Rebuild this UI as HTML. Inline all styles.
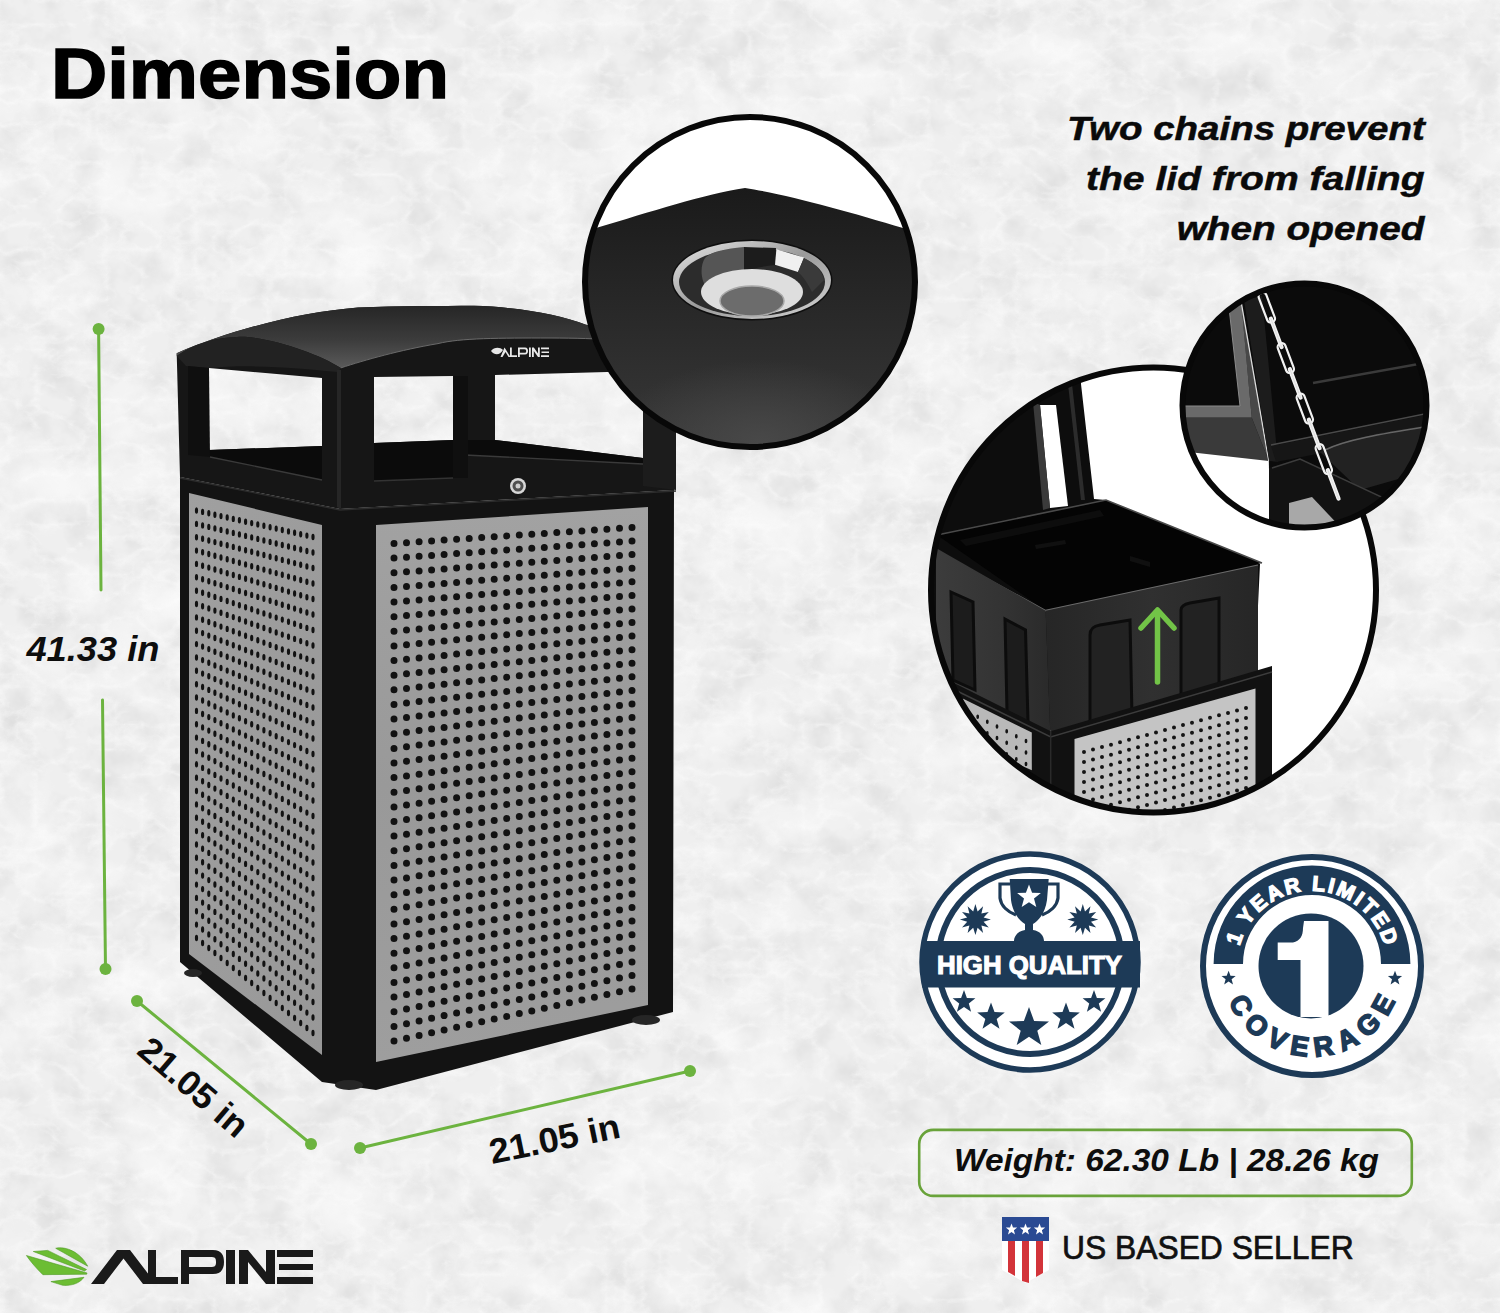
<!DOCTYPE html>
<html><head><meta charset="utf-8">
<style>
html,body{margin:0;padding:0;width:1500px;height:1313px;overflow:hidden;background:#eeeeee;}
svg{display:block;font-family:"Liberation Sans",sans-serif;}
</style></head>
<body>
<svg width="1500" height="1313" viewBox="0 0 1500 1313">
<defs>
  <filter id="tex" x="0" y="0" width="1500" height="1313" filterUnits="userSpaceOnUse" color-interpolation-filters="sRGB">
    <feTurbulence type="turbulence" baseFrequency="0.028 0.04" numOctaves="5" seed="5" result="n"/>
    <feColorMatrix in="n" type="matrix" values="0 0 0 0 1  0 0 0 0 1  0 0 0 0 1  -3 0 0 0 1.0" />
  </filter>
  <filter id="tex2" x="0" y="0" width="1500" height="1313" filterUnits="userSpaceOnUse" color-interpolation-filters="sRGB">
    <feTurbulence type="fractalNoise" baseFrequency="0.01 0.014" numOctaves="4" seed="9" result="n"/>
    <feColorMatrix in="n" type="matrix" values="0 0 0 0 1  0 0 0 0 1  0 0 0 0 1  2.2 0 0 0 -0.95" />
  </filter>
  <filter id="tex3" x="0" y="0" width="1500" height="1313" filterUnits="userSpaceOnUse" color-interpolation-filters="sRGB">
    <feTurbulence type="fractalNoise" baseFrequency="0.03 0.03" numOctaves="4" seed="21" result="n"/>
    <feColorMatrix in="n" type="matrix" values="0 0 0 0 0.7  0 0 0 0 0.7  0 0 0 0 0.7  0.5 0 0 0 -0.2" />
  </filter>
  <linearGradient id="lidTop" x1="0" y1="0" x2="0" y2="1">
    <stop offset="0" stop-color="#262626"/>
    <stop offset="0.55" stop-color="#3c3c3c"/>
    <stop offset="1" stop-color="#5a5a5a"/>
  </linearGradient>
  <linearGradient id="panelF" x1="0" y1="0" x2="0" y2="1">
    <stop offset="0" stop-color="#a2a2a2"/>
    <stop offset="0.5" stop-color="#999999"/>
    <stop offset="1" stop-color="#9e9e9e"/>
  </linearGradient>
  <linearGradient id="panelL" x1="0" y1="0" x2="1" y2="1">
    <stop offset="0" stop-color="#a0a0a0"/>
    <stop offset="1" stop-color="#989898"/>
  </linearGradient>
  <linearGradient id="lidg" x1="0" y1="0" x2="0" y2="1">
    <stop offset="0" stop-color="#1a1a1a"/>
    <stop offset="0.5" stop-color="#2a2a2a"/>
    <stop offset="1" stop-color="#3a3a3a"/>
  </linearGradient>
  <linearGradient id="rimg" x1="0" y1="0" x2="1" y2="1">
    <stop offset="0" stop-color="#e6e6e6"/>
    <stop offset="0.5" stop-color="#9a9a9a"/>
    <stop offset="1" stop-color="#d6d6d6"/>
  </linearGradient>
  <radialGradient id="glow1" cx="0.5" cy="0.5" r="0.5">
    <stop offset="0" stop-color="#4a4a4a" stop-opacity="0.9"/>
    <stop offset="1" stop-color="#4a4a4a" stop-opacity="0"/>
  </radialGradient>
  <radialGradient id="ashg" cx="0.5" cy="0.55" r="0.5">
    <stop offset="0.55" stop-color="#7a7a7a"/>
    <stop offset="0.85" stop-color="#cfcfcf"/>
    <stop offset="1" stop-color="#f2f2f2"/>
  </radialGradient>
  <linearGradient id="bucketL" x1="0" y1="0" x2="1" y2="0">
    <stop offset="0" stop-color="#3c3c3c"/>
    <stop offset="0.6" stop-color="#333333"/>
    <stop offset="1" stop-color="#2a2a2a"/>
  </linearGradient>
  <linearGradient id="bucketF" x1="0" y1="0" x2="1" y2="0">
    <stop offset="0" stop-color="#262626"/>
    <stop offset="0.5" stop-color="#303030"/>
    <stop offset="1" stop-color="#262626"/>
  </linearGradient>
</defs>

<rect x="0" y="0" width="1500" height="1313" fill="#efefef"/>
<rect x="0" y="0" width="1500" height="1313" filter="url(#tex3)"/>
<rect x="0" y="0" width="1500" height="1313" filter="url(#tex2)" opacity="0.6"/>
<rect x="0" y="0" width="1500" height="1313" filter="url(#tex)" opacity="0.45"/>
<g id="can">
<path fill="#161616" fill-rule="evenodd" d="
 M176.7,353.3 C230,330 300,312 358,307.5 C400,306 440,306 474,305.8 C520,307 560,315 586,324.7 C620,331 650,336 676,342 L674,490 L340,509 L180,477 Z
 M209,368 L322,378 L322,446 L209,450 Z
 M374,377 L453,376 L453,440 L374,443 Z
 M495,375 L643,371 L643,458 L495,440 Z"/>
<path fill="url(#lidTop)" d="M176.7,353.3 C230,330 300,312 358,307.5 C400,306 440,306 474,305.8 C520,307 560,315 586,324.7 C620,331 650,336 676,342 L676,346 C640,341 600,338 550,338 C500,338 460,338 438,343.6 C400,350 365,360 340.8,367.9 C320,355 280,340 245,336.7 C215,337 195,343 176.7,356 Z"/>
<path fill="none" stroke="#6a6a6a" stroke-width="1" d="M340.8,367.9 C365,360 400,350 438,343.6 C460,338 500,338 550,338 C600,338 640,341 676,346"/>
<path fill="#222222" d="M176.7,356 C195,343 215,337 245,336.7 C280,340 320,355 340.8,367.9 L338,372 C300,368 250,364 209,368 L186,366 Z"/>
<path fill="#0b0b0b" d="M209,450 L322,446 L322,480 L210,457 Z"/>
<path fill="none" stroke="#3a3a3a" stroke-width="1.3" d="M210,457 L322,480"/>
<path fill="#0b0b0b" d="M374,443 L453,440 L453,478 L374,481 Z"/>
<path fill="none" stroke="#333" stroke-width="1.3" d="M374,481 L453,478"/>
<path fill="#0b0b0b" d="M495,440 L643,458 L643,464 L465,455 L465,440 Z"/>
<path fill="none" stroke="#3a3a3a" stroke-width="1.3" d="M465,455 L643,464"/>
<path fill="#0f0f0f" d="M188,366 L209,368 L210,457 L188,455 Z"/>
<path fill="#0f0f0f" d="M453,376 L468,376 L468,478 L453,478 Z"/>
<path fill="#262626" d="M337,370 L341,370 L341,509 L337,507 Z"/>
<path fill="#131313" d="M180,477 L340,509 L674,490 L673,1012 L376,1090 L322,1082 L180,962 Z"/>
<path fill="none" stroke="#2c2c2c" stroke-width="1.3" d="M180,478 L340,510 L676,491"/>
<path fill="#1c1c1c" d="M643,371 L676,342 L676,490 L643,486 Z"/>
<path fill="url(#panelL)" d="M189,493 L322,525 L322,1055 L189,954 Z"/>
<path fill="url(#panelF)" d="M376,525 L648,507 L648,1005 L376,1062 Z"/>
<path fill="#121212" d="M390.5,543.5a3.5,3.5 0 1 0 7.0,0a3.5,3.5 0 1 0 -7.0,0M403.0,542.7a3.5,3.5 0 1 0 7.0,0a3.5,3.5 0 1 0 -7.0,0M415.6,541.8a3.5,3.5 0 1 0 7.0,0a3.5,3.5 0 1 0 -7.0,0M428.1,541.0a3.5,3.5 0 1 0 7.0,0a3.5,3.5 0 1 0 -7.0,0M440.6,540.1a3.5,3.5 0 1 0 7.0,0a3.5,3.5 0 1 0 -7.0,0M453.1,539.3a3.5,3.5 0 1 0 7.0,0a3.5,3.5 0 1 0 -7.0,0M465.7,538.4a3.5,3.5 0 1 0 7.0,0a3.5,3.5 0 1 0 -7.0,0M478.2,537.6a3.5,3.5 0 1 0 7.0,0a3.5,3.5 0 1 0 -7.0,0M490.7,536.8a3.5,3.5 0 1 0 7.0,0a3.5,3.5 0 1 0 -7.0,0M503.2,535.9a3.5,3.5 0 1 0 7.0,0a3.5,3.5 0 1 0 -7.0,0M515.8,535.1a3.5,3.5 0 1 0 7.0,0a3.5,3.5 0 1 0 -7.0,0M528.3,534.2a3.5,3.5 0 1 0 7.0,0a3.5,3.5 0 1 0 -7.0,0M540.8,533.4a3.5,3.5 0 1 0 7.0,0a3.5,3.5 0 1 0 -7.0,0M553.3,532.6a3.5,3.5 0 1 0 7.0,0a3.5,3.5 0 1 0 -7.0,0M565.9,531.7a3.5,3.5 0 1 0 7.0,0a3.5,3.5 0 1 0 -7.0,0M578.4,530.9a3.5,3.5 0 1 0 7.0,0a3.5,3.5 0 1 0 -7.0,0M590.9,530.0a3.5,3.5 0 1 0 7.0,0a3.5,3.5 0 1 0 -7.0,0M603.4,529.2a3.5,3.5 0 1 0 7.0,0a3.5,3.5 0 1 0 -7.0,0M616.0,528.3a3.5,3.5 0 1 0 7.0,0a3.5,3.5 0 1 0 -7.0,0M628.5,527.5a3.5,3.5 0 1 0 7.0,0a3.5,3.5 0 1 0 -7.0,0M390.5,558.1a3.5,3.5 0 1 0 7.0,0a3.5,3.5 0 1 0 -7.0,0M403.0,557.2a3.5,3.5 0 1 0 7.0,0a3.5,3.5 0 1 0 -7.0,0M415.6,556.3a3.5,3.5 0 1 0 7.0,0a3.5,3.5 0 1 0 -7.0,0M428.1,555.4a3.5,3.5 0 1 0 7.0,0a3.5,3.5 0 1 0 -7.0,0M440.6,554.5a3.5,3.5 0 1 0 7.0,0a3.5,3.5 0 1 0 -7.0,0M453.1,553.6a3.5,3.5 0 1 0 7.0,0a3.5,3.5 0 1 0 -7.0,0M465.7,552.7a3.5,3.5 0 1 0 7.0,0a3.5,3.5 0 1 0 -7.0,0M478.2,551.8a3.5,3.5 0 1 0 7.0,0a3.5,3.5 0 1 0 -7.0,0M490.7,550.9a3.5,3.5 0 1 0 7.0,0a3.5,3.5 0 1 0 -7.0,0M503.2,550.1a3.5,3.5 0 1 0 7.0,0a3.5,3.5 0 1 0 -7.0,0M515.8,549.2a3.5,3.5 0 1 0 7.0,0a3.5,3.5 0 1 0 -7.0,0M528.3,548.3a3.5,3.5 0 1 0 7.0,0a3.5,3.5 0 1 0 -7.0,0M540.8,547.4a3.5,3.5 0 1 0 7.0,0a3.5,3.5 0 1 0 -7.0,0M553.3,546.5a3.5,3.5 0 1 0 7.0,0a3.5,3.5 0 1 0 -7.0,0M565.9,545.6a3.5,3.5 0 1 0 7.0,0a3.5,3.5 0 1 0 -7.0,0M578.4,544.7a3.5,3.5 0 1 0 7.0,0a3.5,3.5 0 1 0 -7.0,0M590.9,543.8a3.5,3.5 0 1 0 7.0,0a3.5,3.5 0 1 0 -7.0,0M603.4,542.9a3.5,3.5 0 1 0 7.0,0a3.5,3.5 0 1 0 -7.0,0M616.0,542.0a3.5,3.5 0 1 0 7.0,0a3.5,3.5 0 1 0 -7.0,0M628.5,541.1a3.5,3.5 0 1 0 7.0,0a3.5,3.5 0 1 0 -7.0,0M390.5,572.8a3.5,3.5 0 1 0 7.0,0a3.5,3.5 0 1 0 -7.0,0M403.0,571.8a3.5,3.5 0 1 0 7.0,0a3.5,3.5 0 1 0 -7.0,0M415.6,570.9a3.5,3.5 0 1 0 7.0,0a3.5,3.5 0 1 0 -7.0,0M428.1,569.9a3.5,3.5 0 1 0 7.0,0a3.5,3.5 0 1 0 -7.0,0M440.6,569.0a3.5,3.5 0 1 0 7.0,0a3.5,3.5 0 1 0 -7.0,0M453.1,568.0a3.5,3.5 0 1 0 7.0,0a3.5,3.5 0 1 0 -7.0,0M465.7,567.0a3.5,3.5 0 1 0 7.0,0a3.5,3.5 0 1 0 -7.0,0M478.2,566.1a3.5,3.5 0 1 0 7.0,0a3.5,3.5 0 1 0 -7.0,0M490.7,565.1a3.5,3.5 0 1 0 7.0,0a3.5,3.5 0 1 0 -7.0,0M503.2,564.2a3.5,3.5 0 1 0 7.0,0a3.5,3.5 0 1 0 -7.0,0M515.8,563.2a3.5,3.5 0 1 0 7.0,0a3.5,3.5 0 1 0 -7.0,0M528.3,562.3a3.5,3.5 0 1 0 7.0,0a3.5,3.5 0 1 0 -7.0,0M540.8,561.3a3.5,3.5 0 1 0 7.0,0a3.5,3.5 0 1 0 -7.0,0M553.3,560.4a3.5,3.5 0 1 0 7.0,0a3.5,3.5 0 1 0 -7.0,0M565.9,559.4a3.5,3.5 0 1 0 7.0,0a3.5,3.5 0 1 0 -7.0,0M578.4,558.5a3.5,3.5 0 1 0 7.0,0a3.5,3.5 0 1 0 -7.0,0M590.9,557.5a3.5,3.5 0 1 0 7.0,0a3.5,3.5 0 1 0 -7.0,0M603.4,556.6a3.5,3.5 0 1 0 7.0,0a3.5,3.5 0 1 0 -7.0,0M616.0,555.6a3.5,3.5 0 1 0 7.0,0a3.5,3.5 0 1 0 -7.0,0M628.5,554.6a3.5,3.5 0 1 0 7.0,0a3.5,3.5 0 1 0 -7.0,0M390.5,587.4a3.5,3.5 0 1 0 7.0,0a3.5,3.5 0 1 0 -7.0,0M403.0,586.4a3.5,3.5 0 1 0 7.0,0a3.5,3.5 0 1 0 -7.0,0M415.6,585.4a3.5,3.5 0 1 0 7.0,0a3.5,3.5 0 1 0 -7.0,0M428.1,584.4a3.5,3.5 0 1 0 7.0,0a3.5,3.5 0 1 0 -7.0,0M440.6,583.4a3.5,3.5 0 1 0 7.0,0a3.5,3.5 0 1 0 -7.0,0M453.1,582.4a3.5,3.5 0 1 0 7.0,0a3.5,3.5 0 1 0 -7.0,0M465.7,581.3a3.5,3.5 0 1 0 7.0,0a3.5,3.5 0 1 0 -7.0,0M478.2,580.3a3.5,3.5 0 1 0 7.0,0a3.5,3.5 0 1 0 -7.0,0M490.7,579.3a3.5,3.5 0 1 0 7.0,0a3.5,3.5 0 1 0 -7.0,0M503.2,578.3a3.5,3.5 0 1 0 7.0,0a3.5,3.5 0 1 0 -7.0,0M515.8,577.3a3.5,3.5 0 1 0 7.0,0a3.5,3.5 0 1 0 -7.0,0M528.3,576.3a3.5,3.5 0 1 0 7.0,0a3.5,3.5 0 1 0 -7.0,0M540.8,575.3a3.5,3.5 0 1 0 7.0,0a3.5,3.5 0 1 0 -7.0,0M553.3,574.3a3.5,3.5 0 1 0 7.0,0a3.5,3.5 0 1 0 -7.0,0M565.9,573.3a3.5,3.5 0 1 0 7.0,0a3.5,3.5 0 1 0 -7.0,0M578.4,572.3a3.5,3.5 0 1 0 7.0,0a3.5,3.5 0 1 0 -7.0,0M590.9,571.2a3.5,3.5 0 1 0 7.0,0a3.5,3.5 0 1 0 -7.0,0M603.4,570.2a3.5,3.5 0 1 0 7.0,0a3.5,3.5 0 1 0 -7.0,0M616.0,569.2a3.5,3.5 0 1 0 7.0,0a3.5,3.5 0 1 0 -7.0,0M628.5,568.2a3.5,3.5 0 1 0 7.0,0a3.5,3.5 0 1 0 -7.0,0M390.5,602.0a3.5,3.5 0 1 0 7.0,0a3.5,3.5 0 1 0 -7.0,0M403.0,601.0a3.5,3.5 0 1 0 7.0,0a3.5,3.5 0 1 0 -7.0,0M415.6,599.9a3.5,3.5 0 1 0 7.0,0a3.5,3.5 0 1 0 -7.0,0M428.1,598.8a3.5,3.5 0 1 0 7.0,0a3.5,3.5 0 1 0 -7.0,0M440.6,597.8a3.5,3.5 0 1 0 7.0,0a3.5,3.5 0 1 0 -7.0,0M453.1,596.7a3.5,3.5 0 1 0 7.0,0a3.5,3.5 0 1 0 -7.0,0M465.7,595.6a3.5,3.5 0 1 0 7.0,0a3.5,3.5 0 1 0 -7.0,0M478.2,594.6a3.5,3.5 0 1 0 7.0,0a3.5,3.5 0 1 0 -7.0,0M490.7,593.5a3.5,3.5 0 1 0 7.0,0a3.5,3.5 0 1 0 -7.0,0M503.2,592.4a3.5,3.5 0 1 0 7.0,0a3.5,3.5 0 1 0 -7.0,0M515.8,591.4a3.5,3.5 0 1 0 7.0,0a3.5,3.5 0 1 0 -7.0,0M528.3,590.3a3.5,3.5 0 1 0 7.0,0a3.5,3.5 0 1 0 -7.0,0M540.8,589.2a3.5,3.5 0 1 0 7.0,0a3.5,3.5 0 1 0 -7.0,0M553.3,588.2a3.5,3.5 0 1 0 7.0,0a3.5,3.5 0 1 0 -7.0,0M565.9,587.1a3.5,3.5 0 1 0 7.0,0a3.5,3.5 0 1 0 -7.0,0M578.4,586.1a3.5,3.5 0 1 0 7.0,0a3.5,3.5 0 1 0 -7.0,0M590.9,585.0a3.5,3.5 0 1 0 7.0,0a3.5,3.5 0 1 0 -7.0,0M603.4,583.9a3.5,3.5 0 1 0 7.0,0a3.5,3.5 0 1 0 -7.0,0M616.0,582.9a3.5,3.5 0 1 0 7.0,0a3.5,3.5 0 1 0 -7.0,0M628.5,581.8a3.5,3.5 0 1 0 7.0,0a3.5,3.5 0 1 0 -7.0,0M390.5,616.7a3.5,3.5 0 1 0 7.0,0a3.5,3.5 0 1 0 -7.0,0M403.0,615.5a3.5,3.5 0 1 0 7.0,0a3.5,3.5 0 1 0 -7.0,0M415.6,614.4a3.5,3.5 0 1 0 7.0,0a3.5,3.5 0 1 0 -7.0,0M428.1,613.3a3.5,3.5 0 1 0 7.0,0a3.5,3.5 0 1 0 -7.0,0M440.6,612.2a3.5,3.5 0 1 0 7.0,0a3.5,3.5 0 1 0 -7.0,0M453.1,611.1a3.5,3.5 0 1 0 7.0,0a3.5,3.5 0 1 0 -7.0,0M465.7,609.9a3.5,3.5 0 1 0 7.0,0a3.5,3.5 0 1 0 -7.0,0M478.2,608.8a3.5,3.5 0 1 0 7.0,0a3.5,3.5 0 1 0 -7.0,0M490.7,607.7a3.5,3.5 0 1 0 7.0,0a3.5,3.5 0 1 0 -7.0,0M503.2,606.6a3.5,3.5 0 1 0 7.0,0a3.5,3.5 0 1 0 -7.0,0M515.8,605.5a3.5,3.5 0 1 0 7.0,0a3.5,3.5 0 1 0 -7.0,0M528.3,604.3a3.5,3.5 0 1 0 7.0,0a3.5,3.5 0 1 0 -7.0,0M540.8,603.2a3.5,3.5 0 1 0 7.0,0a3.5,3.5 0 1 0 -7.0,0M553.3,602.1a3.5,3.5 0 1 0 7.0,0a3.5,3.5 0 1 0 -7.0,0M565.9,601.0a3.5,3.5 0 1 0 7.0,0a3.5,3.5 0 1 0 -7.0,0M578.4,599.9a3.5,3.5 0 1 0 7.0,0a3.5,3.5 0 1 0 -7.0,0M590.9,598.7a3.5,3.5 0 1 0 7.0,0a3.5,3.5 0 1 0 -7.0,0M603.4,597.6a3.5,3.5 0 1 0 7.0,0a3.5,3.5 0 1 0 -7.0,0M616.0,596.5a3.5,3.5 0 1 0 7.0,0a3.5,3.5 0 1 0 -7.0,0M628.5,595.4a3.5,3.5 0 1 0 7.0,0a3.5,3.5 0 1 0 -7.0,0M390.5,631.3a3.5,3.5 0 1 0 7.0,0a3.5,3.5 0 1 0 -7.0,0M403.0,630.1a3.5,3.5 0 1 0 7.0,0a3.5,3.5 0 1 0 -7.0,0M415.6,628.9a3.5,3.5 0 1 0 7.0,0a3.5,3.5 0 1 0 -7.0,0M428.1,627.8a3.5,3.5 0 1 0 7.0,0a3.5,3.5 0 1 0 -7.0,0M440.6,626.6a3.5,3.5 0 1 0 7.0,0a3.5,3.5 0 1 0 -7.0,0M453.1,625.4a3.5,3.5 0 1 0 7.0,0a3.5,3.5 0 1 0 -7.0,0M465.7,624.2a3.5,3.5 0 1 0 7.0,0a3.5,3.5 0 1 0 -7.0,0M478.2,623.1a3.5,3.5 0 1 0 7.0,0a3.5,3.5 0 1 0 -7.0,0M490.7,621.9a3.5,3.5 0 1 0 7.0,0a3.5,3.5 0 1 0 -7.0,0M503.2,620.7a3.5,3.5 0 1 0 7.0,0a3.5,3.5 0 1 0 -7.0,0M515.8,619.5a3.5,3.5 0 1 0 7.0,0a3.5,3.5 0 1 0 -7.0,0M528.3,618.4a3.5,3.5 0 1 0 7.0,0a3.5,3.5 0 1 0 -7.0,0M540.8,617.2a3.5,3.5 0 1 0 7.0,0a3.5,3.5 0 1 0 -7.0,0M553.3,616.0a3.5,3.5 0 1 0 7.0,0a3.5,3.5 0 1 0 -7.0,0M565.9,614.8a3.5,3.5 0 1 0 7.0,0a3.5,3.5 0 1 0 -7.0,0M578.4,613.6a3.5,3.5 0 1 0 7.0,0a3.5,3.5 0 1 0 -7.0,0M590.9,612.5a3.5,3.5 0 1 0 7.0,0a3.5,3.5 0 1 0 -7.0,0M603.4,611.3a3.5,3.5 0 1 0 7.0,0a3.5,3.5 0 1 0 -7.0,0M616.0,610.1a3.5,3.5 0 1 0 7.0,0a3.5,3.5 0 1 0 -7.0,0M628.5,608.9a3.5,3.5 0 1 0 7.0,0a3.5,3.5 0 1 0 -7.0,0M390.5,645.9a3.5,3.5 0 1 0 7.0,0a3.5,3.5 0 1 0 -7.0,0M403.0,644.7a3.5,3.5 0 1 0 7.0,0a3.5,3.5 0 1 0 -7.0,0M415.6,643.5a3.5,3.5 0 1 0 7.0,0a3.5,3.5 0 1 0 -7.0,0M428.1,642.2a3.5,3.5 0 1 0 7.0,0a3.5,3.5 0 1 0 -7.0,0M440.6,641.0a3.5,3.5 0 1 0 7.0,0a3.5,3.5 0 1 0 -7.0,0M453.1,639.8a3.5,3.5 0 1 0 7.0,0a3.5,3.5 0 1 0 -7.0,0M465.7,638.5a3.5,3.5 0 1 0 7.0,0a3.5,3.5 0 1 0 -7.0,0M478.2,637.3a3.5,3.5 0 1 0 7.0,0a3.5,3.5 0 1 0 -7.0,0M490.7,636.1a3.5,3.5 0 1 0 7.0,0a3.5,3.5 0 1 0 -7.0,0M503.2,634.8a3.5,3.5 0 1 0 7.0,0a3.5,3.5 0 1 0 -7.0,0M515.8,633.6a3.5,3.5 0 1 0 7.0,0a3.5,3.5 0 1 0 -7.0,0M528.3,632.4a3.5,3.5 0 1 0 7.0,0a3.5,3.5 0 1 0 -7.0,0M540.8,631.1a3.5,3.5 0 1 0 7.0,0a3.5,3.5 0 1 0 -7.0,0M553.3,629.9a3.5,3.5 0 1 0 7.0,0a3.5,3.5 0 1 0 -7.0,0M565.9,628.7a3.5,3.5 0 1 0 7.0,0a3.5,3.5 0 1 0 -7.0,0M578.4,627.4a3.5,3.5 0 1 0 7.0,0a3.5,3.5 0 1 0 -7.0,0M590.9,626.2a3.5,3.5 0 1 0 7.0,0a3.5,3.5 0 1 0 -7.0,0M603.4,625.0a3.5,3.5 0 1 0 7.0,0a3.5,3.5 0 1 0 -7.0,0M616.0,623.7a3.5,3.5 0 1 0 7.0,0a3.5,3.5 0 1 0 -7.0,0M628.5,622.5a3.5,3.5 0 1 0 7.0,0a3.5,3.5 0 1 0 -7.0,0M390.5,660.6a3.5,3.5 0 1 0 7.0,0a3.5,3.5 0 1 0 -7.0,0M403.0,659.3a3.5,3.5 0 1 0 7.0,0a3.5,3.5 0 1 0 -7.0,0M415.6,658.0a3.5,3.5 0 1 0 7.0,0a3.5,3.5 0 1 0 -7.0,0M428.1,656.7a3.5,3.5 0 1 0 7.0,0a3.5,3.5 0 1 0 -7.0,0M440.6,655.4a3.5,3.5 0 1 0 7.0,0a3.5,3.5 0 1 0 -7.0,0M453.1,654.1a3.5,3.5 0 1 0 7.0,0a3.5,3.5 0 1 0 -7.0,0M465.7,652.8a3.5,3.5 0 1 0 7.0,0a3.5,3.5 0 1 0 -7.0,0M478.2,651.5a3.5,3.5 0 1 0 7.0,0a3.5,3.5 0 1 0 -7.0,0M490.7,650.3a3.5,3.5 0 1 0 7.0,0a3.5,3.5 0 1 0 -7.0,0M503.2,649.0a3.5,3.5 0 1 0 7.0,0a3.5,3.5 0 1 0 -7.0,0M515.8,647.7a3.5,3.5 0 1 0 7.0,0a3.5,3.5 0 1 0 -7.0,0M528.3,646.4a3.5,3.5 0 1 0 7.0,0a3.5,3.5 0 1 0 -7.0,0M540.8,645.1a3.5,3.5 0 1 0 7.0,0a3.5,3.5 0 1 0 -7.0,0M553.3,643.8a3.5,3.5 0 1 0 7.0,0a3.5,3.5 0 1 0 -7.0,0M565.9,642.5a3.5,3.5 0 1 0 7.0,0a3.5,3.5 0 1 0 -7.0,0M578.4,641.2a3.5,3.5 0 1 0 7.0,0a3.5,3.5 0 1 0 -7.0,0M590.9,640.0a3.5,3.5 0 1 0 7.0,0a3.5,3.5 0 1 0 -7.0,0M603.4,638.7a3.5,3.5 0 1 0 7.0,0a3.5,3.5 0 1 0 -7.0,0M616.0,637.4a3.5,3.5 0 1 0 7.0,0a3.5,3.5 0 1 0 -7.0,0M628.5,636.1a3.5,3.5 0 1 0 7.0,0a3.5,3.5 0 1 0 -7.0,0M390.5,675.2a3.5,3.5 0 1 0 7.0,0a3.5,3.5 0 1 0 -7.0,0M403.0,673.8a3.5,3.5 0 1 0 7.0,0a3.5,3.5 0 1 0 -7.0,0M415.6,672.5a3.5,3.5 0 1 0 7.0,0a3.5,3.5 0 1 0 -7.0,0M428.1,671.2a3.5,3.5 0 1 0 7.0,0a3.5,3.5 0 1 0 -7.0,0M440.6,669.8a3.5,3.5 0 1 0 7.0,0a3.5,3.5 0 1 0 -7.0,0M453.1,668.5a3.5,3.5 0 1 0 7.0,0a3.5,3.5 0 1 0 -7.0,0M465.7,667.1a3.5,3.5 0 1 0 7.0,0a3.5,3.5 0 1 0 -7.0,0M478.2,665.8a3.5,3.5 0 1 0 7.0,0a3.5,3.5 0 1 0 -7.0,0M490.7,664.4a3.5,3.5 0 1 0 7.0,0a3.5,3.5 0 1 0 -7.0,0M503.2,663.1a3.5,3.5 0 1 0 7.0,0a3.5,3.5 0 1 0 -7.0,0M515.8,661.8a3.5,3.5 0 1 0 7.0,0a3.5,3.5 0 1 0 -7.0,0M528.3,660.4a3.5,3.5 0 1 0 7.0,0a3.5,3.5 0 1 0 -7.0,0M540.8,659.1a3.5,3.5 0 1 0 7.0,0a3.5,3.5 0 1 0 -7.0,0M553.3,657.7a3.5,3.5 0 1 0 7.0,0a3.5,3.5 0 1 0 -7.0,0M565.9,656.4a3.5,3.5 0 1 0 7.0,0a3.5,3.5 0 1 0 -7.0,0M578.4,655.0a3.5,3.5 0 1 0 7.0,0a3.5,3.5 0 1 0 -7.0,0M590.9,653.7a3.5,3.5 0 1 0 7.0,0a3.5,3.5 0 1 0 -7.0,0M603.4,652.3a3.5,3.5 0 1 0 7.0,0a3.5,3.5 0 1 0 -7.0,0M616.0,651.0a3.5,3.5 0 1 0 7.0,0a3.5,3.5 0 1 0 -7.0,0M628.5,649.7a3.5,3.5 0 1 0 7.0,0a3.5,3.5 0 1 0 -7.0,0M390.5,689.8a3.5,3.5 0 1 0 7.0,0a3.5,3.5 0 1 0 -7.0,0M403.0,688.4a3.5,3.5 0 1 0 7.0,0a3.5,3.5 0 1 0 -7.0,0M415.6,687.0a3.5,3.5 0 1 0 7.0,0a3.5,3.5 0 1 0 -7.0,0M428.1,685.6a3.5,3.5 0 1 0 7.0,0a3.5,3.5 0 1 0 -7.0,0M440.6,684.2a3.5,3.5 0 1 0 7.0,0a3.5,3.5 0 1 0 -7.0,0M453.1,682.8a3.5,3.5 0 1 0 7.0,0a3.5,3.5 0 1 0 -7.0,0M465.7,681.4a3.5,3.5 0 1 0 7.0,0a3.5,3.5 0 1 0 -7.0,0M478.2,680.0a3.5,3.5 0 1 0 7.0,0a3.5,3.5 0 1 0 -7.0,0M490.7,678.6a3.5,3.5 0 1 0 7.0,0a3.5,3.5 0 1 0 -7.0,0M503.2,677.2a3.5,3.5 0 1 0 7.0,0a3.5,3.5 0 1 0 -7.0,0M515.8,675.8a3.5,3.5 0 1 0 7.0,0a3.5,3.5 0 1 0 -7.0,0M528.3,674.4a3.5,3.5 0 1 0 7.0,0a3.5,3.5 0 1 0 -7.0,0M540.8,673.0a3.5,3.5 0 1 0 7.0,0a3.5,3.5 0 1 0 -7.0,0M553.3,671.6a3.5,3.5 0 1 0 7.0,0a3.5,3.5 0 1 0 -7.0,0M565.9,670.2a3.5,3.5 0 1 0 7.0,0a3.5,3.5 0 1 0 -7.0,0M578.4,668.8a3.5,3.5 0 1 0 7.0,0a3.5,3.5 0 1 0 -7.0,0M590.9,667.4a3.5,3.5 0 1 0 7.0,0a3.5,3.5 0 1 0 -7.0,0M603.4,666.0a3.5,3.5 0 1 0 7.0,0a3.5,3.5 0 1 0 -7.0,0M616.0,664.6a3.5,3.5 0 1 0 7.0,0a3.5,3.5 0 1 0 -7.0,0M628.5,663.2a3.5,3.5 0 1 0 7.0,0a3.5,3.5 0 1 0 -7.0,0M390.5,704.5a3.5,3.5 0 1 0 7.0,0a3.5,3.5 0 1 0 -7.0,0M403.0,703.0a3.5,3.5 0 1 0 7.0,0a3.5,3.5 0 1 0 -7.0,0M415.6,701.5a3.5,3.5 0 1 0 7.0,0a3.5,3.5 0 1 0 -7.0,0M428.1,700.1a3.5,3.5 0 1 0 7.0,0a3.5,3.5 0 1 0 -7.0,0M440.6,698.6a3.5,3.5 0 1 0 7.0,0a3.5,3.5 0 1 0 -7.0,0M453.1,697.2a3.5,3.5 0 1 0 7.0,0a3.5,3.5 0 1 0 -7.0,0M465.7,695.7a3.5,3.5 0 1 0 7.0,0a3.5,3.5 0 1 0 -7.0,0M478.2,694.3a3.5,3.5 0 1 0 7.0,0a3.5,3.5 0 1 0 -7.0,0M490.7,692.8a3.5,3.5 0 1 0 7.0,0a3.5,3.5 0 1 0 -7.0,0M503.2,691.4a3.5,3.5 0 1 0 7.0,0a3.5,3.5 0 1 0 -7.0,0M515.8,689.9a3.5,3.5 0 1 0 7.0,0a3.5,3.5 0 1 0 -7.0,0M528.3,688.4a3.5,3.5 0 1 0 7.0,0a3.5,3.5 0 1 0 -7.0,0M540.8,687.0a3.5,3.5 0 1 0 7.0,0a3.5,3.5 0 1 0 -7.0,0M553.3,685.5a3.5,3.5 0 1 0 7.0,0a3.5,3.5 0 1 0 -7.0,0M565.9,684.1a3.5,3.5 0 1 0 7.0,0a3.5,3.5 0 1 0 -7.0,0M578.4,682.6a3.5,3.5 0 1 0 7.0,0a3.5,3.5 0 1 0 -7.0,0M590.9,681.2a3.5,3.5 0 1 0 7.0,0a3.5,3.5 0 1 0 -7.0,0M603.4,679.7a3.5,3.5 0 1 0 7.0,0a3.5,3.5 0 1 0 -7.0,0M616.0,678.3a3.5,3.5 0 1 0 7.0,0a3.5,3.5 0 1 0 -7.0,0M628.5,676.8a3.5,3.5 0 1 0 7.0,0a3.5,3.5 0 1 0 -7.0,0M390.5,719.1a3.5,3.5 0 1 0 7.0,0a3.5,3.5 0 1 0 -7.0,0M403.0,717.6a3.5,3.5 0 1 0 7.0,0a3.5,3.5 0 1 0 -7.0,0M415.6,716.1a3.5,3.5 0 1 0 7.0,0a3.5,3.5 0 1 0 -7.0,0M428.1,714.6a3.5,3.5 0 1 0 7.0,0a3.5,3.5 0 1 0 -7.0,0M440.6,713.0a3.5,3.5 0 1 0 7.0,0a3.5,3.5 0 1 0 -7.0,0M453.1,711.5a3.5,3.5 0 1 0 7.0,0a3.5,3.5 0 1 0 -7.0,0M465.7,710.0a3.5,3.5 0 1 0 7.0,0a3.5,3.5 0 1 0 -7.0,0M478.2,708.5a3.5,3.5 0 1 0 7.0,0a3.5,3.5 0 1 0 -7.0,0M490.7,707.0a3.5,3.5 0 1 0 7.0,0a3.5,3.5 0 1 0 -7.0,0M503.2,705.5a3.5,3.5 0 1 0 7.0,0a3.5,3.5 0 1 0 -7.0,0M515.8,704.0a3.5,3.5 0 1 0 7.0,0a3.5,3.5 0 1 0 -7.0,0M528.3,702.5a3.5,3.5 0 1 0 7.0,0a3.5,3.5 0 1 0 -7.0,0M540.8,701.0a3.5,3.5 0 1 0 7.0,0a3.5,3.5 0 1 0 -7.0,0M553.3,699.4a3.5,3.5 0 1 0 7.0,0a3.5,3.5 0 1 0 -7.0,0M565.9,697.9a3.5,3.5 0 1 0 7.0,0a3.5,3.5 0 1 0 -7.0,0M578.4,696.4a3.5,3.5 0 1 0 7.0,0a3.5,3.5 0 1 0 -7.0,0M590.9,694.9a3.5,3.5 0 1 0 7.0,0a3.5,3.5 0 1 0 -7.0,0M603.4,693.4a3.5,3.5 0 1 0 7.0,0a3.5,3.5 0 1 0 -7.0,0M616.0,691.9a3.5,3.5 0 1 0 7.0,0a3.5,3.5 0 1 0 -7.0,0M628.5,690.4a3.5,3.5 0 1 0 7.0,0a3.5,3.5 0 1 0 -7.0,0M390.5,733.7a3.5,3.5 0 1 0 7.0,0a3.5,3.5 0 1 0 -7.0,0M403.0,732.2a3.5,3.5 0 1 0 7.0,0a3.5,3.5 0 1 0 -7.0,0M415.6,730.6a3.5,3.5 0 1 0 7.0,0a3.5,3.5 0 1 0 -7.0,0M428.1,729.0a3.5,3.5 0 1 0 7.0,0a3.5,3.5 0 1 0 -7.0,0M440.6,727.5a3.5,3.5 0 1 0 7.0,0a3.5,3.5 0 1 0 -7.0,0M453.1,725.9a3.5,3.5 0 1 0 7.0,0a3.5,3.5 0 1 0 -7.0,0M465.7,724.3a3.5,3.5 0 1 0 7.0,0a3.5,3.5 0 1 0 -7.0,0M478.2,722.8a3.5,3.5 0 1 0 7.0,0a3.5,3.5 0 1 0 -7.0,0M490.7,721.2a3.5,3.5 0 1 0 7.0,0a3.5,3.5 0 1 0 -7.0,0M503.2,719.6a3.5,3.5 0 1 0 7.0,0a3.5,3.5 0 1 0 -7.0,0M515.8,718.1a3.5,3.5 0 1 0 7.0,0a3.5,3.5 0 1 0 -7.0,0M528.3,716.5a3.5,3.5 0 1 0 7.0,0a3.5,3.5 0 1 0 -7.0,0M540.8,714.9a3.5,3.5 0 1 0 7.0,0a3.5,3.5 0 1 0 -7.0,0M553.3,713.4a3.5,3.5 0 1 0 7.0,0a3.5,3.5 0 1 0 -7.0,0M565.9,711.8a3.5,3.5 0 1 0 7.0,0a3.5,3.5 0 1 0 -7.0,0M578.4,710.2a3.5,3.5 0 1 0 7.0,0a3.5,3.5 0 1 0 -7.0,0M590.9,708.7a3.5,3.5 0 1 0 7.0,0a3.5,3.5 0 1 0 -7.0,0M603.4,707.1a3.5,3.5 0 1 0 7.0,0a3.5,3.5 0 1 0 -7.0,0M616.0,705.5a3.5,3.5 0 1 0 7.0,0a3.5,3.5 0 1 0 -7.0,0M628.5,704.0a3.5,3.5 0 1 0 7.0,0a3.5,3.5 0 1 0 -7.0,0M390.5,748.4a3.5,3.5 0 1 0 7.0,0a3.5,3.5 0 1 0 -7.0,0M403.0,746.7a3.5,3.5 0 1 0 7.0,0a3.5,3.5 0 1 0 -7.0,0M415.6,745.1a3.5,3.5 0 1 0 7.0,0a3.5,3.5 0 1 0 -7.0,0M428.1,743.5a3.5,3.5 0 1 0 7.0,0a3.5,3.5 0 1 0 -7.0,0M440.6,741.9a3.5,3.5 0 1 0 7.0,0a3.5,3.5 0 1 0 -7.0,0M453.1,740.2a3.5,3.5 0 1 0 7.0,0a3.5,3.5 0 1 0 -7.0,0M465.7,738.6a3.5,3.5 0 1 0 7.0,0a3.5,3.5 0 1 0 -7.0,0M478.2,737.0a3.5,3.5 0 1 0 7.0,0a3.5,3.5 0 1 0 -7.0,0M490.7,735.4a3.5,3.5 0 1 0 7.0,0a3.5,3.5 0 1 0 -7.0,0M503.2,733.8a3.5,3.5 0 1 0 7.0,0a3.5,3.5 0 1 0 -7.0,0M515.8,732.1a3.5,3.5 0 1 0 7.0,0a3.5,3.5 0 1 0 -7.0,0M528.3,730.5a3.5,3.5 0 1 0 7.0,0a3.5,3.5 0 1 0 -7.0,0M540.8,728.9a3.5,3.5 0 1 0 7.0,0a3.5,3.5 0 1 0 -7.0,0M553.3,727.3a3.5,3.5 0 1 0 7.0,0a3.5,3.5 0 1 0 -7.0,0M565.9,725.6a3.5,3.5 0 1 0 7.0,0a3.5,3.5 0 1 0 -7.0,0M578.4,724.0a3.5,3.5 0 1 0 7.0,0a3.5,3.5 0 1 0 -7.0,0M590.9,722.4a3.5,3.5 0 1 0 7.0,0a3.5,3.5 0 1 0 -7.0,0M603.4,720.8a3.5,3.5 0 1 0 7.0,0a3.5,3.5 0 1 0 -7.0,0M616.0,719.2a3.5,3.5 0 1 0 7.0,0a3.5,3.5 0 1 0 -7.0,0M628.5,717.5a3.5,3.5 0 1 0 7.0,0a3.5,3.5 0 1 0 -7.0,0M390.5,763.0a3.5,3.5 0 1 0 7.0,0a3.5,3.5 0 1 0 -7.0,0M403.0,761.3a3.5,3.5 0 1 0 7.0,0a3.5,3.5 0 1 0 -7.0,0M415.6,759.6a3.5,3.5 0 1 0 7.0,0a3.5,3.5 0 1 0 -7.0,0M428.1,758.0a3.5,3.5 0 1 0 7.0,0a3.5,3.5 0 1 0 -7.0,0M440.6,756.3a3.5,3.5 0 1 0 7.0,0a3.5,3.5 0 1 0 -7.0,0M453.1,754.6a3.5,3.5 0 1 0 7.0,0a3.5,3.5 0 1 0 -7.0,0M465.7,752.9a3.5,3.5 0 1 0 7.0,0a3.5,3.5 0 1 0 -7.0,0M478.2,751.2a3.5,3.5 0 1 0 7.0,0a3.5,3.5 0 1 0 -7.0,0M490.7,749.6a3.5,3.5 0 1 0 7.0,0a3.5,3.5 0 1 0 -7.0,0M503.2,747.9a3.5,3.5 0 1 0 7.0,0a3.5,3.5 0 1 0 -7.0,0M515.8,746.2a3.5,3.5 0 1 0 7.0,0a3.5,3.5 0 1 0 -7.0,0M528.3,744.5a3.5,3.5 0 1 0 7.0,0a3.5,3.5 0 1 0 -7.0,0M540.8,742.8a3.5,3.5 0 1 0 7.0,0a3.5,3.5 0 1 0 -7.0,0M553.3,741.2a3.5,3.5 0 1 0 7.0,0a3.5,3.5 0 1 0 -7.0,0M565.9,739.5a3.5,3.5 0 1 0 7.0,0a3.5,3.5 0 1 0 -7.0,0M578.4,737.8a3.5,3.5 0 1 0 7.0,0a3.5,3.5 0 1 0 -7.0,0M590.9,736.1a3.5,3.5 0 1 0 7.0,0a3.5,3.5 0 1 0 -7.0,0M603.4,734.5a3.5,3.5 0 1 0 7.0,0a3.5,3.5 0 1 0 -7.0,0M616.0,732.8a3.5,3.5 0 1 0 7.0,0a3.5,3.5 0 1 0 -7.0,0M628.5,731.1a3.5,3.5 0 1 0 7.0,0a3.5,3.5 0 1 0 -7.0,0M390.5,777.6a3.5,3.5 0 1 0 7.0,0a3.5,3.5 0 1 0 -7.0,0M403.0,775.9a3.5,3.5 0 1 0 7.0,0a3.5,3.5 0 1 0 -7.0,0M415.6,774.2a3.5,3.5 0 1 0 7.0,0a3.5,3.5 0 1 0 -7.0,0M428.1,772.4a3.5,3.5 0 1 0 7.0,0a3.5,3.5 0 1 0 -7.0,0M440.6,770.7a3.5,3.5 0 1 0 7.0,0a3.5,3.5 0 1 0 -7.0,0M453.1,768.9a3.5,3.5 0 1 0 7.0,0a3.5,3.5 0 1 0 -7.0,0M465.7,767.2a3.5,3.5 0 1 0 7.0,0a3.5,3.5 0 1 0 -7.0,0M478.2,765.5a3.5,3.5 0 1 0 7.0,0a3.5,3.5 0 1 0 -7.0,0M490.7,763.7a3.5,3.5 0 1 0 7.0,0a3.5,3.5 0 1 0 -7.0,0M503.2,762.0a3.5,3.5 0 1 0 7.0,0a3.5,3.5 0 1 0 -7.0,0M515.8,760.3a3.5,3.5 0 1 0 7.0,0a3.5,3.5 0 1 0 -7.0,0M528.3,758.5a3.5,3.5 0 1 0 7.0,0a3.5,3.5 0 1 0 -7.0,0M540.8,756.8a3.5,3.5 0 1 0 7.0,0a3.5,3.5 0 1 0 -7.0,0M553.3,755.1a3.5,3.5 0 1 0 7.0,0a3.5,3.5 0 1 0 -7.0,0M565.9,753.3a3.5,3.5 0 1 0 7.0,0a3.5,3.5 0 1 0 -7.0,0M578.4,751.6a3.5,3.5 0 1 0 7.0,0a3.5,3.5 0 1 0 -7.0,0M590.9,749.9a3.5,3.5 0 1 0 7.0,0a3.5,3.5 0 1 0 -7.0,0M603.4,748.1a3.5,3.5 0 1 0 7.0,0a3.5,3.5 0 1 0 -7.0,0M616.0,746.4a3.5,3.5 0 1 0 7.0,0a3.5,3.5 0 1 0 -7.0,0M628.5,744.7a3.5,3.5 0 1 0 7.0,0a3.5,3.5 0 1 0 -7.0,0M390.5,792.2a3.5,3.5 0 1 0 7.0,0a3.5,3.5 0 1 0 -7.0,0M403.0,790.5a3.5,3.5 0 1 0 7.0,0a3.5,3.5 0 1 0 -7.0,0M415.6,788.7a3.5,3.5 0 1 0 7.0,0a3.5,3.5 0 1 0 -7.0,0M428.1,786.9a3.5,3.5 0 1 0 7.0,0a3.5,3.5 0 1 0 -7.0,0M440.6,785.1a3.5,3.5 0 1 0 7.0,0a3.5,3.5 0 1 0 -7.0,0M453.1,783.3a3.5,3.5 0 1 0 7.0,0a3.5,3.5 0 1 0 -7.0,0M465.7,781.5a3.5,3.5 0 1 0 7.0,0a3.5,3.5 0 1 0 -7.0,0M478.2,779.7a3.5,3.5 0 1 0 7.0,0a3.5,3.5 0 1 0 -7.0,0M490.7,777.9a3.5,3.5 0 1 0 7.0,0a3.5,3.5 0 1 0 -7.0,0M503.2,776.1a3.5,3.5 0 1 0 7.0,0a3.5,3.5 0 1 0 -7.0,0M515.8,774.4a3.5,3.5 0 1 0 7.0,0a3.5,3.5 0 1 0 -7.0,0M528.3,772.6a3.5,3.5 0 1 0 7.0,0a3.5,3.5 0 1 0 -7.0,0M540.8,770.8a3.5,3.5 0 1 0 7.0,0a3.5,3.5 0 1 0 -7.0,0M553.3,769.0a3.5,3.5 0 1 0 7.0,0a3.5,3.5 0 1 0 -7.0,0M565.9,767.2a3.5,3.5 0 1 0 7.0,0a3.5,3.5 0 1 0 -7.0,0M578.4,765.4a3.5,3.5 0 1 0 7.0,0a3.5,3.5 0 1 0 -7.0,0M590.9,763.6a3.5,3.5 0 1 0 7.0,0a3.5,3.5 0 1 0 -7.0,0M603.4,761.8a3.5,3.5 0 1 0 7.0,0a3.5,3.5 0 1 0 -7.0,0M616.0,760.0a3.5,3.5 0 1 0 7.0,0a3.5,3.5 0 1 0 -7.0,0M628.5,758.2a3.5,3.5 0 1 0 7.0,0a3.5,3.5 0 1 0 -7.0,0M390.5,806.9a3.5,3.5 0 1 0 7.0,0a3.5,3.5 0 1 0 -7.0,0M403.0,805.0a3.5,3.5 0 1 0 7.0,0a3.5,3.5 0 1 0 -7.0,0M415.6,803.2a3.5,3.5 0 1 0 7.0,0a3.5,3.5 0 1 0 -7.0,0M428.1,801.3a3.5,3.5 0 1 0 7.0,0a3.5,3.5 0 1 0 -7.0,0M440.6,799.5a3.5,3.5 0 1 0 7.0,0a3.5,3.5 0 1 0 -7.0,0M453.1,797.7a3.5,3.5 0 1 0 7.0,0a3.5,3.5 0 1 0 -7.0,0M465.7,795.8a3.5,3.5 0 1 0 7.0,0a3.5,3.5 0 1 0 -7.0,0M478.2,794.0a3.5,3.5 0 1 0 7.0,0a3.5,3.5 0 1 0 -7.0,0M490.7,792.1a3.5,3.5 0 1 0 7.0,0a3.5,3.5 0 1 0 -7.0,0M503.2,790.3a3.5,3.5 0 1 0 7.0,0a3.5,3.5 0 1 0 -7.0,0M515.8,788.4a3.5,3.5 0 1 0 7.0,0a3.5,3.5 0 1 0 -7.0,0M528.3,786.6a3.5,3.5 0 1 0 7.0,0a3.5,3.5 0 1 0 -7.0,0M540.8,784.7a3.5,3.5 0 1 0 7.0,0a3.5,3.5 0 1 0 -7.0,0M553.3,782.9a3.5,3.5 0 1 0 7.0,0a3.5,3.5 0 1 0 -7.0,0M565.9,781.0a3.5,3.5 0 1 0 7.0,0a3.5,3.5 0 1 0 -7.0,0M578.4,779.2a3.5,3.5 0 1 0 7.0,0a3.5,3.5 0 1 0 -7.0,0M590.9,777.4a3.5,3.5 0 1 0 7.0,0a3.5,3.5 0 1 0 -7.0,0M603.4,775.5a3.5,3.5 0 1 0 7.0,0a3.5,3.5 0 1 0 -7.0,0M616.0,773.7a3.5,3.5 0 1 0 7.0,0a3.5,3.5 0 1 0 -7.0,0M628.5,771.8a3.5,3.5 0 1 0 7.0,0a3.5,3.5 0 1 0 -7.0,0M390.5,821.5a3.5,3.5 0 1 0 7.0,0a3.5,3.5 0 1 0 -7.0,0M403.0,819.6a3.5,3.5 0 1 0 7.0,0a3.5,3.5 0 1 0 -7.0,0M415.6,817.7a3.5,3.5 0 1 0 7.0,0a3.5,3.5 0 1 0 -7.0,0M428.1,815.8a3.5,3.5 0 1 0 7.0,0a3.5,3.5 0 1 0 -7.0,0M440.6,813.9a3.5,3.5 0 1 0 7.0,0a3.5,3.5 0 1 0 -7.0,0M453.1,812.0a3.5,3.5 0 1 0 7.0,0a3.5,3.5 0 1 0 -7.0,0M465.7,810.1a3.5,3.5 0 1 0 7.0,0a3.5,3.5 0 1 0 -7.0,0M478.2,808.2a3.5,3.5 0 1 0 7.0,0a3.5,3.5 0 1 0 -7.0,0M490.7,806.3a3.5,3.5 0 1 0 7.0,0a3.5,3.5 0 1 0 -7.0,0M503.2,804.4a3.5,3.5 0 1 0 7.0,0a3.5,3.5 0 1 0 -7.0,0M515.8,802.5a3.5,3.5 0 1 0 7.0,0a3.5,3.5 0 1 0 -7.0,0M528.3,800.6a3.5,3.5 0 1 0 7.0,0a3.5,3.5 0 1 0 -7.0,0M540.8,798.7a3.5,3.5 0 1 0 7.0,0a3.5,3.5 0 1 0 -7.0,0M553.3,796.8a3.5,3.5 0 1 0 7.0,0a3.5,3.5 0 1 0 -7.0,0M565.9,794.9a3.5,3.5 0 1 0 7.0,0a3.5,3.5 0 1 0 -7.0,0M578.4,793.0a3.5,3.5 0 1 0 7.0,0a3.5,3.5 0 1 0 -7.0,0M590.9,791.1a3.5,3.5 0 1 0 7.0,0a3.5,3.5 0 1 0 -7.0,0M603.4,789.2a3.5,3.5 0 1 0 7.0,0a3.5,3.5 0 1 0 -7.0,0M616.0,787.3a3.5,3.5 0 1 0 7.0,0a3.5,3.5 0 1 0 -7.0,0M628.5,785.4a3.5,3.5 0 1 0 7.0,0a3.5,3.5 0 1 0 -7.0,0M390.5,836.1a3.5,3.5 0 1 0 7.0,0a3.5,3.5 0 1 0 -7.0,0M403.0,834.2a3.5,3.5 0 1 0 7.0,0a3.5,3.5 0 1 0 -7.0,0M415.6,832.2a3.5,3.5 0 1 0 7.0,0a3.5,3.5 0 1 0 -7.0,0M428.1,830.3a3.5,3.5 0 1 0 7.0,0a3.5,3.5 0 1 0 -7.0,0M440.6,828.3a3.5,3.5 0 1 0 7.0,0a3.5,3.5 0 1 0 -7.0,0M453.1,826.4a3.5,3.5 0 1 0 7.0,0a3.5,3.5 0 1 0 -7.0,0M465.7,824.4a3.5,3.5 0 1 0 7.0,0a3.5,3.5 0 1 0 -7.0,0M478.2,822.5a3.5,3.5 0 1 0 7.0,0a3.5,3.5 0 1 0 -7.0,0M490.7,820.5a3.5,3.5 0 1 0 7.0,0a3.5,3.5 0 1 0 -7.0,0M503.2,818.5a3.5,3.5 0 1 0 7.0,0a3.5,3.5 0 1 0 -7.0,0M515.8,816.6a3.5,3.5 0 1 0 7.0,0a3.5,3.5 0 1 0 -7.0,0M528.3,814.6a3.5,3.5 0 1 0 7.0,0a3.5,3.5 0 1 0 -7.0,0M540.8,812.7a3.5,3.5 0 1 0 7.0,0a3.5,3.5 0 1 0 -7.0,0M553.3,810.7a3.5,3.5 0 1 0 7.0,0a3.5,3.5 0 1 0 -7.0,0M565.9,808.8a3.5,3.5 0 1 0 7.0,0a3.5,3.5 0 1 0 -7.0,0M578.4,806.8a3.5,3.5 0 1 0 7.0,0a3.5,3.5 0 1 0 -7.0,0M590.9,804.8a3.5,3.5 0 1 0 7.0,0a3.5,3.5 0 1 0 -7.0,0M603.4,802.9a3.5,3.5 0 1 0 7.0,0a3.5,3.5 0 1 0 -7.0,0M616.0,800.9a3.5,3.5 0 1 0 7.0,0a3.5,3.5 0 1 0 -7.0,0M628.5,799.0a3.5,3.5 0 1 0 7.0,0a3.5,3.5 0 1 0 -7.0,0M390.5,850.8a3.5,3.5 0 1 0 7.0,0a3.5,3.5 0 1 0 -7.0,0M403.0,848.8a3.5,3.5 0 1 0 7.0,0a3.5,3.5 0 1 0 -7.0,0M415.6,846.8a3.5,3.5 0 1 0 7.0,0a3.5,3.5 0 1 0 -7.0,0M428.1,844.7a3.5,3.5 0 1 0 7.0,0a3.5,3.5 0 1 0 -7.0,0M440.6,842.7a3.5,3.5 0 1 0 7.0,0a3.5,3.5 0 1 0 -7.0,0M453.1,840.7a3.5,3.5 0 1 0 7.0,0a3.5,3.5 0 1 0 -7.0,0M465.7,838.7a3.5,3.5 0 1 0 7.0,0a3.5,3.5 0 1 0 -7.0,0M478.2,836.7a3.5,3.5 0 1 0 7.0,0a3.5,3.5 0 1 0 -7.0,0M490.7,834.7a3.5,3.5 0 1 0 7.0,0a3.5,3.5 0 1 0 -7.0,0M503.2,832.7a3.5,3.5 0 1 0 7.0,0a3.5,3.5 0 1 0 -7.0,0M515.8,830.7a3.5,3.5 0 1 0 7.0,0a3.5,3.5 0 1 0 -7.0,0M528.3,828.6a3.5,3.5 0 1 0 7.0,0a3.5,3.5 0 1 0 -7.0,0M540.8,826.6a3.5,3.5 0 1 0 7.0,0a3.5,3.5 0 1 0 -7.0,0M553.3,824.6a3.5,3.5 0 1 0 7.0,0a3.5,3.5 0 1 0 -7.0,0M565.9,822.6a3.5,3.5 0 1 0 7.0,0a3.5,3.5 0 1 0 -7.0,0M578.4,820.6a3.5,3.5 0 1 0 7.0,0a3.5,3.5 0 1 0 -7.0,0M590.9,818.6a3.5,3.5 0 1 0 7.0,0a3.5,3.5 0 1 0 -7.0,0M603.4,816.6a3.5,3.5 0 1 0 7.0,0a3.5,3.5 0 1 0 -7.0,0M616.0,814.6a3.5,3.5 0 1 0 7.0,0a3.5,3.5 0 1 0 -7.0,0M628.5,812.5a3.5,3.5 0 1 0 7.0,0a3.5,3.5 0 1 0 -7.0,0M390.5,865.4a3.5,3.5 0 1 0 7.0,0a3.5,3.5 0 1 0 -7.0,0M403.0,863.3a3.5,3.5 0 1 0 7.0,0a3.5,3.5 0 1 0 -7.0,0M415.6,861.3a3.5,3.5 0 1 0 7.0,0a3.5,3.5 0 1 0 -7.0,0M428.1,859.2a3.5,3.5 0 1 0 7.0,0a3.5,3.5 0 1 0 -7.0,0M440.6,857.1a3.5,3.5 0 1 0 7.0,0a3.5,3.5 0 1 0 -7.0,0M453.1,855.1a3.5,3.5 0 1 0 7.0,0a3.5,3.5 0 1 0 -7.0,0M465.7,853.0a3.5,3.5 0 1 0 7.0,0a3.5,3.5 0 1 0 -7.0,0M478.2,850.9a3.5,3.5 0 1 0 7.0,0a3.5,3.5 0 1 0 -7.0,0M490.7,848.9a3.5,3.5 0 1 0 7.0,0a3.5,3.5 0 1 0 -7.0,0M503.2,846.8a3.5,3.5 0 1 0 7.0,0a3.5,3.5 0 1 0 -7.0,0M515.8,844.7a3.5,3.5 0 1 0 7.0,0a3.5,3.5 0 1 0 -7.0,0M528.3,842.7a3.5,3.5 0 1 0 7.0,0a3.5,3.5 0 1 0 -7.0,0M540.8,840.6a3.5,3.5 0 1 0 7.0,0a3.5,3.5 0 1 0 -7.0,0M553.3,838.5a3.5,3.5 0 1 0 7.0,0a3.5,3.5 0 1 0 -7.0,0M565.9,836.5a3.5,3.5 0 1 0 7.0,0a3.5,3.5 0 1 0 -7.0,0M578.4,834.4a3.5,3.5 0 1 0 7.0,0a3.5,3.5 0 1 0 -7.0,0M590.9,832.3a3.5,3.5 0 1 0 7.0,0a3.5,3.5 0 1 0 -7.0,0M603.4,830.3a3.5,3.5 0 1 0 7.0,0a3.5,3.5 0 1 0 -7.0,0M616.0,828.2a3.5,3.5 0 1 0 7.0,0a3.5,3.5 0 1 0 -7.0,0M628.5,826.1a3.5,3.5 0 1 0 7.0,0a3.5,3.5 0 1 0 -7.0,0M390.5,880.0a3.5,3.5 0 1 0 7.0,0a3.5,3.5 0 1 0 -7.0,0M403.0,877.9a3.5,3.5 0 1 0 7.0,0a3.5,3.5 0 1 0 -7.0,0M415.6,875.8a3.5,3.5 0 1 0 7.0,0a3.5,3.5 0 1 0 -7.0,0M428.1,873.7a3.5,3.5 0 1 0 7.0,0a3.5,3.5 0 1 0 -7.0,0M440.6,871.5a3.5,3.5 0 1 0 7.0,0a3.5,3.5 0 1 0 -7.0,0M453.1,869.4a3.5,3.5 0 1 0 7.0,0a3.5,3.5 0 1 0 -7.0,0M465.7,867.3a3.5,3.5 0 1 0 7.0,0a3.5,3.5 0 1 0 -7.0,0M478.2,865.2a3.5,3.5 0 1 0 7.0,0a3.5,3.5 0 1 0 -7.0,0M490.7,863.1a3.5,3.5 0 1 0 7.0,0a3.5,3.5 0 1 0 -7.0,0M503.2,860.9a3.5,3.5 0 1 0 7.0,0a3.5,3.5 0 1 0 -7.0,0M515.8,858.8a3.5,3.5 0 1 0 7.0,0a3.5,3.5 0 1 0 -7.0,0M528.3,856.7a3.5,3.5 0 1 0 7.0,0a3.5,3.5 0 1 0 -7.0,0M540.8,854.6a3.5,3.5 0 1 0 7.0,0a3.5,3.5 0 1 0 -7.0,0M553.3,852.4a3.5,3.5 0 1 0 7.0,0a3.5,3.5 0 1 0 -7.0,0M565.9,850.3a3.5,3.5 0 1 0 7.0,0a3.5,3.5 0 1 0 -7.0,0M578.4,848.2a3.5,3.5 0 1 0 7.0,0a3.5,3.5 0 1 0 -7.0,0M590.9,846.1a3.5,3.5 0 1 0 7.0,0a3.5,3.5 0 1 0 -7.0,0M603.4,843.9a3.5,3.5 0 1 0 7.0,0a3.5,3.5 0 1 0 -7.0,0M616.0,841.8a3.5,3.5 0 1 0 7.0,0a3.5,3.5 0 1 0 -7.0,0M628.5,839.7a3.5,3.5 0 1 0 7.0,0a3.5,3.5 0 1 0 -7.0,0M390.5,894.7a3.5,3.5 0 1 0 7.0,0a3.5,3.5 0 1 0 -7.0,0M403.0,892.5a3.5,3.5 0 1 0 7.0,0a3.5,3.5 0 1 0 -7.0,0M415.6,890.3a3.5,3.5 0 1 0 7.0,0a3.5,3.5 0 1 0 -7.0,0M428.1,888.1a3.5,3.5 0 1 0 7.0,0a3.5,3.5 0 1 0 -7.0,0M440.6,886.0a3.5,3.5 0 1 0 7.0,0a3.5,3.5 0 1 0 -7.0,0M453.1,883.8a3.5,3.5 0 1 0 7.0,0a3.5,3.5 0 1 0 -7.0,0M465.7,881.6a3.5,3.5 0 1 0 7.0,0a3.5,3.5 0 1 0 -7.0,0M478.2,879.4a3.5,3.5 0 1 0 7.0,0a3.5,3.5 0 1 0 -7.0,0M490.7,877.2a3.5,3.5 0 1 0 7.0,0a3.5,3.5 0 1 0 -7.0,0M503.2,875.1a3.5,3.5 0 1 0 7.0,0a3.5,3.5 0 1 0 -7.0,0M515.8,872.9a3.5,3.5 0 1 0 7.0,0a3.5,3.5 0 1 0 -7.0,0M528.3,870.7a3.5,3.5 0 1 0 7.0,0a3.5,3.5 0 1 0 -7.0,0M540.8,868.5a3.5,3.5 0 1 0 7.0,0a3.5,3.5 0 1 0 -7.0,0M553.3,866.3a3.5,3.5 0 1 0 7.0,0a3.5,3.5 0 1 0 -7.0,0M565.9,864.2a3.5,3.5 0 1 0 7.0,0a3.5,3.5 0 1 0 -7.0,0M578.4,862.0a3.5,3.5 0 1 0 7.0,0a3.5,3.5 0 1 0 -7.0,0M590.9,859.8a3.5,3.5 0 1 0 7.0,0a3.5,3.5 0 1 0 -7.0,0M603.4,857.6a3.5,3.5 0 1 0 7.0,0a3.5,3.5 0 1 0 -7.0,0M616.0,855.4a3.5,3.5 0 1 0 7.0,0a3.5,3.5 0 1 0 -7.0,0M628.5,853.3a3.5,3.5 0 1 0 7.0,0a3.5,3.5 0 1 0 -7.0,0M390.5,909.3a3.5,3.5 0 1 0 7.0,0a3.5,3.5 0 1 0 -7.0,0M403.0,907.1a3.5,3.5 0 1 0 7.0,0a3.5,3.5 0 1 0 -7.0,0M415.6,904.8a3.5,3.5 0 1 0 7.0,0a3.5,3.5 0 1 0 -7.0,0M428.1,902.6a3.5,3.5 0 1 0 7.0,0a3.5,3.5 0 1 0 -7.0,0M440.6,900.4a3.5,3.5 0 1 0 7.0,0a3.5,3.5 0 1 0 -7.0,0M453.1,898.1a3.5,3.5 0 1 0 7.0,0a3.5,3.5 0 1 0 -7.0,0M465.7,895.9a3.5,3.5 0 1 0 7.0,0a3.5,3.5 0 1 0 -7.0,0M478.2,893.7a3.5,3.5 0 1 0 7.0,0a3.5,3.5 0 1 0 -7.0,0M490.7,891.4a3.5,3.5 0 1 0 7.0,0a3.5,3.5 0 1 0 -7.0,0M503.2,889.2a3.5,3.5 0 1 0 7.0,0a3.5,3.5 0 1 0 -7.0,0M515.8,887.0a3.5,3.5 0 1 0 7.0,0a3.5,3.5 0 1 0 -7.0,0M528.3,884.7a3.5,3.5 0 1 0 7.0,0a3.5,3.5 0 1 0 -7.0,0M540.8,882.5a3.5,3.5 0 1 0 7.0,0a3.5,3.5 0 1 0 -7.0,0M553.3,880.2a3.5,3.5 0 1 0 7.0,0a3.5,3.5 0 1 0 -7.0,0M565.9,878.0a3.5,3.5 0 1 0 7.0,0a3.5,3.5 0 1 0 -7.0,0M578.4,875.8a3.5,3.5 0 1 0 7.0,0a3.5,3.5 0 1 0 -7.0,0M590.9,873.5a3.5,3.5 0 1 0 7.0,0a3.5,3.5 0 1 0 -7.0,0M603.4,871.3a3.5,3.5 0 1 0 7.0,0a3.5,3.5 0 1 0 -7.0,0M616.0,869.1a3.5,3.5 0 1 0 7.0,0a3.5,3.5 0 1 0 -7.0,0M628.5,866.8a3.5,3.5 0 1 0 7.0,0a3.5,3.5 0 1 0 -7.0,0M390.5,923.9a3.5,3.5 0 1 0 7.0,0a3.5,3.5 0 1 0 -7.0,0M403.0,921.7a3.5,3.5 0 1 0 7.0,0a3.5,3.5 0 1 0 -7.0,0M415.6,919.4a3.5,3.5 0 1 0 7.0,0a3.5,3.5 0 1 0 -7.0,0M428.1,917.1a3.5,3.5 0 1 0 7.0,0a3.5,3.5 0 1 0 -7.0,0M440.6,914.8a3.5,3.5 0 1 0 7.0,0a3.5,3.5 0 1 0 -7.0,0M453.1,912.5a3.5,3.5 0 1 0 7.0,0a3.5,3.5 0 1 0 -7.0,0M465.7,910.2a3.5,3.5 0 1 0 7.0,0a3.5,3.5 0 1 0 -7.0,0M478.2,907.9a3.5,3.5 0 1 0 7.0,0a3.5,3.5 0 1 0 -7.0,0M490.7,905.6a3.5,3.5 0 1 0 7.0,0a3.5,3.5 0 1 0 -7.0,0M503.2,903.3a3.5,3.5 0 1 0 7.0,0a3.5,3.5 0 1 0 -7.0,0M515.8,901.0a3.5,3.5 0 1 0 7.0,0a3.5,3.5 0 1 0 -7.0,0M528.3,898.7a3.5,3.5 0 1 0 7.0,0a3.5,3.5 0 1 0 -7.0,0M540.8,896.4a3.5,3.5 0 1 0 7.0,0a3.5,3.5 0 1 0 -7.0,0M553.3,894.2a3.5,3.5 0 1 0 7.0,0a3.5,3.5 0 1 0 -7.0,0M565.9,891.9a3.5,3.5 0 1 0 7.0,0a3.5,3.5 0 1 0 -7.0,0M578.4,889.6a3.5,3.5 0 1 0 7.0,0a3.5,3.5 0 1 0 -7.0,0M590.9,887.3a3.5,3.5 0 1 0 7.0,0a3.5,3.5 0 1 0 -7.0,0M603.4,885.0a3.5,3.5 0 1 0 7.0,0a3.5,3.5 0 1 0 -7.0,0M616.0,882.7a3.5,3.5 0 1 0 7.0,0a3.5,3.5 0 1 0 -7.0,0M628.5,880.4a3.5,3.5 0 1 0 7.0,0a3.5,3.5 0 1 0 -7.0,0M390.5,938.6a3.5,3.5 0 1 0 7.0,0a3.5,3.5 0 1 0 -7.0,0M403.0,936.2a3.5,3.5 0 1 0 7.0,0a3.5,3.5 0 1 0 -7.0,0M415.6,933.9a3.5,3.5 0 1 0 7.0,0a3.5,3.5 0 1 0 -7.0,0M428.1,931.5a3.5,3.5 0 1 0 7.0,0a3.5,3.5 0 1 0 -7.0,0M440.6,929.2a3.5,3.5 0 1 0 7.0,0a3.5,3.5 0 1 0 -7.0,0M453.1,926.8a3.5,3.5 0 1 0 7.0,0a3.5,3.5 0 1 0 -7.0,0M465.7,924.5a3.5,3.5 0 1 0 7.0,0a3.5,3.5 0 1 0 -7.0,0M478.2,922.1a3.5,3.5 0 1 0 7.0,0a3.5,3.5 0 1 0 -7.0,0M490.7,919.8a3.5,3.5 0 1 0 7.0,0a3.5,3.5 0 1 0 -7.0,0M503.2,917.5a3.5,3.5 0 1 0 7.0,0a3.5,3.5 0 1 0 -7.0,0M515.8,915.1a3.5,3.5 0 1 0 7.0,0a3.5,3.5 0 1 0 -7.0,0M528.3,912.8a3.5,3.5 0 1 0 7.0,0a3.5,3.5 0 1 0 -7.0,0M540.8,910.4a3.5,3.5 0 1 0 7.0,0a3.5,3.5 0 1 0 -7.0,0M553.3,908.1a3.5,3.5 0 1 0 7.0,0a3.5,3.5 0 1 0 -7.0,0M565.9,905.7a3.5,3.5 0 1 0 7.0,0a3.5,3.5 0 1 0 -7.0,0M578.4,903.4a3.5,3.5 0 1 0 7.0,0a3.5,3.5 0 1 0 -7.0,0M590.9,901.0a3.5,3.5 0 1 0 7.0,0a3.5,3.5 0 1 0 -7.0,0M603.4,898.7a3.5,3.5 0 1 0 7.0,0a3.5,3.5 0 1 0 -7.0,0M616.0,896.3a3.5,3.5 0 1 0 7.0,0a3.5,3.5 0 1 0 -7.0,0M628.5,894.0a3.5,3.5 0 1 0 7.0,0a3.5,3.5 0 1 0 -7.0,0M390.5,953.2a3.5,3.5 0 1 0 7.0,0a3.5,3.5 0 1 0 -7.0,0M403.0,950.8a3.5,3.5 0 1 0 7.0,0a3.5,3.5 0 1 0 -7.0,0M415.6,948.4a3.5,3.5 0 1 0 7.0,0a3.5,3.5 0 1 0 -7.0,0M428.1,946.0a3.5,3.5 0 1 0 7.0,0a3.5,3.5 0 1 0 -7.0,0M440.6,943.6a3.5,3.5 0 1 0 7.0,0a3.5,3.5 0 1 0 -7.0,0M453.1,941.2a3.5,3.5 0 1 0 7.0,0a3.5,3.5 0 1 0 -7.0,0M465.7,938.8a3.5,3.5 0 1 0 7.0,0a3.5,3.5 0 1 0 -7.0,0M478.2,936.4a3.5,3.5 0 1 0 7.0,0a3.5,3.5 0 1 0 -7.0,0M490.7,934.0a3.5,3.5 0 1 0 7.0,0a3.5,3.5 0 1 0 -7.0,0M503.2,931.6a3.5,3.5 0 1 0 7.0,0a3.5,3.5 0 1 0 -7.0,0M515.8,929.2a3.5,3.5 0 1 0 7.0,0a3.5,3.5 0 1 0 -7.0,0M528.3,926.8a3.5,3.5 0 1 0 7.0,0a3.5,3.5 0 1 0 -7.0,0M540.8,924.4a3.5,3.5 0 1 0 7.0,0a3.5,3.5 0 1 0 -7.0,0M553.3,922.0a3.5,3.5 0 1 0 7.0,0a3.5,3.5 0 1 0 -7.0,0M565.9,919.6a3.5,3.5 0 1 0 7.0,0a3.5,3.5 0 1 0 -7.0,0M578.4,917.2a3.5,3.5 0 1 0 7.0,0a3.5,3.5 0 1 0 -7.0,0M590.9,914.8a3.5,3.5 0 1 0 7.0,0a3.5,3.5 0 1 0 -7.0,0M603.4,912.4a3.5,3.5 0 1 0 7.0,0a3.5,3.5 0 1 0 -7.0,0M616.0,910.0a3.5,3.5 0 1 0 7.0,0a3.5,3.5 0 1 0 -7.0,0M628.5,907.6a3.5,3.5 0 1 0 7.0,0a3.5,3.5 0 1 0 -7.0,0M390.5,967.8a3.5,3.5 0 1 0 7.0,0a3.5,3.5 0 1 0 -7.0,0M403.0,965.4a3.5,3.5 0 1 0 7.0,0a3.5,3.5 0 1 0 -7.0,0M415.6,962.9a3.5,3.5 0 1 0 7.0,0a3.5,3.5 0 1 0 -7.0,0M428.1,960.5a3.5,3.5 0 1 0 7.0,0a3.5,3.5 0 1 0 -7.0,0M440.6,958.0a3.5,3.5 0 1 0 7.0,0a3.5,3.5 0 1 0 -7.0,0M453.1,955.5a3.5,3.5 0 1 0 7.0,0a3.5,3.5 0 1 0 -7.0,0M465.7,953.1a3.5,3.5 0 1 0 7.0,0a3.5,3.5 0 1 0 -7.0,0M478.2,950.6a3.5,3.5 0 1 0 7.0,0a3.5,3.5 0 1 0 -7.0,0M490.7,948.2a3.5,3.5 0 1 0 7.0,0a3.5,3.5 0 1 0 -7.0,0M503.2,945.7a3.5,3.5 0 1 0 7.0,0a3.5,3.5 0 1 0 -7.0,0M515.8,943.3a3.5,3.5 0 1 0 7.0,0a3.5,3.5 0 1 0 -7.0,0M528.3,940.8a3.5,3.5 0 1 0 7.0,0a3.5,3.5 0 1 0 -7.0,0M540.8,938.3a3.5,3.5 0 1 0 7.0,0a3.5,3.5 0 1 0 -7.0,0M553.3,935.9a3.5,3.5 0 1 0 7.0,0a3.5,3.5 0 1 0 -7.0,0M565.9,933.4a3.5,3.5 0 1 0 7.0,0a3.5,3.5 0 1 0 -7.0,0M578.4,931.0a3.5,3.5 0 1 0 7.0,0a3.5,3.5 0 1 0 -7.0,0M590.9,928.5a3.5,3.5 0 1 0 7.0,0a3.5,3.5 0 1 0 -7.0,0M603.4,926.0a3.5,3.5 0 1 0 7.0,0a3.5,3.5 0 1 0 -7.0,0M616.0,923.6a3.5,3.5 0 1 0 7.0,0a3.5,3.5 0 1 0 -7.0,0M628.5,921.1a3.5,3.5 0 1 0 7.0,0a3.5,3.5 0 1 0 -7.0,0M390.5,982.5a3.5,3.5 0 1 0 7.0,0a3.5,3.5 0 1 0 -7.0,0M403.0,980.0a3.5,3.5 0 1 0 7.0,0a3.5,3.5 0 1 0 -7.0,0M415.6,977.4a3.5,3.5 0 1 0 7.0,0a3.5,3.5 0 1 0 -7.0,0M428.1,974.9a3.5,3.5 0 1 0 7.0,0a3.5,3.5 0 1 0 -7.0,0M440.6,972.4a3.5,3.5 0 1 0 7.0,0a3.5,3.5 0 1 0 -7.0,0M453.1,969.9a3.5,3.5 0 1 0 7.0,0a3.5,3.5 0 1 0 -7.0,0M465.7,967.4a3.5,3.5 0 1 0 7.0,0a3.5,3.5 0 1 0 -7.0,0M478.2,964.9a3.5,3.5 0 1 0 7.0,0a3.5,3.5 0 1 0 -7.0,0M490.7,962.4a3.5,3.5 0 1 0 7.0,0a3.5,3.5 0 1 0 -7.0,0M503.2,959.8a3.5,3.5 0 1 0 7.0,0a3.5,3.5 0 1 0 -7.0,0M515.8,957.3a3.5,3.5 0 1 0 7.0,0a3.5,3.5 0 1 0 -7.0,0M528.3,954.8a3.5,3.5 0 1 0 7.0,0a3.5,3.5 0 1 0 -7.0,0M540.8,952.3a3.5,3.5 0 1 0 7.0,0a3.5,3.5 0 1 0 -7.0,0M553.3,949.8a3.5,3.5 0 1 0 7.0,0a3.5,3.5 0 1 0 -7.0,0M565.9,947.3a3.5,3.5 0 1 0 7.0,0a3.5,3.5 0 1 0 -7.0,0M578.4,944.8a3.5,3.5 0 1 0 7.0,0a3.5,3.5 0 1 0 -7.0,0M590.9,942.2a3.5,3.5 0 1 0 7.0,0a3.5,3.5 0 1 0 -7.0,0M603.4,939.7a3.5,3.5 0 1 0 7.0,0a3.5,3.5 0 1 0 -7.0,0M616.0,937.2a3.5,3.5 0 1 0 7.0,0a3.5,3.5 0 1 0 -7.0,0M628.5,934.7a3.5,3.5 0 1 0 7.0,0a3.5,3.5 0 1 0 -7.0,0M390.5,997.1a3.5,3.5 0 1 0 7.0,0a3.5,3.5 0 1 0 -7.0,0M403.0,994.5a3.5,3.5 0 1 0 7.0,0a3.5,3.5 0 1 0 -7.0,0M415.6,992.0a3.5,3.5 0 1 0 7.0,0a3.5,3.5 0 1 0 -7.0,0M428.1,989.4a3.5,3.5 0 1 0 7.0,0a3.5,3.5 0 1 0 -7.0,0M440.6,986.8a3.5,3.5 0 1 0 7.0,0a3.5,3.5 0 1 0 -7.0,0M453.1,984.3a3.5,3.5 0 1 0 7.0,0a3.5,3.5 0 1 0 -7.0,0M465.7,981.7a3.5,3.5 0 1 0 7.0,0a3.5,3.5 0 1 0 -7.0,0M478.2,979.1a3.5,3.5 0 1 0 7.0,0a3.5,3.5 0 1 0 -7.0,0M490.7,976.5a3.5,3.5 0 1 0 7.0,0a3.5,3.5 0 1 0 -7.0,0M503.2,974.0a3.5,3.5 0 1 0 7.0,0a3.5,3.5 0 1 0 -7.0,0M515.8,971.4a3.5,3.5 0 1 0 7.0,0a3.5,3.5 0 1 0 -7.0,0M528.3,968.8a3.5,3.5 0 1 0 7.0,0a3.5,3.5 0 1 0 -7.0,0M540.8,966.3a3.5,3.5 0 1 0 7.0,0a3.5,3.5 0 1 0 -7.0,0M553.3,963.7a3.5,3.5 0 1 0 7.0,0a3.5,3.5 0 1 0 -7.0,0M565.9,961.1a3.5,3.5 0 1 0 7.0,0a3.5,3.5 0 1 0 -7.0,0M578.4,958.6a3.5,3.5 0 1 0 7.0,0a3.5,3.5 0 1 0 -7.0,0M590.9,956.0a3.5,3.5 0 1 0 7.0,0a3.5,3.5 0 1 0 -7.0,0M603.4,953.4a3.5,3.5 0 1 0 7.0,0a3.5,3.5 0 1 0 -7.0,0M616.0,950.8a3.5,3.5 0 1 0 7.0,0a3.5,3.5 0 1 0 -7.0,0M628.5,948.3a3.5,3.5 0 1 0 7.0,0a3.5,3.5 0 1 0 -7.0,0M390.5,1011.7a3.5,3.5 0 1 0 7.0,0a3.5,3.5 0 1 0 -7.0,0M403.0,1009.1a3.5,3.5 0 1 0 7.0,0a3.5,3.5 0 1 0 -7.0,0M415.6,1006.5a3.5,3.5 0 1 0 7.0,0a3.5,3.5 0 1 0 -7.0,0M428.1,1003.9a3.5,3.5 0 1 0 7.0,0a3.5,3.5 0 1 0 -7.0,0M440.6,1001.2a3.5,3.5 0 1 0 7.0,0a3.5,3.5 0 1 0 -7.0,0M453.1,998.6a3.5,3.5 0 1 0 7.0,0a3.5,3.5 0 1 0 -7.0,0M465.7,996.0a3.5,3.5 0 1 0 7.0,0a3.5,3.5 0 1 0 -7.0,0M478.2,993.4a3.5,3.5 0 1 0 7.0,0a3.5,3.5 0 1 0 -7.0,0M490.7,990.7a3.5,3.5 0 1 0 7.0,0a3.5,3.5 0 1 0 -7.0,0M503.2,988.1a3.5,3.5 0 1 0 7.0,0a3.5,3.5 0 1 0 -7.0,0M515.8,985.5a3.5,3.5 0 1 0 7.0,0a3.5,3.5 0 1 0 -7.0,0M528.3,982.9a3.5,3.5 0 1 0 7.0,0a3.5,3.5 0 1 0 -7.0,0M540.8,980.2a3.5,3.5 0 1 0 7.0,0a3.5,3.5 0 1 0 -7.0,0M553.3,977.6a3.5,3.5 0 1 0 7.0,0a3.5,3.5 0 1 0 -7.0,0M565.9,975.0a3.5,3.5 0 1 0 7.0,0a3.5,3.5 0 1 0 -7.0,0M578.4,972.4a3.5,3.5 0 1 0 7.0,0a3.5,3.5 0 1 0 -7.0,0M590.9,969.7a3.5,3.5 0 1 0 7.0,0a3.5,3.5 0 1 0 -7.0,0M603.4,967.1a3.5,3.5 0 1 0 7.0,0a3.5,3.5 0 1 0 -7.0,0M616.0,964.5a3.5,3.5 0 1 0 7.0,0a3.5,3.5 0 1 0 -7.0,0M628.5,961.9a3.5,3.5 0 1 0 7.0,0a3.5,3.5 0 1 0 -7.0,0M390.5,1026.4a3.5,3.5 0 1 0 7.0,0a3.5,3.5 0 1 0 -7.0,0M403.0,1023.7a3.5,3.5 0 1 0 7.0,0a3.5,3.5 0 1 0 -7.0,0M415.6,1021.0a3.5,3.5 0 1 0 7.0,0a3.5,3.5 0 1 0 -7.0,0M428.1,1018.3a3.5,3.5 0 1 0 7.0,0a3.5,3.5 0 1 0 -7.0,0M440.6,1015.6a3.5,3.5 0 1 0 7.0,0a3.5,3.5 0 1 0 -7.0,0M453.1,1013.0a3.5,3.5 0 1 0 7.0,0a3.5,3.5 0 1 0 -7.0,0M465.7,1010.3a3.5,3.5 0 1 0 7.0,0a3.5,3.5 0 1 0 -7.0,0M478.2,1007.6a3.5,3.5 0 1 0 7.0,0a3.5,3.5 0 1 0 -7.0,0M490.7,1004.9a3.5,3.5 0 1 0 7.0,0a3.5,3.5 0 1 0 -7.0,0M503.2,1002.2a3.5,3.5 0 1 0 7.0,0a3.5,3.5 0 1 0 -7.0,0M515.8,999.6a3.5,3.5 0 1 0 7.0,0a3.5,3.5 0 1 0 -7.0,0M528.3,996.9a3.5,3.5 0 1 0 7.0,0a3.5,3.5 0 1 0 -7.0,0M540.8,994.2a3.5,3.5 0 1 0 7.0,0a3.5,3.5 0 1 0 -7.0,0M553.3,991.5a3.5,3.5 0 1 0 7.0,0a3.5,3.5 0 1 0 -7.0,0M565.9,988.8a3.5,3.5 0 1 0 7.0,0a3.5,3.5 0 1 0 -7.0,0M578.4,986.2a3.5,3.5 0 1 0 7.0,0a3.5,3.5 0 1 0 -7.0,0M590.9,983.5a3.5,3.5 0 1 0 7.0,0a3.5,3.5 0 1 0 -7.0,0M603.4,980.8a3.5,3.5 0 1 0 7.0,0a3.5,3.5 0 1 0 -7.0,0M616.0,978.1a3.5,3.5 0 1 0 7.0,0a3.5,3.5 0 1 0 -7.0,0M628.5,975.4a3.5,3.5 0 1 0 7.0,0a3.5,3.5 0 1 0 -7.0,0M390.5,1041.0a3.5,3.5 0 1 0 7.0,0a3.5,3.5 0 1 0 -7.0,0M403.0,1038.3a3.5,3.5 0 1 0 7.0,0a3.5,3.5 0 1 0 -7.0,0M415.6,1035.5a3.5,3.5 0 1 0 7.0,0a3.5,3.5 0 1 0 -7.0,0M428.1,1032.8a3.5,3.5 0 1 0 7.0,0a3.5,3.5 0 1 0 -7.0,0M440.6,1030.1a3.5,3.5 0 1 0 7.0,0a3.5,3.5 0 1 0 -7.0,0M453.1,1027.3a3.5,3.5 0 1 0 7.0,0a3.5,3.5 0 1 0 -7.0,0M465.7,1024.6a3.5,3.5 0 1 0 7.0,0a3.5,3.5 0 1 0 -7.0,0M478.2,1021.8a3.5,3.5 0 1 0 7.0,0a3.5,3.5 0 1 0 -7.0,0M490.7,1019.1a3.5,3.5 0 1 0 7.0,0a3.5,3.5 0 1 0 -7.0,0M503.2,1016.4a3.5,3.5 0 1 0 7.0,0a3.5,3.5 0 1 0 -7.0,0M515.8,1013.6a3.5,3.5 0 1 0 7.0,0a3.5,3.5 0 1 0 -7.0,0M528.3,1010.9a3.5,3.5 0 1 0 7.0,0a3.5,3.5 0 1 0 -7.0,0M540.8,1008.2a3.5,3.5 0 1 0 7.0,0a3.5,3.5 0 1 0 -7.0,0M553.3,1005.4a3.5,3.5 0 1 0 7.0,0a3.5,3.5 0 1 0 -7.0,0M565.9,1002.7a3.5,3.5 0 1 0 7.0,0a3.5,3.5 0 1 0 -7.0,0M578.4,999.9a3.5,3.5 0 1 0 7.0,0a3.5,3.5 0 1 0 -7.0,0M590.9,997.2a3.5,3.5 0 1 0 7.0,0a3.5,3.5 0 1 0 -7.0,0M603.4,994.5a3.5,3.5 0 1 0 7.0,0a3.5,3.5 0 1 0 -7.0,0M616.0,991.7a3.5,3.5 0 1 0 7.0,0a3.5,3.5 0 1 0 -7.0,0M628.5,989.0a3.5,3.5 0 1 0 7.0,0a3.5,3.5 0 1 0 -7.0,0"/>
<path fill="#121212" d="M194.9,510.5a1.6,3.2 0 1 0 3.2,0a1.6,3.2 0 1 0 -3.2,0M201.0,511.9a1.6,3.2 0 1 0 3.2,0a1.6,3.2 0 1 0 -3.2,0M207.2,513.3a1.6,3.2 0 1 0 3.2,0a1.6,3.2 0 1 0 -3.2,0M213.3,514.7a1.6,3.2 0 1 0 3.2,0a1.6,3.2 0 1 0 -3.2,0M219.4,516.1a1.6,3.2 0 1 0 3.2,0a1.6,3.2 0 1 0 -3.2,0M225.6,517.5a1.6,3.2 0 1 0 3.2,0a1.6,3.2 0 1 0 -3.2,0M231.7,518.9a1.6,3.2 0 1 0 3.2,0a1.6,3.2 0 1 0 -3.2,0M237.8,520.3a1.6,3.2 0 1 0 3.2,0a1.6,3.2 0 1 0 -3.2,0M244.0,521.7a1.6,3.2 0 1 0 3.2,0a1.6,3.2 0 1 0 -3.2,0M250.1,523.1a1.6,3.2 0 1 0 3.2,0a1.6,3.2 0 1 0 -3.2,0M256.2,524.4a1.6,3.2 0 1 0 3.2,0a1.6,3.2 0 1 0 -3.2,0M262.3,525.8a1.6,3.2 0 1 0 3.2,0a1.6,3.2 0 1 0 -3.2,0M268.5,527.2a1.6,3.2 0 1 0 3.2,0a1.6,3.2 0 1 0 -3.2,0M274.6,528.6a1.6,3.2 0 1 0 3.2,0a1.6,3.2 0 1 0 -3.2,0M280.7,530.0a1.6,3.2 0 1 0 3.2,0a1.6,3.2 0 1 0 -3.2,0M286.9,531.4a1.6,3.2 0 1 0 3.2,0a1.6,3.2 0 1 0 -3.2,0M293.0,532.8a1.6,3.2 0 1 0 3.2,0a1.6,3.2 0 1 0 -3.2,0M299.1,534.2a1.6,3.2 0 1 0 3.2,0a1.6,3.2 0 1 0 -3.2,0M305.3,535.6a1.6,3.2 0 1 0 3.2,0a1.6,3.2 0 1 0 -3.2,0M311.4,537.0a1.6,3.2 0 1 0 3.2,0a1.6,3.2 0 1 0 -3.2,0M194.9,523.9a1.6,3.2 0 1 0 3.2,0a1.6,3.2 0 1 0 -3.2,0M201.0,525.4a1.6,3.2 0 1 0 3.2,0a1.6,3.2 0 1 0 -3.2,0M207.2,526.9a1.6,3.2 0 1 0 3.2,0a1.6,3.2 0 1 0 -3.2,0M213.3,528.4a1.6,3.2 0 1 0 3.2,0a1.6,3.2 0 1 0 -3.2,0M219.4,529.9a1.6,3.2 0 1 0 3.2,0a1.6,3.2 0 1 0 -3.2,0M225.6,531.4a1.6,3.2 0 1 0 3.2,0a1.6,3.2 0 1 0 -3.2,0M231.7,532.9a1.6,3.2 0 1 0 3.2,0a1.6,3.2 0 1 0 -3.2,0M237.8,534.4a1.6,3.2 0 1 0 3.2,0a1.6,3.2 0 1 0 -3.2,0M244.0,535.9a1.6,3.2 0 1 0 3.2,0a1.6,3.2 0 1 0 -3.2,0M250.1,537.4a1.6,3.2 0 1 0 3.2,0a1.6,3.2 0 1 0 -3.2,0M256.2,538.9a1.6,3.2 0 1 0 3.2,0a1.6,3.2 0 1 0 -3.2,0M262.3,540.4a1.6,3.2 0 1 0 3.2,0a1.6,3.2 0 1 0 -3.2,0M268.5,541.9a1.6,3.2 0 1 0 3.2,0a1.6,3.2 0 1 0 -3.2,0M274.6,543.5a1.6,3.2 0 1 0 3.2,0a1.6,3.2 0 1 0 -3.2,0M280.7,545.0a1.6,3.2 0 1 0 3.2,0a1.6,3.2 0 1 0 -3.2,0M286.9,546.5a1.6,3.2 0 1 0 3.2,0a1.6,3.2 0 1 0 -3.2,0M293.0,548.0a1.6,3.2 0 1 0 3.2,0a1.6,3.2 0 1 0 -3.2,0M299.1,549.5a1.6,3.2 0 1 0 3.2,0a1.6,3.2 0 1 0 -3.2,0M305.3,551.0a1.6,3.2 0 1 0 3.2,0a1.6,3.2 0 1 0 -3.2,0M311.4,552.5a1.6,3.2 0 1 0 3.2,0a1.6,3.2 0 1 0 -3.2,0M194.9,537.2a1.6,3.2 0 1 0 3.2,0a1.6,3.2 0 1 0 -3.2,0M201.0,538.8a1.6,3.2 0 1 0 3.2,0a1.6,3.2 0 1 0 -3.2,0M207.2,540.5a1.6,3.2 0 1 0 3.2,0a1.6,3.2 0 1 0 -3.2,0M213.3,542.1a1.6,3.2 0 1 0 3.2,0a1.6,3.2 0 1 0 -3.2,0M219.4,543.7a1.6,3.2 0 1 0 3.2,0a1.6,3.2 0 1 0 -3.2,0M225.6,545.3a1.6,3.2 0 1 0 3.2,0a1.6,3.2 0 1 0 -3.2,0M231.7,546.9a1.6,3.2 0 1 0 3.2,0a1.6,3.2 0 1 0 -3.2,0M237.8,548.6a1.6,3.2 0 1 0 3.2,0a1.6,3.2 0 1 0 -3.2,0M244.0,550.2a1.6,3.2 0 1 0 3.2,0a1.6,3.2 0 1 0 -3.2,0M250.1,551.8a1.6,3.2 0 1 0 3.2,0a1.6,3.2 0 1 0 -3.2,0M256.2,553.4a1.6,3.2 0 1 0 3.2,0a1.6,3.2 0 1 0 -3.2,0M262.3,555.0a1.6,3.2 0 1 0 3.2,0a1.6,3.2 0 1 0 -3.2,0M268.5,556.7a1.6,3.2 0 1 0 3.2,0a1.6,3.2 0 1 0 -3.2,0M274.6,558.3a1.6,3.2 0 1 0 3.2,0a1.6,3.2 0 1 0 -3.2,0M280.7,559.9a1.6,3.2 0 1 0 3.2,0a1.6,3.2 0 1 0 -3.2,0M286.9,561.5a1.6,3.2 0 1 0 3.2,0a1.6,3.2 0 1 0 -3.2,0M293.0,563.1a1.6,3.2 0 1 0 3.2,0a1.6,3.2 0 1 0 -3.2,0M299.1,564.8a1.6,3.2 0 1 0 3.2,0a1.6,3.2 0 1 0 -3.2,0M305.3,566.4a1.6,3.2 0 1 0 3.2,0a1.6,3.2 0 1 0 -3.2,0M311.4,568.0a1.6,3.2 0 1 0 3.2,0a1.6,3.2 0 1 0 -3.2,0M194.9,550.6a1.6,3.2 0 1 0 3.2,0a1.6,3.2 0 1 0 -3.2,0M201.0,552.3a1.6,3.2 0 1 0 3.2,0a1.6,3.2 0 1 0 -3.2,0M207.2,554.0a1.6,3.2 0 1 0 3.2,0a1.6,3.2 0 1 0 -3.2,0M213.3,555.8a1.6,3.2 0 1 0 3.2,0a1.6,3.2 0 1 0 -3.2,0M219.4,557.5a1.6,3.2 0 1 0 3.2,0a1.6,3.2 0 1 0 -3.2,0M225.6,559.2a1.6,3.2 0 1 0 3.2,0a1.6,3.2 0 1 0 -3.2,0M231.7,561.0a1.6,3.2 0 1 0 3.2,0a1.6,3.2 0 1 0 -3.2,0M237.8,562.7a1.6,3.2 0 1 0 3.2,0a1.6,3.2 0 1 0 -3.2,0M244.0,564.4a1.6,3.2 0 1 0 3.2,0a1.6,3.2 0 1 0 -3.2,0M250.1,566.2a1.6,3.2 0 1 0 3.2,0a1.6,3.2 0 1 0 -3.2,0M256.2,567.9a1.6,3.2 0 1 0 3.2,0a1.6,3.2 0 1 0 -3.2,0M262.3,569.6a1.6,3.2 0 1 0 3.2,0a1.6,3.2 0 1 0 -3.2,0M268.5,571.4a1.6,3.2 0 1 0 3.2,0a1.6,3.2 0 1 0 -3.2,0M274.6,573.1a1.6,3.2 0 1 0 3.2,0a1.6,3.2 0 1 0 -3.2,0M280.7,574.8a1.6,3.2 0 1 0 3.2,0a1.6,3.2 0 1 0 -3.2,0M286.9,576.6a1.6,3.2 0 1 0 3.2,0a1.6,3.2 0 1 0 -3.2,0M293.0,578.3a1.6,3.2 0 1 0 3.2,0a1.6,3.2 0 1 0 -3.2,0M299.1,580.0a1.6,3.2 0 1 0 3.2,0a1.6,3.2 0 1 0 -3.2,0M305.3,581.8a1.6,3.2 0 1 0 3.2,0a1.6,3.2 0 1 0 -3.2,0M311.4,583.5a1.6,3.2 0 1 0 3.2,0a1.6,3.2 0 1 0 -3.2,0M194.9,563.9a1.6,3.2 0 1 0 3.2,0a1.6,3.2 0 1 0 -3.2,0M201.0,565.8a1.6,3.2 0 1 0 3.2,0a1.6,3.2 0 1 0 -3.2,0M207.2,567.6a1.6,3.2 0 1 0 3.2,0a1.6,3.2 0 1 0 -3.2,0M213.3,569.5a1.6,3.2 0 1 0 3.2,0a1.6,3.2 0 1 0 -3.2,0M219.4,571.3a1.6,3.2 0 1 0 3.2,0a1.6,3.2 0 1 0 -3.2,0M225.6,573.2a1.6,3.2 0 1 0 3.2,0a1.6,3.2 0 1 0 -3.2,0M231.7,575.0a1.6,3.2 0 1 0 3.2,0a1.6,3.2 0 1 0 -3.2,0M237.8,576.9a1.6,3.2 0 1 0 3.2,0a1.6,3.2 0 1 0 -3.2,0M244.0,578.7a1.6,3.2 0 1 0 3.2,0a1.6,3.2 0 1 0 -3.2,0M250.1,580.5a1.6,3.2 0 1 0 3.2,0a1.6,3.2 0 1 0 -3.2,0M256.2,582.4a1.6,3.2 0 1 0 3.2,0a1.6,3.2 0 1 0 -3.2,0M262.3,584.2a1.6,3.2 0 1 0 3.2,0a1.6,3.2 0 1 0 -3.2,0M268.5,586.1a1.6,3.2 0 1 0 3.2,0a1.6,3.2 0 1 0 -3.2,0M274.6,587.9a1.6,3.2 0 1 0 3.2,0a1.6,3.2 0 1 0 -3.2,0M280.7,589.8a1.6,3.2 0 1 0 3.2,0a1.6,3.2 0 1 0 -3.2,0M286.9,591.6a1.6,3.2 0 1 0 3.2,0a1.6,3.2 0 1 0 -3.2,0M293.0,593.5a1.6,3.2 0 1 0 3.2,0a1.6,3.2 0 1 0 -3.2,0M299.1,595.3a1.6,3.2 0 1 0 3.2,0a1.6,3.2 0 1 0 -3.2,0M305.3,597.2a1.6,3.2 0 1 0 3.2,0a1.6,3.2 0 1 0 -3.2,0M311.4,599.0a1.6,3.2 0 1 0 3.2,0a1.6,3.2 0 1 0 -3.2,0M194.9,577.3a1.6,3.2 0 1 0 3.2,0a1.6,3.2 0 1 0 -3.2,0M201.0,579.3a1.6,3.2 0 1 0 3.2,0a1.6,3.2 0 1 0 -3.2,0M207.2,581.2a1.6,3.2 0 1 0 3.2,0a1.6,3.2 0 1 0 -3.2,0M213.3,583.2a1.6,3.2 0 1 0 3.2,0a1.6,3.2 0 1 0 -3.2,0M219.4,585.1a1.6,3.2 0 1 0 3.2,0a1.6,3.2 0 1 0 -3.2,0M225.6,587.1a1.6,3.2 0 1 0 3.2,0a1.6,3.2 0 1 0 -3.2,0M231.7,589.0a1.6,3.2 0 1 0 3.2,0a1.6,3.2 0 1 0 -3.2,0M237.8,591.0a1.6,3.2 0 1 0 3.2,0a1.6,3.2 0 1 0 -3.2,0M244.0,593.0a1.6,3.2 0 1 0 3.2,0a1.6,3.2 0 1 0 -3.2,0M250.1,594.9a1.6,3.2 0 1 0 3.2,0a1.6,3.2 0 1 0 -3.2,0M256.2,596.9a1.6,3.2 0 1 0 3.2,0a1.6,3.2 0 1 0 -3.2,0M262.3,598.8a1.6,3.2 0 1 0 3.2,0a1.6,3.2 0 1 0 -3.2,0M268.5,600.8a1.6,3.2 0 1 0 3.2,0a1.6,3.2 0 1 0 -3.2,0M274.6,602.8a1.6,3.2 0 1 0 3.2,0a1.6,3.2 0 1 0 -3.2,0M280.7,604.7a1.6,3.2 0 1 0 3.2,0a1.6,3.2 0 1 0 -3.2,0M286.9,606.7a1.6,3.2 0 1 0 3.2,0a1.6,3.2 0 1 0 -3.2,0M293.0,608.6a1.6,3.2 0 1 0 3.2,0a1.6,3.2 0 1 0 -3.2,0M299.1,610.6a1.6,3.2 0 1 0 3.2,0a1.6,3.2 0 1 0 -3.2,0M305.3,612.5a1.6,3.2 0 1 0 3.2,0a1.6,3.2 0 1 0 -3.2,0M311.4,614.5a1.6,3.2 0 1 0 3.2,0a1.6,3.2 0 1 0 -3.2,0M194.9,590.7a1.6,3.2 0 1 0 3.2,0a1.6,3.2 0 1 0 -3.2,0M201.0,592.7a1.6,3.2 0 1 0 3.2,0a1.6,3.2 0 1 0 -3.2,0M207.2,594.8a1.6,3.2 0 1 0 3.2,0a1.6,3.2 0 1 0 -3.2,0M213.3,596.9a1.6,3.2 0 1 0 3.2,0a1.6,3.2 0 1 0 -3.2,0M219.4,598.9a1.6,3.2 0 1 0 3.2,0a1.6,3.2 0 1 0 -3.2,0M225.6,601.0a1.6,3.2 0 1 0 3.2,0a1.6,3.2 0 1 0 -3.2,0M231.7,603.1a1.6,3.2 0 1 0 3.2,0a1.6,3.2 0 1 0 -3.2,0M237.8,605.2a1.6,3.2 0 1 0 3.2,0a1.6,3.2 0 1 0 -3.2,0M244.0,607.2a1.6,3.2 0 1 0 3.2,0a1.6,3.2 0 1 0 -3.2,0M250.1,609.3a1.6,3.2 0 1 0 3.2,0a1.6,3.2 0 1 0 -3.2,0M256.2,611.4a1.6,3.2 0 1 0 3.2,0a1.6,3.2 0 1 0 -3.2,0M262.3,613.4a1.6,3.2 0 1 0 3.2,0a1.6,3.2 0 1 0 -3.2,0M268.5,615.5a1.6,3.2 0 1 0 3.2,0a1.6,3.2 0 1 0 -3.2,0M274.6,617.6a1.6,3.2 0 1 0 3.2,0a1.6,3.2 0 1 0 -3.2,0M280.7,619.6a1.6,3.2 0 1 0 3.2,0a1.6,3.2 0 1 0 -3.2,0M286.9,621.7a1.6,3.2 0 1 0 3.2,0a1.6,3.2 0 1 0 -3.2,0M293.0,623.8a1.6,3.2 0 1 0 3.2,0a1.6,3.2 0 1 0 -3.2,0M299.1,625.9a1.6,3.2 0 1 0 3.2,0a1.6,3.2 0 1 0 -3.2,0M305.3,627.9a1.6,3.2 0 1 0 3.2,0a1.6,3.2 0 1 0 -3.2,0M311.4,630.0a1.6,3.2 0 1 0 3.2,0a1.6,3.2 0 1 0 -3.2,0M194.9,604.0a1.6,3.2 0 1 0 3.2,0a1.6,3.2 0 1 0 -3.2,0M201.0,606.2a1.6,3.2 0 1 0 3.2,0a1.6,3.2 0 1 0 -3.2,0M207.2,608.4a1.6,3.2 0 1 0 3.2,0a1.6,3.2 0 1 0 -3.2,0M213.3,610.6a1.6,3.2 0 1 0 3.2,0a1.6,3.2 0 1 0 -3.2,0M219.4,612.7a1.6,3.2 0 1 0 3.2,0a1.6,3.2 0 1 0 -3.2,0M225.6,614.9a1.6,3.2 0 1 0 3.2,0a1.6,3.2 0 1 0 -3.2,0M231.7,617.1a1.6,3.2 0 1 0 3.2,0a1.6,3.2 0 1 0 -3.2,0M237.8,619.3a1.6,3.2 0 1 0 3.2,0a1.6,3.2 0 1 0 -3.2,0M244.0,621.5a1.6,3.2 0 1 0 3.2,0a1.6,3.2 0 1 0 -3.2,0M250.1,623.7a1.6,3.2 0 1 0 3.2,0a1.6,3.2 0 1 0 -3.2,0M256.2,625.8a1.6,3.2 0 1 0 3.2,0a1.6,3.2 0 1 0 -3.2,0M262.3,628.0a1.6,3.2 0 1 0 3.2,0a1.6,3.2 0 1 0 -3.2,0M268.5,630.2a1.6,3.2 0 1 0 3.2,0a1.6,3.2 0 1 0 -3.2,0M274.6,632.4a1.6,3.2 0 1 0 3.2,0a1.6,3.2 0 1 0 -3.2,0M280.7,634.6a1.6,3.2 0 1 0 3.2,0a1.6,3.2 0 1 0 -3.2,0M286.9,636.8a1.6,3.2 0 1 0 3.2,0a1.6,3.2 0 1 0 -3.2,0M293.0,638.9a1.6,3.2 0 1 0 3.2,0a1.6,3.2 0 1 0 -3.2,0M299.1,641.1a1.6,3.2 0 1 0 3.2,0a1.6,3.2 0 1 0 -3.2,0M305.3,643.3a1.6,3.2 0 1 0 3.2,0a1.6,3.2 0 1 0 -3.2,0M311.4,645.5a1.6,3.2 0 1 0 3.2,0a1.6,3.2 0 1 0 -3.2,0M194.9,617.4a1.6,3.2 0 1 0 3.2,0a1.6,3.2 0 1 0 -3.2,0M201.0,619.7a1.6,3.2 0 1 0 3.2,0a1.6,3.2 0 1 0 -3.2,0M207.2,622.0a1.6,3.2 0 1 0 3.2,0a1.6,3.2 0 1 0 -3.2,0M213.3,624.3a1.6,3.2 0 1 0 3.2,0a1.6,3.2 0 1 0 -3.2,0M219.4,626.6a1.6,3.2 0 1 0 3.2,0a1.6,3.2 0 1 0 -3.2,0M225.6,628.9a1.6,3.2 0 1 0 3.2,0a1.6,3.2 0 1 0 -3.2,0M231.7,631.2a1.6,3.2 0 1 0 3.2,0a1.6,3.2 0 1 0 -3.2,0M237.8,633.4a1.6,3.2 0 1 0 3.2,0a1.6,3.2 0 1 0 -3.2,0M244.0,635.7a1.6,3.2 0 1 0 3.2,0a1.6,3.2 0 1 0 -3.2,0M250.1,638.0a1.6,3.2 0 1 0 3.2,0a1.6,3.2 0 1 0 -3.2,0M256.2,640.3a1.6,3.2 0 1 0 3.2,0a1.6,3.2 0 1 0 -3.2,0M262.3,642.6a1.6,3.2 0 1 0 3.2,0a1.6,3.2 0 1 0 -3.2,0M268.5,644.9a1.6,3.2 0 1 0 3.2,0a1.6,3.2 0 1 0 -3.2,0M274.6,647.2a1.6,3.2 0 1 0 3.2,0a1.6,3.2 0 1 0 -3.2,0M280.7,649.5a1.6,3.2 0 1 0 3.2,0a1.6,3.2 0 1 0 -3.2,0M286.9,651.8a1.6,3.2 0 1 0 3.2,0a1.6,3.2 0 1 0 -3.2,0M293.0,654.1a1.6,3.2 0 1 0 3.2,0a1.6,3.2 0 1 0 -3.2,0M299.1,656.4a1.6,3.2 0 1 0 3.2,0a1.6,3.2 0 1 0 -3.2,0M305.3,658.7a1.6,3.2 0 1 0 3.2,0a1.6,3.2 0 1 0 -3.2,0M311.4,661.0a1.6,3.2 0 1 0 3.2,0a1.6,3.2 0 1 0 -3.2,0M194.9,630.7a1.6,3.2 0 1 0 3.2,0a1.6,3.2 0 1 0 -3.2,0M201.0,633.1a1.6,3.2 0 1 0 3.2,0a1.6,3.2 0 1 0 -3.2,0M207.2,635.6a1.6,3.2 0 1 0 3.2,0a1.6,3.2 0 1 0 -3.2,0M213.3,638.0a1.6,3.2 0 1 0 3.2,0a1.6,3.2 0 1 0 -3.2,0M219.4,640.4a1.6,3.2 0 1 0 3.2,0a1.6,3.2 0 1 0 -3.2,0M225.6,642.8a1.6,3.2 0 1 0 3.2,0a1.6,3.2 0 1 0 -3.2,0M231.7,645.2a1.6,3.2 0 1 0 3.2,0a1.6,3.2 0 1 0 -3.2,0M237.8,647.6a1.6,3.2 0 1 0 3.2,0a1.6,3.2 0 1 0 -3.2,0M244.0,650.0a1.6,3.2 0 1 0 3.2,0a1.6,3.2 0 1 0 -3.2,0M250.1,652.4a1.6,3.2 0 1 0 3.2,0a1.6,3.2 0 1 0 -3.2,0M256.2,654.8a1.6,3.2 0 1 0 3.2,0a1.6,3.2 0 1 0 -3.2,0M262.3,657.2a1.6,3.2 0 1 0 3.2,0a1.6,3.2 0 1 0 -3.2,0M268.5,659.6a1.6,3.2 0 1 0 3.2,0a1.6,3.2 0 1 0 -3.2,0M274.6,662.0a1.6,3.2 0 1 0 3.2,0a1.6,3.2 0 1 0 -3.2,0M280.7,664.5a1.6,3.2 0 1 0 3.2,0a1.6,3.2 0 1 0 -3.2,0M286.9,666.9a1.6,3.2 0 1 0 3.2,0a1.6,3.2 0 1 0 -3.2,0M293.0,669.3a1.6,3.2 0 1 0 3.2,0a1.6,3.2 0 1 0 -3.2,0M299.1,671.7a1.6,3.2 0 1 0 3.2,0a1.6,3.2 0 1 0 -3.2,0M305.3,674.1a1.6,3.2 0 1 0 3.2,0a1.6,3.2 0 1 0 -3.2,0M311.4,676.5a1.6,3.2 0 1 0 3.2,0a1.6,3.2 0 1 0 -3.2,0M194.9,644.1a1.6,3.2 0 1 0 3.2,0a1.6,3.2 0 1 0 -3.2,0M201.0,646.6a1.6,3.2 0 1 0 3.2,0a1.6,3.2 0 1 0 -3.2,0M207.2,649.1a1.6,3.2 0 1 0 3.2,0a1.6,3.2 0 1 0 -3.2,0M213.3,651.7a1.6,3.2 0 1 0 3.2,0a1.6,3.2 0 1 0 -3.2,0M219.4,654.2a1.6,3.2 0 1 0 3.2,0a1.6,3.2 0 1 0 -3.2,0M225.6,656.7a1.6,3.2 0 1 0 3.2,0a1.6,3.2 0 1 0 -3.2,0M231.7,659.2a1.6,3.2 0 1 0 3.2,0a1.6,3.2 0 1 0 -3.2,0M237.8,661.7a1.6,3.2 0 1 0 3.2,0a1.6,3.2 0 1 0 -3.2,0M244.0,664.3a1.6,3.2 0 1 0 3.2,0a1.6,3.2 0 1 0 -3.2,0M250.1,666.8a1.6,3.2 0 1 0 3.2,0a1.6,3.2 0 1 0 -3.2,0M256.2,669.3a1.6,3.2 0 1 0 3.2,0a1.6,3.2 0 1 0 -3.2,0M262.3,671.8a1.6,3.2 0 1 0 3.2,0a1.6,3.2 0 1 0 -3.2,0M268.5,674.4a1.6,3.2 0 1 0 3.2,0a1.6,3.2 0 1 0 -3.2,0M274.6,676.9a1.6,3.2 0 1 0 3.2,0a1.6,3.2 0 1 0 -3.2,0M280.7,679.4a1.6,3.2 0 1 0 3.2,0a1.6,3.2 0 1 0 -3.2,0M286.9,681.9a1.6,3.2 0 1 0 3.2,0a1.6,3.2 0 1 0 -3.2,0M293.0,684.4a1.6,3.2 0 1 0 3.2,0a1.6,3.2 0 1 0 -3.2,0M299.1,687.0a1.6,3.2 0 1 0 3.2,0a1.6,3.2 0 1 0 -3.2,0M305.3,689.5a1.6,3.2 0 1 0 3.2,0a1.6,3.2 0 1 0 -3.2,0M311.4,692.0a1.6,3.2 0 1 0 3.2,0a1.6,3.2 0 1 0 -3.2,0M194.9,657.5a1.6,3.2 0 1 0 3.2,0a1.6,3.2 0 1 0 -3.2,0M201.0,660.1a1.6,3.2 0 1 0 3.2,0a1.6,3.2 0 1 0 -3.2,0M207.2,662.7a1.6,3.2 0 1 0 3.2,0a1.6,3.2 0 1 0 -3.2,0M213.3,665.4a1.6,3.2 0 1 0 3.2,0a1.6,3.2 0 1 0 -3.2,0M219.4,668.0a1.6,3.2 0 1 0 3.2,0a1.6,3.2 0 1 0 -3.2,0M225.6,670.6a1.6,3.2 0 1 0 3.2,0a1.6,3.2 0 1 0 -3.2,0M231.7,673.3a1.6,3.2 0 1 0 3.2,0a1.6,3.2 0 1 0 -3.2,0M237.8,675.9a1.6,3.2 0 1 0 3.2,0a1.6,3.2 0 1 0 -3.2,0M244.0,678.5a1.6,3.2 0 1 0 3.2,0a1.6,3.2 0 1 0 -3.2,0M250.1,681.2a1.6,3.2 0 1 0 3.2,0a1.6,3.2 0 1 0 -3.2,0M256.2,683.8a1.6,3.2 0 1 0 3.2,0a1.6,3.2 0 1 0 -3.2,0M262.3,686.4a1.6,3.2 0 1 0 3.2,0a1.6,3.2 0 1 0 -3.2,0M268.5,689.1a1.6,3.2 0 1 0 3.2,0a1.6,3.2 0 1 0 -3.2,0M274.6,691.7a1.6,3.2 0 1 0 3.2,0a1.6,3.2 0 1 0 -3.2,0M280.7,694.3a1.6,3.2 0 1 0 3.2,0a1.6,3.2 0 1 0 -3.2,0M286.9,697.0a1.6,3.2 0 1 0 3.2,0a1.6,3.2 0 1 0 -3.2,0M293.0,699.6a1.6,3.2 0 1 0 3.2,0a1.6,3.2 0 1 0 -3.2,0M299.1,702.2a1.6,3.2 0 1 0 3.2,0a1.6,3.2 0 1 0 -3.2,0M305.3,704.9a1.6,3.2 0 1 0 3.2,0a1.6,3.2 0 1 0 -3.2,0M311.4,707.5a1.6,3.2 0 1 0 3.2,0a1.6,3.2 0 1 0 -3.2,0M194.9,670.8a1.6,3.2 0 1 0 3.2,0a1.6,3.2 0 1 0 -3.2,0M201.0,673.6a1.6,3.2 0 1 0 3.2,0a1.6,3.2 0 1 0 -3.2,0M207.2,676.3a1.6,3.2 0 1 0 3.2,0a1.6,3.2 0 1 0 -3.2,0M213.3,679.1a1.6,3.2 0 1 0 3.2,0a1.6,3.2 0 1 0 -3.2,0M219.4,681.8a1.6,3.2 0 1 0 3.2,0a1.6,3.2 0 1 0 -3.2,0M225.6,684.5a1.6,3.2 0 1 0 3.2,0a1.6,3.2 0 1 0 -3.2,0M231.7,687.3a1.6,3.2 0 1 0 3.2,0a1.6,3.2 0 1 0 -3.2,0M237.8,690.0a1.6,3.2 0 1 0 3.2,0a1.6,3.2 0 1 0 -3.2,0M244.0,692.8a1.6,3.2 0 1 0 3.2,0a1.6,3.2 0 1 0 -3.2,0M250.1,695.5a1.6,3.2 0 1 0 3.2,0a1.6,3.2 0 1 0 -3.2,0M256.2,698.3a1.6,3.2 0 1 0 3.2,0a1.6,3.2 0 1 0 -3.2,0M262.3,701.0a1.6,3.2 0 1 0 3.2,0a1.6,3.2 0 1 0 -3.2,0M268.5,703.8a1.6,3.2 0 1 0 3.2,0a1.6,3.2 0 1 0 -3.2,0M274.6,706.5a1.6,3.2 0 1 0 3.2,0a1.6,3.2 0 1 0 -3.2,0M280.7,709.3a1.6,3.2 0 1 0 3.2,0a1.6,3.2 0 1 0 -3.2,0M286.9,712.0a1.6,3.2 0 1 0 3.2,0a1.6,3.2 0 1 0 -3.2,0M293.0,714.8a1.6,3.2 0 1 0 3.2,0a1.6,3.2 0 1 0 -3.2,0M299.1,717.5a1.6,3.2 0 1 0 3.2,0a1.6,3.2 0 1 0 -3.2,0M305.3,720.3a1.6,3.2 0 1 0 3.2,0a1.6,3.2 0 1 0 -3.2,0M311.4,723.0a1.6,3.2 0 1 0 3.2,0a1.6,3.2 0 1 0 -3.2,0M194.9,684.2a1.6,3.2 0 1 0 3.2,0a1.6,3.2 0 1 0 -3.2,0M201.0,687.0a1.6,3.2 0 1 0 3.2,0a1.6,3.2 0 1 0 -3.2,0M207.2,689.9a1.6,3.2 0 1 0 3.2,0a1.6,3.2 0 1 0 -3.2,0M213.3,692.7a1.6,3.2 0 1 0 3.2,0a1.6,3.2 0 1 0 -3.2,0M219.4,695.6a1.6,3.2 0 1 0 3.2,0a1.6,3.2 0 1 0 -3.2,0M225.6,698.5a1.6,3.2 0 1 0 3.2,0a1.6,3.2 0 1 0 -3.2,0M231.7,701.3a1.6,3.2 0 1 0 3.2,0a1.6,3.2 0 1 0 -3.2,0M237.8,704.2a1.6,3.2 0 1 0 3.2,0a1.6,3.2 0 1 0 -3.2,0M244.0,707.0a1.6,3.2 0 1 0 3.2,0a1.6,3.2 0 1 0 -3.2,0M250.1,709.9a1.6,3.2 0 1 0 3.2,0a1.6,3.2 0 1 0 -3.2,0M256.2,712.8a1.6,3.2 0 1 0 3.2,0a1.6,3.2 0 1 0 -3.2,0M262.3,715.6a1.6,3.2 0 1 0 3.2,0a1.6,3.2 0 1 0 -3.2,0M268.5,718.5a1.6,3.2 0 1 0 3.2,0a1.6,3.2 0 1 0 -3.2,0M274.6,721.3a1.6,3.2 0 1 0 3.2,0a1.6,3.2 0 1 0 -3.2,0M280.7,724.2a1.6,3.2 0 1 0 3.2,0a1.6,3.2 0 1 0 -3.2,0M286.9,727.1a1.6,3.2 0 1 0 3.2,0a1.6,3.2 0 1 0 -3.2,0M293.0,729.9a1.6,3.2 0 1 0 3.2,0a1.6,3.2 0 1 0 -3.2,0M299.1,732.8a1.6,3.2 0 1 0 3.2,0a1.6,3.2 0 1 0 -3.2,0M305.3,735.6a1.6,3.2 0 1 0 3.2,0a1.6,3.2 0 1 0 -3.2,0M311.4,738.5a1.6,3.2 0 1 0 3.2,0a1.6,3.2 0 1 0 -3.2,0M194.9,697.5a1.6,3.2 0 1 0 3.2,0a1.6,3.2 0 1 0 -3.2,0M201.0,700.5a1.6,3.2 0 1 0 3.2,0a1.6,3.2 0 1 0 -3.2,0M207.2,703.5a1.6,3.2 0 1 0 3.2,0a1.6,3.2 0 1 0 -3.2,0M213.3,706.4a1.6,3.2 0 1 0 3.2,0a1.6,3.2 0 1 0 -3.2,0M219.4,709.4a1.6,3.2 0 1 0 3.2,0a1.6,3.2 0 1 0 -3.2,0M225.6,712.4a1.6,3.2 0 1 0 3.2,0a1.6,3.2 0 1 0 -3.2,0M231.7,715.4a1.6,3.2 0 1 0 3.2,0a1.6,3.2 0 1 0 -3.2,0M237.8,718.3a1.6,3.2 0 1 0 3.2,0a1.6,3.2 0 1 0 -3.2,0M244.0,721.3a1.6,3.2 0 1 0 3.2,0a1.6,3.2 0 1 0 -3.2,0M250.1,724.3a1.6,3.2 0 1 0 3.2,0a1.6,3.2 0 1 0 -3.2,0M256.2,727.3a1.6,3.2 0 1 0 3.2,0a1.6,3.2 0 1 0 -3.2,0M262.3,730.2a1.6,3.2 0 1 0 3.2,0a1.6,3.2 0 1 0 -3.2,0M268.5,733.2a1.6,3.2 0 1 0 3.2,0a1.6,3.2 0 1 0 -3.2,0M274.6,736.2a1.6,3.2 0 1 0 3.2,0a1.6,3.2 0 1 0 -3.2,0M280.7,739.1a1.6,3.2 0 1 0 3.2,0a1.6,3.2 0 1 0 -3.2,0M286.9,742.1a1.6,3.2 0 1 0 3.2,0a1.6,3.2 0 1 0 -3.2,0M293.0,745.1a1.6,3.2 0 1 0 3.2,0a1.6,3.2 0 1 0 -3.2,0M299.1,748.1a1.6,3.2 0 1 0 3.2,0a1.6,3.2 0 1 0 -3.2,0M305.3,751.0a1.6,3.2 0 1 0 3.2,0a1.6,3.2 0 1 0 -3.2,0M311.4,754.0a1.6,3.2 0 1 0 3.2,0a1.6,3.2 0 1 0 -3.2,0M194.9,710.9a1.6,3.2 0 1 0 3.2,0a1.6,3.2 0 1 0 -3.2,0M201.0,714.0a1.6,3.2 0 1 0 3.2,0a1.6,3.2 0 1 0 -3.2,0M207.2,717.1a1.6,3.2 0 1 0 3.2,0a1.6,3.2 0 1 0 -3.2,0M213.3,720.1a1.6,3.2 0 1 0 3.2,0a1.6,3.2 0 1 0 -3.2,0M219.4,723.2a1.6,3.2 0 1 0 3.2,0a1.6,3.2 0 1 0 -3.2,0M225.6,726.3a1.6,3.2 0 1 0 3.2,0a1.6,3.2 0 1 0 -3.2,0M231.7,729.4a1.6,3.2 0 1 0 3.2,0a1.6,3.2 0 1 0 -3.2,0M237.8,732.5a1.6,3.2 0 1 0 3.2,0a1.6,3.2 0 1 0 -3.2,0M244.0,735.6a1.6,3.2 0 1 0 3.2,0a1.6,3.2 0 1 0 -3.2,0M250.1,738.7a1.6,3.2 0 1 0 3.2,0a1.6,3.2 0 1 0 -3.2,0M256.2,741.7a1.6,3.2 0 1 0 3.2,0a1.6,3.2 0 1 0 -3.2,0M262.3,744.8a1.6,3.2 0 1 0 3.2,0a1.6,3.2 0 1 0 -3.2,0M268.5,747.9a1.6,3.2 0 1 0 3.2,0a1.6,3.2 0 1 0 -3.2,0M274.6,751.0a1.6,3.2 0 1 0 3.2,0a1.6,3.2 0 1 0 -3.2,0M280.7,754.1a1.6,3.2 0 1 0 3.2,0a1.6,3.2 0 1 0 -3.2,0M286.9,757.2a1.6,3.2 0 1 0 3.2,0a1.6,3.2 0 1 0 -3.2,0M293.0,760.2a1.6,3.2 0 1 0 3.2,0a1.6,3.2 0 1 0 -3.2,0M299.1,763.3a1.6,3.2 0 1 0 3.2,0a1.6,3.2 0 1 0 -3.2,0M305.3,766.4a1.6,3.2 0 1 0 3.2,0a1.6,3.2 0 1 0 -3.2,0M311.4,769.5a1.6,3.2 0 1 0 3.2,0a1.6,3.2 0 1 0 -3.2,0M194.9,724.2a1.6,3.2 0 1 0 3.2,0a1.6,3.2 0 1 0 -3.2,0M201.0,727.4a1.6,3.2 0 1 0 3.2,0a1.6,3.2 0 1 0 -3.2,0M207.2,730.6a1.6,3.2 0 1 0 3.2,0a1.6,3.2 0 1 0 -3.2,0M213.3,733.8a1.6,3.2 0 1 0 3.2,0a1.6,3.2 0 1 0 -3.2,0M219.4,737.0a1.6,3.2 0 1 0 3.2,0a1.6,3.2 0 1 0 -3.2,0M225.6,740.2a1.6,3.2 0 1 0 3.2,0a1.6,3.2 0 1 0 -3.2,0M231.7,743.4a1.6,3.2 0 1 0 3.2,0a1.6,3.2 0 1 0 -3.2,0M237.8,746.6a1.6,3.2 0 1 0 3.2,0a1.6,3.2 0 1 0 -3.2,0M244.0,749.8a1.6,3.2 0 1 0 3.2,0a1.6,3.2 0 1 0 -3.2,0M250.1,753.0a1.6,3.2 0 1 0 3.2,0a1.6,3.2 0 1 0 -3.2,0M256.2,756.2a1.6,3.2 0 1 0 3.2,0a1.6,3.2 0 1 0 -3.2,0M262.3,759.4a1.6,3.2 0 1 0 3.2,0a1.6,3.2 0 1 0 -3.2,0M268.5,762.6a1.6,3.2 0 1 0 3.2,0a1.6,3.2 0 1 0 -3.2,0M274.6,765.8a1.6,3.2 0 1 0 3.2,0a1.6,3.2 0 1 0 -3.2,0M280.7,769.0a1.6,3.2 0 1 0 3.2,0a1.6,3.2 0 1 0 -3.2,0M286.9,772.2a1.6,3.2 0 1 0 3.2,0a1.6,3.2 0 1 0 -3.2,0M293.0,775.4a1.6,3.2 0 1 0 3.2,0a1.6,3.2 0 1 0 -3.2,0M299.1,778.6a1.6,3.2 0 1 0 3.2,0a1.6,3.2 0 1 0 -3.2,0M305.3,781.8a1.6,3.2 0 1 0 3.2,0a1.6,3.2 0 1 0 -3.2,0M311.4,785.0a1.6,3.2 0 1 0 3.2,0a1.6,3.2 0 1 0 -3.2,0M194.9,737.6a1.6,3.2 0 1 0 3.2,0a1.6,3.2 0 1 0 -3.2,0M201.0,740.9a1.6,3.2 0 1 0 3.2,0a1.6,3.2 0 1 0 -3.2,0M207.2,744.2a1.6,3.2 0 1 0 3.2,0a1.6,3.2 0 1 0 -3.2,0M213.3,747.5a1.6,3.2 0 1 0 3.2,0a1.6,3.2 0 1 0 -3.2,0M219.4,750.8a1.6,3.2 0 1 0 3.2,0a1.6,3.2 0 1 0 -3.2,0M225.6,754.2a1.6,3.2 0 1 0 3.2,0a1.6,3.2 0 1 0 -3.2,0M231.7,757.5a1.6,3.2 0 1 0 3.2,0a1.6,3.2 0 1 0 -3.2,0M237.8,760.8a1.6,3.2 0 1 0 3.2,0a1.6,3.2 0 1 0 -3.2,0M244.0,764.1a1.6,3.2 0 1 0 3.2,0a1.6,3.2 0 1 0 -3.2,0M250.1,767.4a1.6,3.2 0 1 0 3.2,0a1.6,3.2 0 1 0 -3.2,0M256.2,770.7a1.6,3.2 0 1 0 3.2,0a1.6,3.2 0 1 0 -3.2,0M262.3,774.0a1.6,3.2 0 1 0 3.2,0a1.6,3.2 0 1 0 -3.2,0M268.5,777.3a1.6,3.2 0 1 0 3.2,0a1.6,3.2 0 1 0 -3.2,0M274.6,780.6a1.6,3.2 0 1 0 3.2,0a1.6,3.2 0 1 0 -3.2,0M280.7,783.9a1.6,3.2 0 1 0 3.2,0a1.6,3.2 0 1 0 -3.2,0M286.9,787.3a1.6,3.2 0 1 0 3.2,0a1.6,3.2 0 1 0 -3.2,0M293.0,790.6a1.6,3.2 0 1 0 3.2,0a1.6,3.2 0 1 0 -3.2,0M299.1,793.9a1.6,3.2 0 1 0 3.2,0a1.6,3.2 0 1 0 -3.2,0M305.3,797.2a1.6,3.2 0 1 0 3.2,0a1.6,3.2 0 1 0 -3.2,0M311.4,800.5a1.6,3.2 0 1 0 3.2,0a1.6,3.2 0 1 0 -3.2,0M194.9,751.0a1.6,3.2 0 1 0 3.2,0a1.6,3.2 0 1 0 -3.2,0M201.0,754.4a1.6,3.2 0 1 0 3.2,0a1.6,3.2 0 1 0 -3.2,0M207.2,757.8a1.6,3.2 0 1 0 3.2,0a1.6,3.2 0 1 0 -3.2,0M213.3,761.2a1.6,3.2 0 1 0 3.2,0a1.6,3.2 0 1 0 -3.2,0M219.4,764.7a1.6,3.2 0 1 0 3.2,0a1.6,3.2 0 1 0 -3.2,0M225.6,768.1a1.6,3.2 0 1 0 3.2,0a1.6,3.2 0 1 0 -3.2,0M231.7,771.5a1.6,3.2 0 1 0 3.2,0a1.6,3.2 0 1 0 -3.2,0M237.8,774.9a1.6,3.2 0 1 0 3.2,0a1.6,3.2 0 1 0 -3.2,0M244.0,778.4a1.6,3.2 0 1 0 3.2,0a1.6,3.2 0 1 0 -3.2,0M250.1,781.8a1.6,3.2 0 1 0 3.2,0a1.6,3.2 0 1 0 -3.2,0M256.2,785.2a1.6,3.2 0 1 0 3.2,0a1.6,3.2 0 1 0 -3.2,0M262.3,788.6a1.6,3.2 0 1 0 3.2,0a1.6,3.2 0 1 0 -3.2,0M268.5,792.0a1.6,3.2 0 1 0 3.2,0a1.6,3.2 0 1 0 -3.2,0M274.6,795.5a1.6,3.2 0 1 0 3.2,0a1.6,3.2 0 1 0 -3.2,0M280.7,798.9a1.6,3.2 0 1 0 3.2,0a1.6,3.2 0 1 0 -3.2,0M286.9,802.3a1.6,3.2 0 1 0 3.2,0a1.6,3.2 0 1 0 -3.2,0M293.0,805.7a1.6,3.2 0 1 0 3.2,0a1.6,3.2 0 1 0 -3.2,0M299.1,809.2a1.6,3.2 0 1 0 3.2,0a1.6,3.2 0 1 0 -3.2,0M305.3,812.6a1.6,3.2 0 1 0 3.2,0a1.6,3.2 0 1 0 -3.2,0M311.4,816.0a1.6,3.2 0 1 0 3.2,0a1.6,3.2 0 1 0 -3.2,0M194.9,764.3a1.6,3.2 0 1 0 3.2,0a1.6,3.2 0 1 0 -3.2,0M201.0,767.9a1.6,3.2 0 1 0 3.2,0a1.6,3.2 0 1 0 -3.2,0M207.2,771.4a1.6,3.2 0 1 0 3.2,0a1.6,3.2 0 1 0 -3.2,0M213.3,774.9a1.6,3.2 0 1 0 3.2,0a1.6,3.2 0 1 0 -3.2,0M219.4,778.5a1.6,3.2 0 1 0 3.2,0a1.6,3.2 0 1 0 -3.2,0M225.6,782.0a1.6,3.2 0 1 0 3.2,0a1.6,3.2 0 1 0 -3.2,0M231.7,785.5a1.6,3.2 0 1 0 3.2,0a1.6,3.2 0 1 0 -3.2,0M237.8,789.1a1.6,3.2 0 1 0 3.2,0a1.6,3.2 0 1 0 -3.2,0M244.0,792.6a1.6,3.2 0 1 0 3.2,0a1.6,3.2 0 1 0 -3.2,0M250.1,796.1a1.6,3.2 0 1 0 3.2,0a1.6,3.2 0 1 0 -3.2,0M256.2,799.7a1.6,3.2 0 1 0 3.2,0a1.6,3.2 0 1 0 -3.2,0M262.3,803.2a1.6,3.2 0 1 0 3.2,0a1.6,3.2 0 1 0 -3.2,0M268.5,806.8a1.6,3.2 0 1 0 3.2,0a1.6,3.2 0 1 0 -3.2,0M274.6,810.3a1.6,3.2 0 1 0 3.2,0a1.6,3.2 0 1 0 -3.2,0M280.7,813.8a1.6,3.2 0 1 0 3.2,0a1.6,3.2 0 1 0 -3.2,0M286.9,817.4a1.6,3.2 0 1 0 3.2,0a1.6,3.2 0 1 0 -3.2,0M293.0,820.9a1.6,3.2 0 1 0 3.2,0a1.6,3.2 0 1 0 -3.2,0M299.1,824.4a1.6,3.2 0 1 0 3.2,0a1.6,3.2 0 1 0 -3.2,0M305.3,828.0a1.6,3.2 0 1 0 3.2,0a1.6,3.2 0 1 0 -3.2,0M311.4,831.5a1.6,3.2 0 1 0 3.2,0a1.6,3.2 0 1 0 -3.2,0M194.9,777.7a1.6,3.2 0 1 0 3.2,0a1.6,3.2 0 1 0 -3.2,0M201.0,781.3a1.6,3.2 0 1 0 3.2,0a1.6,3.2 0 1 0 -3.2,0M207.2,785.0a1.6,3.2 0 1 0 3.2,0a1.6,3.2 0 1 0 -3.2,0M213.3,788.6a1.6,3.2 0 1 0 3.2,0a1.6,3.2 0 1 0 -3.2,0M219.4,792.3a1.6,3.2 0 1 0 3.2,0a1.6,3.2 0 1 0 -3.2,0M225.6,795.9a1.6,3.2 0 1 0 3.2,0a1.6,3.2 0 1 0 -3.2,0M231.7,799.6a1.6,3.2 0 1 0 3.2,0a1.6,3.2 0 1 0 -3.2,0M237.8,803.2a1.6,3.2 0 1 0 3.2,0a1.6,3.2 0 1 0 -3.2,0M244.0,806.9a1.6,3.2 0 1 0 3.2,0a1.6,3.2 0 1 0 -3.2,0M250.1,810.5a1.6,3.2 0 1 0 3.2,0a1.6,3.2 0 1 0 -3.2,0M256.2,814.2a1.6,3.2 0 1 0 3.2,0a1.6,3.2 0 1 0 -3.2,0M262.3,817.8a1.6,3.2 0 1 0 3.2,0a1.6,3.2 0 1 0 -3.2,0M268.5,821.5a1.6,3.2 0 1 0 3.2,0a1.6,3.2 0 1 0 -3.2,0M274.6,825.1a1.6,3.2 0 1 0 3.2,0a1.6,3.2 0 1 0 -3.2,0M280.7,828.8a1.6,3.2 0 1 0 3.2,0a1.6,3.2 0 1 0 -3.2,0M286.9,832.4a1.6,3.2 0 1 0 3.2,0a1.6,3.2 0 1 0 -3.2,0M293.0,836.1a1.6,3.2 0 1 0 3.2,0a1.6,3.2 0 1 0 -3.2,0M299.1,839.7a1.6,3.2 0 1 0 3.2,0a1.6,3.2 0 1 0 -3.2,0M305.3,843.4a1.6,3.2 0 1 0 3.2,0a1.6,3.2 0 1 0 -3.2,0M311.4,847.0a1.6,3.2 0 1 0 3.2,0a1.6,3.2 0 1 0 -3.2,0M194.9,791.0a1.6,3.2 0 1 0 3.2,0a1.6,3.2 0 1 0 -3.2,0M201.0,794.8a1.6,3.2 0 1 0 3.2,0a1.6,3.2 0 1 0 -3.2,0M207.2,798.6a1.6,3.2 0 1 0 3.2,0a1.6,3.2 0 1 0 -3.2,0M213.3,802.3a1.6,3.2 0 1 0 3.2,0a1.6,3.2 0 1 0 -3.2,0M219.4,806.1a1.6,3.2 0 1 0 3.2,0a1.6,3.2 0 1 0 -3.2,0M225.6,809.9a1.6,3.2 0 1 0 3.2,0a1.6,3.2 0 1 0 -3.2,0M231.7,813.6a1.6,3.2 0 1 0 3.2,0a1.6,3.2 0 1 0 -3.2,0M237.8,817.4a1.6,3.2 0 1 0 3.2,0a1.6,3.2 0 1 0 -3.2,0M244.0,821.1a1.6,3.2 0 1 0 3.2,0a1.6,3.2 0 1 0 -3.2,0M250.1,824.9a1.6,3.2 0 1 0 3.2,0a1.6,3.2 0 1 0 -3.2,0M256.2,828.7a1.6,3.2 0 1 0 3.2,0a1.6,3.2 0 1 0 -3.2,0M262.3,832.4a1.6,3.2 0 1 0 3.2,0a1.6,3.2 0 1 0 -3.2,0M268.5,836.2a1.6,3.2 0 1 0 3.2,0a1.6,3.2 0 1 0 -3.2,0M274.6,839.9a1.6,3.2 0 1 0 3.2,0a1.6,3.2 0 1 0 -3.2,0M280.7,843.7a1.6,3.2 0 1 0 3.2,0a1.6,3.2 0 1 0 -3.2,0M286.9,847.5a1.6,3.2 0 1 0 3.2,0a1.6,3.2 0 1 0 -3.2,0M293.0,851.2a1.6,3.2 0 1 0 3.2,0a1.6,3.2 0 1 0 -3.2,0M299.1,855.0a1.6,3.2 0 1 0 3.2,0a1.6,3.2 0 1 0 -3.2,0M305.3,858.7a1.6,3.2 0 1 0 3.2,0a1.6,3.2 0 1 0 -3.2,0M311.4,862.5a1.6,3.2 0 1 0 3.2,0a1.6,3.2 0 1 0 -3.2,0M194.9,804.4a1.6,3.2 0 1 0 3.2,0a1.6,3.2 0 1 0 -3.2,0M201.0,808.3a1.6,3.2 0 1 0 3.2,0a1.6,3.2 0 1 0 -3.2,0M207.2,812.2a1.6,3.2 0 1 0 3.2,0a1.6,3.2 0 1 0 -3.2,0M213.3,816.0a1.6,3.2 0 1 0 3.2,0a1.6,3.2 0 1 0 -3.2,0M219.4,819.9a1.6,3.2 0 1 0 3.2,0a1.6,3.2 0 1 0 -3.2,0M225.6,823.8a1.6,3.2 0 1 0 3.2,0a1.6,3.2 0 1 0 -3.2,0M231.7,827.6a1.6,3.2 0 1 0 3.2,0a1.6,3.2 0 1 0 -3.2,0M237.8,831.5a1.6,3.2 0 1 0 3.2,0a1.6,3.2 0 1 0 -3.2,0M244.0,835.4a1.6,3.2 0 1 0 3.2,0a1.6,3.2 0 1 0 -3.2,0M250.1,839.3a1.6,3.2 0 1 0 3.2,0a1.6,3.2 0 1 0 -3.2,0M256.2,843.1a1.6,3.2 0 1 0 3.2,0a1.6,3.2 0 1 0 -3.2,0M262.3,847.0a1.6,3.2 0 1 0 3.2,0a1.6,3.2 0 1 0 -3.2,0M268.5,850.9a1.6,3.2 0 1 0 3.2,0a1.6,3.2 0 1 0 -3.2,0M274.6,854.8a1.6,3.2 0 1 0 3.2,0a1.6,3.2 0 1 0 -3.2,0M280.7,858.6a1.6,3.2 0 1 0 3.2,0a1.6,3.2 0 1 0 -3.2,0M286.9,862.5a1.6,3.2 0 1 0 3.2,0a1.6,3.2 0 1 0 -3.2,0M293.0,866.4a1.6,3.2 0 1 0 3.2,0a1.6,3.2 0 1 0 -3.2,0M299.1,870.3a1.6,3.2 0 1 0 3.2,0a1.6,3.2 0 1 0 -3.2,0M305.3,874.1a1.6,3.2 0 1 0 3.2,0a1.6,3.2 0 1 0 -3.2,0M311.4,878.0a1.6,3.2 0 1 0 3.2,0a1.6,3.2 0 1 0 -3.2,0M194.9,817.8a1.6,3.2 0 1 0 3.2,0a1.6,3.2 0 1 0 -3.2,0M201.0,821.8a1.6,3.2 0 1 0 3.2,0a1.6,3.2 0 1 0 -3.2,0M207.2,825.7a1.6,3.2 0 1 0 3.2,0a1.6,3.2 0 1 0 -3.2,0M213.3,829.7a1.6,3.2 0 1 0 3.2,0a1.6,3.2 0 1 0 -3.2,0M219.4,833.7a1.6,3.2 0 1 0 3.2,0a1.6,3.2 0 1 0 -3.2,0M225.6,837.7a1.6,3.2 0 1 0 3.2,0a1.6,3.2 0 1 0 -3.2,0M231.7,841.7a1.6,3.2 0 1 0 3.2,0a1.6,3.2 0 1 0 -3.2,0M237.8,845.7a1.6,3.2 0 1 0 3.2,0a1.6,3.2 0 1 0 -3.2,0M244.0,849.7a1.6,3.2 0 1 0 3.2,0a1.6,3.2 0 1 0 -3.2,0M250.1,853.6a1.6,3.2 0 1 0 3.2,0a1.6,3.2 0 1 0 -3.2,0M256.2,857.6a1.6,3.2 0 1 0 3.2,0a1.6,3.2 0 1 0 -3.2,0M262.3,861.6a1.6,3.2 0 1 0 3.2,0a1.6,3.2 0 1 0 -3.2,0M268.5,865.6a1.6,3.2 0 1 0 3.2,0a1.6,3.2 0 1 0 -3.2,0M274.6,869.6a1.6,3.2 0 1 0 3.2,0a1.6,3.2 0 1 0 -3.2,0M280.7,873.6a1.6,3.2 0 1 0 3.2,0a1.6,3.2 0 1 0 -3.2,0M286.9,877.6a1.6,3.2 0 1 0 3.2,0a1.6,3.2 0 1 0 -3.2,0M293.0,881.5a1.6,3.2 0 1 0 3.2,0a1.6,3.2 0 1 0 -3.2,0M299.1,885.5a1.6,3.2 0 1 0 3.2,0a1.6,3.2 0 1 0 -3.2,0M305.3,889.5a1.6,3.2 0 1 0 3.2,0a1.6,3.2 0 1 0 -3.2,0M311.4,893.5a1.6,3.2 0 1 0 3.2,0a1.6,3.2 0 1 0 -3.2,0M194.9,831.1a1.6,3.2 0 1 0 3.2,0a1.6,3.2 0 1 0 -3.2,0M201.0,835.2a1.6,3.2 0 1 0 3.2,0a1.6,3.2 0 1 0 -3.2,0M207.2,839.3a1.6,3.2 0 1 0 3.2,0a1.6,3.2 0 1 0 -3.2,0M213.3,843.4a1.6,3.2 0 1 0 3.2,0a1.6,3.2 0 1 0 -3.2,0M219.4,847.5a1.6,3.2 0 1 0 3.2,0a1.6,3.2 0 1 0 -3.2,0M225.6,851.6a1.6,3.2 0 1 0 3.2,0a1.6,3.2 0 1 0 -3.2,0M231.7,855.7a1.6,3.2 0 1 0 3.2,0a1.6,3.2 0 1 0 -3.2,0M237.8,859.8a1.6,3.2 0 1 0 3.2,0a1.6,3.2 0 1 0 -3.2,0M244.0,863.9a1.6,3.2 0 1 0 3.2,0a1.6,3.2 0 1 0 -3.2,0M250.1,868.0a1.6,3.2 0 1 0 3.2,0a1.6,3.2 0 1 0 -3.2,0M256.2,872.1a1.6,3.2 0 1 0 3.2,0a1.6,3.2 0 1 0 -3.2,0M262.3,876.2a1.6,3.2 0 1 0 3.2,0a1.6,3.2 0 1 0 -3.2,0M268.5,880.3a1.6,3.2 0 1 0 3.2,0a1.6,3.2 0 1 0 -3.2,0M274.6,884.4a1.6,3.2 0 1 0 3.2,0a1.6,3.2 0 1 0 -3.2,0M280.7,888.5a1.6,3.2 0 1 0 3.2,0a1.6,3.2 0 1 0 -3.2,0M286.9,892.6a1.6,3.2 0 1 0 3.2,0a1.6,3.2 0 1 0 -3.2,0M293.0,896.7a1.6,3.2 0 1 0 3.2,0a1.6,3.2 0 1 0 -3.2,0M299.1,900.8a1.6,3.2 0 1 0 3.2,0a1.6,3.2 0 1 0 -3.2,0M305.3,904.9a1.6,3.2 0 1 0 3.2,0a1.6,3.2 0 1 0 -3.2,0M311.4,909.0a1.6,3.2 0 1 0 3.2,0a1.6,3.2 0 1 0 -3.2,0M194.9,844.5a1.6,3.2 0 1 0 3.2,0a1.6,3.2 0 1 0 -3.2,0M201.0,848.7a1.6,3.2 0 1 0 3.2,0a1.6,3.2 0 1 0 -3.2,0M207.2,852.9a1.6,3.2 0 1 0 3.2,0a1.6,3.2 0 1 0 -3.2,0M213.3,857.1a1.6,3.2 0 1 0 3.2,0a1.6,3.2 0 1 0 -3.2,0M219.4,861.3a1.6,3.2 0 1 0 3.2,0a1.6,3.2 0 1 0 -3.2,0M225.6,865.5a1.6,3.2 0 1 0 3.2,0a1.6,3.2 0 1 0 -3.2,0M231.7,869.8a1.6,3.2 0 1 0 3.2,0a1.6,3.2 0 1 0 -3.2,0M237.8,874.0a1.6,3.2 0 1 0 3.2,0a1.6,3.2 0 1 0 -3.2,0M244.0,878.2a1.6,3.2 0 1 0 3.2,0a1.6,3.2 0 1 0 -3.2,0M250.1,882.4a1.6,3.2 0 1 0 3.2,0a1.6,3.2 0 1 0 -3.2,0M256.2,886.6a1.6,3.2 0 1 0 3.2,0a1.6,3.2 0 1 0 -3.2,0M262.3,890.8a1.6,3.2 0 1 0 3.2,0a1.6,3.2 0 1 0 -3.2,0M268.5,895.0a1.6,3.2 0 1 0 3.2,0a1.6,3.2 0 1 0 -3.2,0M274.6,899.2a1.6,3.2 0 1 0 3.2,0a1.6,3.2 0 1 0 -3.2,0M280.7,903.4a1.6,3.2 0 1 0 3.2,0a1.6,3.2 0 1 0 -3.2,0M286.9,907.7a1.6,3.2 0 1 0 3.2,0a1.6,3.2 0 1 0 -3.2,0M293.0,911.9a1.6,3.2 0 1 0 3.2,0a1.6,3.2 0 1 0 -3.2,0M299.1,916.1a1.6,3.2 0 1 0 3.2,0a1.6,3.2 0 1 0 -3.2,0M305.3,920.3a1.6,3.2 0 1 0 3.2,0a1.6,3.2 0 1 0 -3.2,0M311.4,924.5a1.6,3.2 0 1 0 3.2,0a1.6,3.2 0 1 0 -3.2,0M194.9,857.8a1.6,3.2 0 1 0 3.2,0a1.6,3.2 0 1 0 -3.2,0M201.0,862.2a1.6,3.2 0 1 0 3.2,0a1.6,3.2 0 1 0 -3.2,0M207.2,866.5a1.6,3.2 0 1 0 3.2,0a1.6,3.2 0 1 0 -3.2,0M213.3,870.8a1.6,3.2 0 1 0 3.2,0a1.6,3.2 0 1 0 -3.2,0M219.4,875.1a1.6,3.2 0 1 0 3.2,0a1.6,3.2 0 1 0 -3.2,0M225.6,879.5a1.6,3.2 0 1 0 3.2,0a1.6,3.2 0 1 0 -3.2,0M231.7,883.8a1.6,3.2 0 1 0 3.2,0a1.6,3.2 0 1 0 -3.2,0M237.8,888.1a1.6,3.2 0 1 0 3.2,0a1.6,3.2 0 1 0 -3.2,0M244.0,892.4a1.6,3.2 0 1 0 3.2,0a1.6,3.2 0 1 0 -3.2,0M250.1,896.8a1.6,3.2 0 1 0 3.2,0a1.6,3.2 0 1 0 -3.2,0M256.2,901.1a1.6,3.2 0 1 0 3.2,0a1.6,3.2 0 1 0 -3.2,0M262.3,905.4a1.6,3.2 0 1 0 3.2,0a1.6,3.2 0 1 0 -3.2,0M268.5,909.7a1.6,3.2 0 1 0 3.2,0a1.6,3.2 0 1 0 -3.2,0M274.6,914.1a1.6,3.2 0 1 0 3.2,0a1.6,3.2 0 1 0 -3.2,0M280.7,918.4a1.6,3.2 0 1 0 3.2,0a1.6,3.2 0 1 0 -3.2,0M286.9,922.7a1.6,3.2 0 1 0 3.2,0a1.6,3.2 0 1 0 -3.2,0M293.0,927.0a1.6,3.2 0 1 0 3.2,0a1.6,3.2 0 1 0 -3.2,0M299.1,931.4a1.6,3.2 0 1 0 3.2,0a1.6,3.2 0 1 0 -3.2,0M305.3,935.7a1.6,3.2 0 1 0 3.2,0a1.6,3.2 0 1 0 -3.2,0M311.4,940.0a1.6,3.2 0 1 0 3.2,0a1.6,3.2 0 1 0 -3.2,0M194.9,871.2a1.6,3.2 0 1 0 3.2,0a1.6,3.2 0 1 0 -3.2,0M201.0,875.6a1.6,3.2 0 1 0 3.2,0a1.6,3.2 0 1 0 -3.2,0M207.2,880.1a1.6,3.2 0 1 0 3.2,0a1.6,3.2 0 1 0 -3.2,0M213.3,884.5a1.6,3.2 0 1 0 3.2,0a1.6,3.2 0 1 0 -3.2,0M219.4,888.9a1.6,3.2 0 1 0 3.2,0a1.6,3.2 0 1 0 -3.2,0M225.6,893.4a1.6,3.2 0 1 0 3.2,0a1.6,3.2 0 1 0 -3.2,0M231.7,897.8a1.6,3.2 0 1 0 3.2,0a1.6,3.2 0 1 0 -3.2,0M237.8,902.3a1.6,3.2 0 1 0 3.2,0a1.6,3.2 0 1 0 -3.2,0M244.0,906.7a1.6,3.2 0 1 0 3.2,0a1.6,3.2 0 1 0 -3.2,0M250.1,911.1a1.6,3.2 0 1 0 3.2,0a1.6,3.2 0 1 0 -3.2,0M256.2,915.6a1.6,3.2 0 1 0 3.2,0a1.6,3.2 0 1 0 -3.2,0M262.3,920.0a1.6,3.2 0 1 0 3.2,0a1.6,3.2 0 1 0 -3.2,0M268.5,924.4a1.6,3.2 0 1 0 3.2,0a1.6,3.2 0 1 0 -3.2,0M274.6,928.9a1.6,3.2 0 1 0 3.2,0a1.6,3.2 0 1 0 -3.2,0M280.7,933.3a1.6,3.2 0 1 0 3.2,0a1.6,3.2 0 1 0 -3.2,0M286.9,937.8a1.6,3.2 0 1 0 3.2,0a1.6,3.2 0 1 0 -3.2,0M293.0,942.2a1.6,3.2 0 1 0 3.2,0a1.6,3.2 0 1 0 -3.2,0M299.1,946.6a1.6,3.2 0 1 0 3.2,0a1.6,3.2 0 1 0 -3.2,0M305.3,951.1a1.6,3.2 0 1 0 3.2,0a1.6,3.2 0 1 0 -3.2,0M311.4,955.5a1.6,3.2 0 1 0 3.2,0a1.6,3.2 0 1 0 -3.2,0M194.9,884.6a1.6,3.2 0 1 0 3.2,0a1.6,3.2 0 1 0 -3.2,0M201.0,889.1a1.6,3.2 0 1 0 3.2,0a1.6,3.2 0 1 0 -3.2,0M207.2,893.7a1.6,3.2 0 1 0 3.2,0a1.6,3.2 0 1 0 -3.2,0M213.3,898.2a1.6,3.2 0 1 0 3.2,0a1.6,3.2 0 1 0 -3.2,0M219.4,902.8a1.6,3.2 0 1 0 3.2,0a1.6,3.2 0 1 0 -3.2,0M225.6,907.3a1.6,3.2 0 1 0 3.2,0a1.6,3.2 0 1 0 -3.2,0M231.7,911.9a1.6,3.2 0 1 0 3.2,0a1.6,3.2 0 1 0 -3.2,0M237.8,916.4a1.6,3.2 0 1 0 3.2,0a1.6,3.2 0 1 0 -3.2,0M244.0,921.0a1.6,3.2 0 1 0 3.2,0a1.6,3.2 0 1 0 -3.2,0M250.1,925.5a1.6,3.2 0 1 0 3.2,0a1.6,3.2 0 1 0 -3.2,0M256.2,930.1a1.6,3.2 0 1 0 3.2,0a1.6,3.2 0 1 0 -3.2,0M262.3,934.6a1.6,3.2 0 1 0 3.2,0a1.6,3.2 0 1 0 -3.2,0M268.5,939.2a1.6,3.2 0 1 0 3.2,0a1.6,3.2 0 1 0 -3.2,0M274.6,943.7a1.6,3.2 0 1 0 3.2,0a1.6,3.2 0 1 0 -3.2,0M280.7,948.3a1.6,3.2 0 1 0 3.2,0a1.6,3.2 0 1 0 -3.2,0M286.9,952.8a1.6,3.2 0 1 0 3.2,0a1.6,3.2 0 1 0 -3.2,0M293.0,957.4a1.6,3.2 0 1 0 3.2,0a1.6,3.2 0 1 0 -3.2,0M299.1,961.9a1.6,3.2 0 1 0 3.2,0a1.6,3.2 0 1 0 -3.2,0M305.3,966.5a1.6,3.2 0 1 0 3.2,0a1.6,3.2 0 1 0 -3.2,0M311.4,971.0a1.6,3.2 0 1 0 3.2,0a1.6,3.2 0 1 0 -3.2,0M194.9,897.9a1.6,3.2 0 1 0 3.2,0a1.6,3.2 0 1 0 -3.2,0M201.0,902.6a1.6,3.2 0 1 0 3.2,0a1.6,3.2 0 1 0 -3.2,0M207.2,907.2a1.6,3.2 0 1 0 3.2,0a1.6,3.2 0 1 0 -3.2,0M213.3,911.9a1.6,3.2 0 1 0 3.2,0a1.6,3.2 0 1 0 -3.2,0M219.4,916.6a1.6,3.2 0 1 0 3.2,0a1.6,3.2 0 1 0 -3.2,0M225.6,921.2a1.6,3.2 0 1 0 3.2,0a1.6,3.2 0 1 0 -3.2,0M231.7,925.9a1.6,3.2 0 1 0 3.2,0a1.6,3.2 0 1 0 -3.2,0M237.8,930.6a1.6,3.2 0 1 0 3.2,0a1.6,3.2 0 1 0 -3.2,0M244.0,935.2a1.6,3.2 0 1 0 3.2,0a1.6,3.2 0 1 0 -3.2,0M250.1,939.9a1.6,3.2 0 1 0 3.2,0a1.6,3.2 0 1 0 -3.2,0M256.2,944.5a1.6,3.2 0 1 0 3.2,0a1.6,3.2 0 1 0 -3.2,0M262.3,949.2a1.6,3.2 0 1 0 3.2,0a1.6,3.2 0 1 0 -3.2,0M268.5,953.9a1.6,3.2 0 1 0 3.2,0a1.6,3.2 0 1 0 -3.2,0M274.6,958.5a1.6,3.2 0 1 0 3.2,0a1.6,3.2 0 1 0 -3.2,0M280.7,963.2a1.6,3.2 0 1 0 3.2,0a1.6,3.2 0 1 0 -3.2,0M286.9,967.9a1.6,3.2 0 1 0 3.2,0a1.6,3.2 0 1 0 -3.2,0M293.0,972.5a1.6,3.2 0 1 0 3.2,0a1.6,3.2 0 1 0 -3.2,0M299.1,977.2a1.6,3.2 0 1 0 3.2,0a1.6,3.2 0 1 0 -3.2,0M305.3,981.8a1.6,3.2 0 1 0 3.2,0a1.6,3.2 0 1 0 -3.2,0M311.4,986.5a1.6,3.2 0 1 0 3.2,0a1.6,3.2 0 1 0 -3.2,0M194.9,911.3a1.6,3.2 0 1 0 3.2,0a1.6,3.2 0 1 0 -3.2,0M201.0,916.1a1.6,3.2 0 1 0 3.2,0a1.6,3.2 0 1 0 -3.2,0M207.2,920.8a1.6,3.2 0 1 0 3.2,0a1.6,3.2 0 1 0 -3.2,0M213.3,925.6a1.6,3.2 0 1 0 3.2,0a1.6,3.2 0 1 0 -3.2,0M219.4,930.4a1.6,3.2 0 1 0 3.2,0a1.6,3.2 0 1 0 -3.2,0M225.6,935.2a1.6,3.2 0 1 0 3.2,0a1.6,3.2 0 1 0 -3.2,0M231.7,939.9a1.6,3.2 0 1 0 3.2,0a1.6,3.2 0 1 0 -3.2,0M237.8,944.7a1.6,3.2 0 1 0 3.2,0a1.6,3.2 0 1 0 -3.2,0M244.0,949.5a1.6,3.2 0 1 0 3.2,0a1.6,3.2 0 1 0 -3.2,0M250.1,954.3a1.6,3.2 0 1 0 3.2,0a1.6,3.2 0 1 0 -3.2,0M256.2,959.0a1.6,3.2 0 1 0 3.2,0a1.6,3.2 0 1 0 -3.2,0M262.3,963.8a1.6,3.2 0 1 0 3.2,0a1.6,3.2 0 1 0 -3.2,0M268.5,968.6a1.6,3.2 0 1 0 3.2,0a1.6,3.2 0 1 0 -3.2,0M274.6,973.4a1.6,3.2 0 1 0 3.2,0a1.6,3.2 0 1 0 -3.2,0M280.7,978.1a1.6,3.2 0 1 0 3.2,0a1.6,3.2 0 1 0 -3.2,0M286.9,982.9a1.6,3.2 0 1 0 3.2,0a1.6,3.2 0 1 0 -3.2,0M293.0,987.7a1.6,3.2 0 1 0 3.2,0a1.6,3.2 0 1 0 -3.2,0M299.1,992.5a1.6,3.2 0 1 0 3.2,0a1.6,3.2 0 1 0 -3.2,0M305.3,997.2a1.6,3.2 0 1 0 3.2,0a1.6,3.2 0 1 0 -3.2,0M311.4,1002.0a1.6,3.2 0 1 0 3.2,0a1.6,3.2 0 1 0 -3.2,0M194.9,924.6a1.6,3.2 0 1 0 3.2,0a1.6,3.2 0 1 0 -3.2,0M201.0,929.5a1.6,3.2 0 1 0 3.2,0a1.6,3.2 0 1 0 -3.2,0M207.2,934.4a1.6,3.2 0 1 0 3.2,0a1.6,3.2 0 1 0 -3.2,0M213.3,939.3a1.6,3.2 0 1 0 3.2,0a1.6,3.2 0 1 0 -3.2,0M219.4,944.2a1.6,3.2 0 1 0 3.2,0a1.6,3.2 0 1 0 -3.2,0M225.6,949.1a1.6,3.2 0 1 0 3.2,0a1.6,3.2 0 1 0 -3.2,0M231.7,954.0a1.6,3.2 0 1 0 3.2,0a1.6,3.2 0 1 0 -3.2,0M237.8,958.9a1.6,3.2 0 1 0 3.2,0a1.6,3.2 0 1 0 -3.2,0M244.0,963.7a1.6,3.2 0 1 0 3.2,0a1.6,3.2 0 1 0 -3.2,0M250.1,968.6a1.6,3.2 0 1 0 3.2,0a1.6,3.2 0 1 0 -3.2,0M256.2,973.5a1.6,3.2 0 1 0 3.2,0a1.6,3.2 0 1 0 -3.2,0M262.3,978.4a1.6,3.2 0 1 0 3.2,0a1.6,3.2 0 1 0 -3.2,0M268.5,983.3a1.6,3.2 0 1 0 3.2,0a1.6,3.2 0 1 0 -3.2,0M274.6,988.2a1.6,3.2 0 1 0 3.2,0a1.6,3.2 0 1 0 -3.2,0M280.7,993.1a1.6,3.2 0 1 0 3.2,0a1.6,3.2 0 1 0 -3.2,0M286.9,998.0a1.6,3.2 0 1 0 3.2,0a1.6,3.2 0 1 0 -3.2,0M293.0,1002.8a1.6,3.2 0 1 0 3.2,0a1.6,3.2 0 1 0 -3.2,0M299.1,1007.7a1.6,3.2 0 1 0 3.2,0a1.6,3.2 0 1 0 -3.2,0M305.3,1012.6a1.6,3.2 0 1 0 3.2,0a1.6,3.2 0 1 0 -3.2,0M311.4,1017.5a1.6,3.2 0 1 0 3.2,0a1.6,3.2 0 1 0 -3.2,0M194.9,938.0a1.6,3.2 0 1 0 3.2,0a1.6,3.2 0 1 0 -3.2,0M201.0,943.0a1.6,3.2 0 1 0 3.2,0a1.6,3.2 0 1 0 -3.2,0M207.2,948.0a1.6,3.2 0 1 0 3.2,0a1.6,3.2 0 1 0 -3.2,0M213.3,953.0a1.6,3.2 0 1 0 3.2,0a1.6,3.2 0 1 0 -3.2,0M219.4,958.0a1.6,3.2 0 1 0 3.2,0a1.6,3.2 0 1 0 -3.2,0M225.6,963.0a1.6,3.2 0 1 0 3.2,0a1.6,3.2 0 1 0 -3.2,0M231.7,968.0a1.6,3.2 0 1 0 3.2,0a1.6,3.2 0 1 0 -3.2,0M237.8,973.0a1.6,3.2 0 1 0 3.2,0a1.6,3.2 0 1 0 -3.2,0M244.0,978.0a1.6,3.2 0 1 0 3.2,0a1.6,3.2 0 1 0 -3.2,0M250.1,983.0a1.6,3.2 0 1 0 3.2,0a1.6,3.2 0 1 0 -3.2,0M256.2,988.0a1.6,3.2 0 1 0 3.2,0a1.6,3.2 0 1 0 -3.2,0M262.3,993.0a1.6,3.2 0 1 0 3.2,0a1.6,3.2 0 1 0 -3.2,0M268.5,998.0a1.6,3.2 0 1 0 3.2,0a1.6,3.2 0 1 0 -3.2,0M274.6,1003.0a1.6,3.2 0 1 0 3.2,0a1.6,3.2 0 1 0 -3.2,0M280.7,1008.0a1.6,3.2 0 1 0 3.2,0a1.6,3.2 0 1 0 -3.2,0M286.9,1013.0a1.6,3.2 0 1 0 3.2,0a1.6,3.2 0 1 0 -3.2,0M293.0,1018.0a1.6,3.2 0 1 0 3.2,0a1.6,3.2 0 1 0 -3.2,0M299.1,1023.0a1.6,3.2 0 1 0 3.2,0a1.6,3.2 0 1 0 -3.2,0M305.3,1028.0a1.6,3.2 0 1 0 3.2,0a1.6,3.2 0 1 0 -3.2,0M311.4,1033.0a1.6,3.2 0 1 0 3.2,0a1.6,3.2 0 1 0 -3.2,0"/>
<ellipse cx="193" cy="973" rx="9" ry="4" fill="#262626"/>
<ellipse cx="349" cy="1085" rx="14" ry="5" fill="#262626"/>
<ellipse cx="646" cy="1020" rx="14" ry="5" fill="#262626"/>
<circle cx="518" cy="486" r="8" fill="#d8d8d8"/><circle cx="518" cy="486" r="5.5" fill="#505050"/><circle cx="518" cy="486" r="2.5" fill="#cfcfcf"/>
<g fill="#e6e6e6"><path d="M491,351 C494,347 500,347 503,350 C500,355 495,356 491,351 Z"/></g>
<g fill="#e8e8e8"><path d="M504.5,347.5 L510.5,357 L508.5,357 L505.5,352 L502.5,357 L500.5,357 Z"/><path d="M510,347.5 L511.8,347.5 L511.8,355.3 L517,355.3 L517,357 L510,357 Z"/><path fill-rule="evenodd" d="M518,347.5 L525,347.5 C527.5,347.5 528,349.5 528,351 C528,352.5 527.5,354.5 525,354.5 L519.8,354.5 L519.8,357 L518,357 Z M519.8,349.2 L524.5,349.2 C526,349.2 526.2,350.2 526.2,351 C526.2,351.8 526,352.8 524.5,352.8 L519.8,352.8 Z"/><rect x="529" y="347.5" width="1.8" height="9.5"/><path d="M532,347.5 L533.8,347.5 L538,353.5 L538,347.5 L539.8,347.5 L539.8,357 L538,357 L533.8,351 L533.8,357 L532,357 Z"/><path d="M541,347.5 L549,347.5 L549,349.2 L541,349.2 Z M541.5,351.5 L549,351.5 L549,353 L541.5,353 Z M541,355.3 L549,355.3 L549,357 L541,357 Z"/></g>
</g>
<clipPath id="c3"><circle cx="1153.5" cy="590" r="222.5"/></clipPath>
<g clip-path="url(#c3)">
<rect x="920" y="360" width="470" height="470" fill="#ffffff"/>
<path fill="#0d0d0d" d="M900,330 L1081,330 L1081,384 L1094,499 L1106,500 L1260,564 L1255,668 L1050,730 L955,683 L900,660 Z"/>
<path fill="#ffffff" d="M1040,405 L1056,405 L1068,506 L1050,508 Z"/>
<path fill="#3a3a3a" d="M1033,402 L1040,405 L1050,508 L1043,510 Z"/>
<path fill="#2c2c2c" d="M1068,384 L1072,384 L1085,500 L1081,500 Z"/>
<path fill="#040404" d="M937,535 L1106,500 L1262,563 L1045.6,610.7 Z"/>
<path fill="#0d0d0d" d="M960,540 L1100,510 L1104,516 L966,546 Z"/>
<path fill="#101010" d="M1035,545 L1065,540 L1066,544 L1036,549 Z M1130,556 L1150,562 L1150,567 L1130,561 Z"/>
<path fill="none" stroke="#4a4a4a" stroke-width="1.6" d="M937,535 L1106,500 L1262,563"/>
<path fill="none" stroke="#6a6a6a" stroke-width="1.8" d="M937.5,552 L1045.6,610.7 L1258,565.4"/>
<path fill="url(#bucketL)" d="M936,548 L1045.6,610.7 L1050.7,745 L955,695 L936,680 Z"/>
<path fill="url(#bucketF)" d="M1045.6,610.7 L1258,565.4 L1258,680 L1050.7,745 Z"/>
<path fill="#222" stroke="#0c0c0c" stroke-width="3" d="M1090,635 C1090,628 1094,626 1100,625 L1130,620 L1132,716 L1090,727 Z"/>
<path fill="#222" stroke="#0c0c0c" stroke-width="3" d="M1181,610 C1181,606 1185,604 1190,603 L1219,598 L1219,688 L1181,697 Z"/>
<path fill="#1c1c1c" stroke="#0c0c0c" stroke-width="3" d="M951,592 L973,602 L975,690 L953,680 Z"/>
<path fill="#1c1c1c" stroke="#0c0c0c" stroke-width="3" d="M1005,619 L1025.5,630 L1028,722 L1007,712 Z"/>
<g stroke="#72c447" stroke-width="5.5" fill="none" stroke-linecap="round" stroke-linejoin="round"><path d="M1157.5,682 L1157.5,611"/><path d="M1141,628 L1157.5,610 L1174,628"/></g>
<path fill="#111111" d="M936,672 L955,683.6 L1050.7,731.3 L1272,666 L1272,830 L920,830 Z"/>
<path fill="none" stroke="#3c3c3c" stroke-width="1.5" d="M955,690 L1050.7,737 L1272,672"/>
<path fill="none" stroke="#2a2a2a" stroke-width="1.5" d="M1050.7,731 L1050.7,830"/>
<path fill="#c4c4c4" d="M1074.5,738.9 L1255.5,688.6 L1255.5,830 L1074.5,830 Z"/>
<path fill="#b9b9b9" d="M962.7,698.6 L1031.8,732.6 L1031.8,770.3 L962.7,740 Z"/>
<path fill="#141414" d="M1082.0,752.0a2,2 0 1 0 4,0a2,2 0 1 0 -4,0M1091.0,749.6a2,2 0 1 0 4,0a2,2 0 1 0 -4,0M1100.0,747.1a2,2 0 1 0 4,0a2,2 0 1 0 -4,0M1109.0,744.7a2,2 0 1 0 4,0a2,2 0 1 0 -4,0M1118.0,742.2a2,2 0 1 0 4,0a2,2 0 1 0 -4,0M1127.0,739.8a2,2 0 1 0 4,0a2,2 0 1 0 -4,0M1136.0,737.3a2,2 0 1 0 4,0a2,2 0 1 0 -4,0M1145.0,734.9a2,2 0 1 0 4,0a2,2 0 1 0 -4,0M1154.0,732.4a2,2 0 1 0 4,0a2,2 0 1 0 -4,0M1163.0,730.0a2,2 0 1 0 4,0a2,2 0 1 0 -4,0M1172.0,727.6a2,2 0 1 0 4,0a2,2 0 1 0 -4,0M1181.0,725.1a2,2 0 1 0 4,0a2,2 0 1 0 -4,0M1190.0,722.7a2,2 0 1 0 4,0a2,2 0 1 0 -4,0M1199.0,720.2a2,2 0 1 0 4,0a2,2 0 1 0 -4,0M1208.0,717.8a2,2 0 1 0 4,0a2,2 0 1 0 -4,0M1217.0,715.3a2,2 0 1 0 4,0a2,2 0 1 0 -4,0M1226.0,712.9a2,2 0 1 0 4,0a2,2 0 1 0 -4,0M1235.0,710.4a2,2 0 1 0 4,0a2,2 0 1 0 -4,0M1244.0,708.0a2,2 0 1 0 4,0a2,2 0 1 0 -4,0M1082.0,762.0a2,2 0 1 0 4,0a2,2 0 1 0 -4,0M1091.0,759.6a2,2 0 1 0 4,0a2,2 0 1 0 -4,0M1100.0,757.1a2,2 0 1 0 4,0a2,2 0 1 0 -4,0M1109.0,754.7a2,2 0 1 0 4,0a2,2 0 1 0 -4,0M1118.0,752.2a2,2 0 1 0 4,0a2,2 0 1 0 -4,0M1127.0,749.8a2,2 0 1 0 4,0a2,2 0 1 0 -4,0M1136.0,747.3a2,2 0 1 0 4,0a2,2 0 1 0 -4,0M1145.0,744.9a2,2 0 1 0 4,0a2,2 0 1 0 -4,0M1154.0,742.4a2,2 0 1 0 4,0a2,2 0 1 0 -4,0M1163.0,740.0a2,2 0 1 0 4,0a2,2 0 1 0 -4,0M1172.0,737.6a2,2 0 1 0 4,0a2,2 0 1 0 -4,0M1181.0,735.1a2,2 0 1 0 4,0a2,2 0 1 0 -4,0M1190.0,732.7a2,2 0 1 0 4,0a2,2 0 1 0 -4,0M1199.0,730.2a2,2 0 1 0 4,0a2,2 0 1 0 -4,0M1208.0,727.8a2,2 0 1 0 4,0a2,2 0 1 0 -4,0M1217.0,725.3a2,2 0 1 0 4,0a2,2 0 1 0 -4,0M1226.0,722.9a2,2 0 1 0 4,0a2,2 0 1 0 -4,0M1235.0,720.4a2,2 0 1 0 4,0a2,2 0 1 0 -4,0M1244.0,718.0a2,2 0 1 0 4,0a2,2 0 1 0 -4,0M1082.0,772.0a2,2 0 1 0 4,0a2,2 0 1 0 -4,0M1091.0,769.6a2,2 0 1 0 4,0a2,2 0 1 0 -4,0M1100.0,767.1a2,2 0 1 0 4,0a2,2 0 1 0 -4,0M1109.0,764.7a2,2 0 1 0 4,0a2,2 0 1 0 -4,0M1118.0,762.2a2,2 0 1 0 4,0a2,2 0 1 0 -4,0M1127.0,759.8a2,2 0 1 0 4,0a2,2 0 1 0 -4,0M1136.0,757.3a2,2 0 1 0 4,0a2,2 0 1 0 -4,0M1145.0,754.9a2,2 0 1 0 4,0a2,2 0 1 0 -4,0M1154.0,752.4a2,2 0 1 0 4,0a2,2 0 1 0 -4,0M1163.0,750.0a2,2 0 1 0 4,0a2,2 0 1 0 -4,0M1172.0,747.6a2,2 0 1 0 4,0a2,2 0 1 0 -4,0M1181.0,745.1a2,2 0 1 0 4,0a2,2 0 1 0 -4,0M1190.0,742.7a2,2 0 1 0 4,0a2,2 0 1 0 -4,0M1199.0,740.2a2,2 0 1 0 4,0a2,2 0 1 0 -4,0M1208.0,737.8a2,2 0 1 0 4,0a2,2 0 1 0 -4,0M1217.0,735.3a2,2 0 1 0 4,0a2,2 0 1 0 -4,0M1226.0,732.9a2,2 0 1 0 4,0a2,2 0 1 0 -4,0M1235.0,730.4a2,2 0 1 0 4,0a2,2 0 1 0 -4,0M1244.0,728.0a2,2 0 1 0 4,0a2,2 0 1 0 -4,0M1082.0,782.0a2,2 0 1 0 4,0a2,2 0 1 0 -4,0M1091.0,779.6a2,2 0 1 0 4,0a2,2 0 1 0 -4,0M1100.0,777.1a2,2 0 1 0 4,0a2,2 0 1 0 -4,0M1109.0,774.7a2,2 0 1 0 4,0a2,2 0 1 0 -4,0M1118.0,772.2a2,2 0 1 0 4,0a2,2 0 1 0 -4,0M1127.0,769.8a2,2 0 1 0 4,0a2,2 0 1 0 -4,0M1136.0,767.3a2,2 0 1 0 4,0a2,2 0 1 0 -4,0M1145.0,764.9a2,2 0 1 0 4,0a2,2 0 1 0 -4,0M1154.0,762.4a2,2 0 1 0 4,0a2,2 0 1 0 -4,0M1163.0,760.0a2,2 0 1 0 4,0a2,2 0 1 0 -4,0M1172.0,757.6a2,2 0 1 0 4,0a2,2 0 1 0 -4,0M1181.0,755.1a2,2 0 1 0 4,0a2,2 0 1 0 -4,0M1190.0,752.7a2,2 0 1 0 4,0a2,2 0 1 0 -4,0M1199.0,750.2a2,2 0 1 0 4,0a2,2 0 1 0 -4,0M1208.0,747.8a2,2 0 1 0 4,0a2,2 0 1 0 -4,0M1217.0,745.3a2,2 0 1 0 4,0a2,2 0 1 0 -4,0M1226.0,742.9a2,2 0 1 0 4,0a2,2 0 1 0 -4,0M1235.0,740.4a2,2 0 1 0 4,0a2,2 0 1 0 -4,0M1244.0,738.0a2,2 0 1 0 4,0a2,2 0 1 0 -4,0M1082.0,792.0a2,2 0 1 0 4,0a2,2 0 1 0 -4,0M1091.0,789.6a2,2 0 1 0 4,0a2,2 0 1 0 -4,0M1100.0,787.1a2,2 0 1 0 4,0a2,2 0 1 0 -4,0M1109.0,784.7a2,2 0 1 0 4,0a2,2 0 1 0 -4,0M1118.0,782.2a2,2 0 1 0 4,0a2,2 0 1 0 -4,0M1127.0,779.8a2,2 0 1 0 4,0a2,2 0 1 0 -4,0M1136.0,777.3a2,2 0 1 0 4,0a2,2 0 1 0 -4,0M1145.0,774.9a2,2 0 1 0 4,0a2,2 0 1 0 -4,0M1154.0,772.4a2,2 0 1 0 4,0a2,2 0 1 0 -4,0M1163.0,770.0a2,2 0 1 0 4,0a2,2 0 1 0 -4,0M1172.0,767.6a2,2 0 1 0 4,0a2,2 0 1 0 -4,0M1181.0,765.1a2,2 0 1 0 4,0a2,2 0 1 0 -4,0M1190.0,762.7a2,2 0 1 0 4,0a2,2 0 1 0 -4,0M1199.0,760.2a2,2 0 1 0 4,0a2,2 0 1 0 -4,0M1208.0,757.8a2,2 0 1 0 4,0a2,2 0 1 0 -4,0M1217.0,755.3a2,2 0 1 0 4,0a2,2 0 1 0 -4,0M1226.0,752.9a2,2 0 1 0 4,0a2,2 0 1 0 -4,0M1235.0,750.4a2,2 0 1 0 4,0a2,2 0 1 0 -4,0M1244.0,748.0a2,2 0 1 0 4,0a2,2 0 1 0 -4,0M1082.0,802.0a2,2 0 1 0 4,0a2,2 0 1 0 -4,0M1091.0,799.6a2,2 0 1 0 4,0a2,2 0 1 0 -4,0M1100.0,797.1a2,2 0 1 0 4,0a2,2 0 1 0 -4,0M1109.0,794.7a2,2 0 1 0 4,0a2,2 0 1 0 -4,0M1118.0,792.2a2,2 0 1 0 4,0a2,2 0 1 0 -4,0M1127.0,789.8a2,2 0 1 0 4,0a2,2 0 1 0 -4,0M1136.0,787.3a2,2 0 1 0 4,0a2,2 0 1 0 -4,0M1145.0,784.9a2,2 0 1 0 4,0a2,2 0 1 0 -4,0M1154.0,782.4a2,2 0 1 0 4,0a2,2 0 1 0 -4,0M1163.0,780.0a2,2 0 1 0 4,0a2,2 0 1 0 -4,0M1172.0,777.6a2,2 0 1 0 4,0a2,2 0 1 0 -4,0M1181.0,775.1a2,2 0 1 0 4,0a2,2 0 1 0 -4,0M1190.0,772.7a2,2 0 1 0 4,0a2,2 0 1 0 -4,0M1199.0,770.2a2,2 0 1 0 4,0a2,2 0 1 0 -4,0M1208.0,767.8a2,2 0 1 0 4,0a2,2 0 1 0 -4,0M1217.0,765.3a2,2 0 1 0 4,0a2,2 0 1 0 -4,0M1226.0,762.9a2,2 0 1 0 4,0a2,2 0 1 0 -4,0M1235.0,760.4a2,2 0 1 0 4,0a2,2 0 1 0 -4,0M1244.0,758.0a2,2 0 1 0 4,0a2,2 0 1 0 -4,0M1082.0,812.0a2,2 0 1 0 4,0a2,2 0 1 0 -4,0M1091.0,809.6a2,2 0 1 0 4,0a2,2 0 1 0 -4,0M1100.0,807.1a2,2 0 1 0 4,0a2,2 0 1 0 -4,0M1109.0,804.7a2,2 0 1 0 4,0a2,2 0 1 0 -4,0M1118.0,802.2a2,2 0 1 0 4,0a2,2 0 1 0 -4,0M1127.0,799.8a2,2 0 1 0 4,0a2,2 0 1 0 -4,0M1136.0,797.3a2,2 0 1 0 4,0a2,2 0 1 0 -4,0M1145.0,794.9a2,2 0 1 0 4,0a2,2 0 1 0 -4,0M1154.0,792.4a2,2 0 1 0 4,0a2,2 0 1 0 -4,0M1163.0,790.0a2,2 0 1 0 4,0a2,2 0 1 0 -4,0M1172.0,787.6a2,2 0 1 0 4,0a2,2 0 1 0 -4,0M1181.0,785.1a2,2 0 1 0 4,0a2,2 0 1 0 -4,0M1190.0,782.7a2,2 0 1 0 4,0a2,2 0 1 0 -4,0M1199.0,780.2a2,2 0 1 0 4,0a2,2 0 1 0 -4,0M1208.0,777.8a2,2 0 1 0 4,0a2,2 0 1 0 -4,0M1217.0,775.3a2,2 0 1 0 4,0a2,2 0 1 0 -4,0M1226.0,772.9a2,2 0 1 0 4,0a2,2 0 1 0 -4,0M1235.0,770.4a2,2 0 1 0 4,0a2,2 0 1 0 -4,0M1244.0,768.0a2,2 0 1 0 4,0a2,2 0 1 0 -4,0M1082.0,822.0a2,2 0 1 0 4,0a2,2 0 1 0 -4,0M1091.0,819.6a2,2 0 1 0 4,0a2,2 0 1 0 -4,0M1100.0,817.1a2,2 0 1 0 4,0a2,2 0 1 0 -4,0M1109.0,814.7a2,2 0 1 0 4,0a2,2 0 1 0 -4,0M1118.0,812.2a2,2 0 1 0 4,0a2,2 0 1 0 -4,0M1127.0,809.8a2,2 0 1 0 4,0a2,2 0 1 0 -4,0M1136.0,807.3a2,2 0 1 0 4,0a2,2 0 1 0 -4,0M1145.0,804.9a2,2 0 1 0 4,0a2,2 0 1 0 -4,0M1154.0,802.4a2,2 0 1 0 4,0a2,2 0 1 0 -4,0M1163.0,800.0a2,2 0 1 0 4,0a2,2 0 1 0 -4,0M1172.0,797.6a2,2 0 1 0 4,0a2,2 0 1 0 -4,0M1181.0,795.1a2,2 0 1 0 4,0a2,2 0 1 0 -4,0M1190.0,792.7a2,2 0 1 0 4,0a2,2 0 1 0 -4,0M1199.0,790.2a2,2 0 1 0 4,0a2,2 0 1 0 -4,0M1208.0,787.8a2,2 0 1 0 4,0a2,2 0 1 0 -4,0M1217.0,785.3a2,2 0 1 0 4,0a2,2 0 1 0 -4,0M1226.0,782.9a2,2 0 1 0 4,0a2,2 0 1 0 -4,0M1235.0,780.4a2,2 0 1 0 4,0a2,2 0 1 0 -4,0M1244.0,778.0a2,2 0 1 0 4,0a2,2 0 1 0 -4,0M1082.0,832.0a2,2 0 1 0 4,0a2,2 0 1 0 -4,0M1091.0,829.6a2,2 0 1 0 4,0a2,2 0 1 0 -4,0M1100.0,827.1a2,2 0 1 0 4,0a2,2 0 1 0 -4,0M1109.0,824.7a2,2 0 1 0 4,0a2,2 0 1 0 -4,0M1118.0,822.2a2,2 0 1 0 4,0a2,2 0 1 0 -4,0M1127.0,819.8a2,2 0 1 0 4,0a2,2 0 1 0 -4,0M1136.0,817.3a2,2 0 1 0 4,0a2,2 0 1 0 -4,0M1145.0,814.9a2,2 0 1 0 4,0a2,2 0 1 0 -4,0M1154.0,812.4a2,2 0 1 0 4,0a2,2 0 1 0 -4,0M1163.0,810.0a2,2 0 1 0 4,0a2,2 0 1 0 -4,0M1172.0,807.6a2,2 0 1 0 4,0a2,2 0 1 0 -4,0M1181.0,805.1a2,2 0 1 0 4,0a2,2 0 1 0 -4,0M1190.0,802.7a2,2 0 1 0 4,0a2,2 0 1 0 -4,0M1199.0,800.2a2,2 0 1 0 4,0a2,2 0 1 0 -4,0M1208.0,797.8a2,2 0 1 0 4,0a2,2 0 1 0 -4,0M1217.0,795.3a2,2 0 1 0 4,0a2,2 0 1 0 -4,0M1226.0,792.9a2,2 0 1 0 4,0a2,2 0 1 0 -4,0M1235.0,790.4a2,2 0 1 0 4,0a2,2 0 1 0 -4,0M1244.0,788.0a2,2 0 1 0 4,0a2,2 0 1 0 -4,0M1082.0,842.0a2,2 0 1 0 4,0a2,2 0 1 0 -4,0M1091.0,839.6a2,2 0 1 0 4,0a2,2 0 1 0 -4,0M1100.0,837.1a2,2 0 1 0 4,0a2,2 0 1 0 -4,0M1109.0,834.7a2,2 0 1 0 4,0a2,2 0 1 0 -4,0M1118.0,832.2a2,2 0 1 0 4,0a2,2 0 1 0 -4,0M1127.0,829.8a2,2 0 1 0 4,0a2,2 0 1 0 -4,0M1136.0,827.3a2,2 0 1 0 4,0a2,2 0 1 0 -4,0M1145.0,824.9a2,2 0 1 0 4,0a2,2 0 1 0 -4,0M1154.0,822.4a2,2 0 1 0 4,0a2,2 0 1 0 -4,0M1163.0,820.0a2,2 0 1 0 4,0a2,2 0 1 0 -4,0M1172.0,817.6a2,2 0 1 0 4,0a2,2 0 1 0 -4,0M1181.0,815.1a2,2 0 1 0 4,0a2,2 0 1 0 -4,0M1190.0,812.7a2,2 0 1 0 4,0a2,2 0 1 0 -4,0M1199.0,810.2a2,2 0 1 0 4,0a2,2 0 1 0 -4,0M1208.0,807.8a2,2 0 1 0 4,0a2,2 0 1 0 -4,0M1217.0,805.3a2,2 0 1 0 4,0a2,2 0 1 0 -4,0M1226.0,802.9a2,2 0 1 0 4,0a2,2 0 1 0 -4,0M1235.0,800.4a2,2 0 1 0 4,0a2,2 0 1 0 -4,0M1244.0,798.0a2,2 0 1 0 4,0a2,2 0 1 0 -4,0M1082.0,852.0a2,2 0 1 0 4,0a2,2 0 1 0 -4,0M1091.0,849.6a2,2 0 1 0 4,0a2,2 0 1 0 -4,0M1100.0,847.1a2,2 0 1 0 4,0a2,2 0 1 0 -4,0M1109.0,844.7a2,2 0 1 0 4,0a2,2 0 1 0 -4,0M1118.0,842.2a2,2 0 1 0 4,0a2,2 0 1 0 -4,0M1127.0,839.8a2,2 0 1 0 4,0a2,2 0 1 0 -4,0M1136.0,837.3a2,2 0 1 0 4,0a2,2 0 1 0 -4,0M1145.0,834.9a2,2 0 1 0 4,0a2,2 0 1 0 -4,0M1154.0,832.4a2,2 0 1 0 4,0a2,2 0 1 0 -4,0M1163.0,830.0a2,2 0 1 0 4,0a2,2 0 1 0 -4,0M1172.0,827.6a2,2 0 1 0 4,0a2,2 0 1 0 -4,0M1181.0,825.1a2,2 0 1 0 4,0a2,2 0 1 0 -4,0M1190.0,822.7a2,2 0 1 0 4,0a2,2 0 1 0 -4,0M1199.0,820.2a2,2 0 1 0 4,0a2,2 0 1 0 -4,0M1208.0,817.8a2,2 0 1 0 4,0a2,2 0 1 0 -4,0M1217.0,815.3a2,2 0 1 0 4,0a2,2 0 1 0 -4,0M1226.0,812.9a2,2 0 1 0 4,0a2,2 0 1 0 -4,0M1235.0,810.4a2,2 0 1 0 4,0a2,2 0 1 0 -4,0M1244.0,808.0a2,2 0 1 0 4,0a2,2 0 1 0 -4,0M1082.0,862.0a2,2 0 1 0 4,0a2,2 0 1 0 -4,0M1091.0,859.6a2,2 0 1 0 4,0a2,2 0 1 0 -4,0M1100.0,857.1a2,2 0 1 0 4,0a2,2 0 1 0 -4,0M1109.0,854.7a2,2 0 1 0 4,0a2,2 0 1 0 -4,0M1118.0,852.2a2,2 0 1 0 4,0a2,2 0 1 0 -4,0M1127.0,849.8a2,2 0 1 0 4,0a2,2 0 1 0 -4,0M1136.0,847.3a2,2 0 1 0 4,0a2,2 0 1 0 -4,0M1145.0,844.9a2,2 0 1 0 4,0a2,2 0 1 0 -4,0M1154.0,842.4a2,2 0 1 0 4,0a2,2 0 1 0 -4,0M1163.0,840.0a2,2 0 1 0 4,0a2,2 0 1 0 -4,0M1172.0,837.6a2,2 0 1 0 4,0a2,2 0 1 0 -4,0M1181.0,835.1a2,2 0 1 0 4,0a2,2 0 1 0 -4,0M1190.0,832.7a2,2 0 1 0 4,0a2,2 0 1 0 -4,0M1199.0,830.2a2,2 0 1 0 4,0a2,2 0 1 0 -4,0M1208.0,827.8a2,2 0 1 0 4,0a2,2 0 1 0 -4,0M1217.0,825.3a2,2 0 1 0 4,0a2,2 0 1 0 -4,0M1226.0,822.9a2,2 0 1 0 4,0a2,2 0 1 0 -4,0M1235.0,820.4a2,2 0 1 0 4,0a2,2 0 1 0 -4,0M1244.0,818.0a2,2 0 1 0 4,0a2,2 0 1 0 -4,0"/>
<path fill="#141414" d="M966.6,712.0a1.4,2.2 0 1 0 2.8,0a1.4,2.2 0 1 0 -2.8,0M976.3,716.8a1.4,2.2 0 1 0 2.8,0a1.4,2.2 0 1 0 -2.8,0M985.9,721.7a1.4,2.2 0 1 0 2.8,0a1.4,2.2 0 1 0 -2.8,0M995.6,726.5a1.4,2.2 0 1 0 2.8,0a1.4,2.2 0 1 0 -2.8,0M1005.3,731.3a1.4,2.2 0 1 0 2.8,0a1.4,2.2 0 1 0 -2.8,0M1014.9,736.2a1.4,2.2 0 1 0 2.8,0a1.4,2.2 0 1 0 -2.8,0M1024.6,741.0a1.4,2.2 0 1 0 2.8,0a1.4,2.2 0 1 0 -2.8,0M966.6,723.5a1.4,2.2 0 1 0 2.8,0a1.4,2.2 0 1 0 -2.8,0M976.3,728.3a1.4,2.2 0 1 0 2.8,0a1.4,2.2 0 1 0 -2.8,0M985.9,733.2a1.4,2.2 0 1 0 2.8,0a1.4,2.2 0 1 0 -2.8,0M995.6,738.0a1.4,2.2 0 1 0 2.8,0a1.4,2.2 0 1 0 -2.8,0M1005.3,742.8a1.4,2.2 0 1 0 2.8,0a1.4,2.2 0 1 0 -2.8,0M1014.9,747.7a1.4,2.2 0 1 0 2.8,0a1.4,2.2 0 1 0 -2.8,0M1024.6,752.5a1.4,2.2 0 1 0 2.8,0a1.4,2.2 0 1 0 -2.8,0M966.6,735.0a1.4,2.2 0 1 0 2.8,0a1.4,2.2 0 1 0 -2.8,0M976.3,739.8a1.4,2.2 0 1 0 2.8,0a1.4,2.2 0 1 0 -2.8,0M985.9,744.7a1.4,2.2 0 1 0 2.8,0a1.4,2.2 0 1 0 -2.8,0M995.6,749.5a1.4,2.2 0 1 0 2.8,0a1.4,2.2 0 1 0 -2.8,0M1005.3,754.3a1.4,2.2 0 1 0 2.8,0a1.4,2.2 0 1 0 -2.8,0M1014.9,759.2a1.4,2.2 0 1 0 2.8,0a1.4,2.2 0 1 0 -2.8,0M1024.6,764.0a1.4,2.2 0 1 0 2.8,0a1.4,2.2 0 1 0 -2.8,0"/>
</g>
<circle cx="1153.5" cy="590" r="222.5" fill="none" stroke="#080808" stroke-width="6"/>
<clipPath id="c2"><circle cx="1304.5" cy="405.5" r="122"/></clipPath>
<g clip-path="url(#c2)">
<rect x="1170" y="270" width="270" height="270" fill="#0b0b0b"/>
<path fill="#ffffff" d="M1170,449 L1268.8,460 L1269,470 L1269,545 L1170,545 Z"/>
<path fill="#3a3a3a" d="M1170,417.6 L1251.7,417.6 L1268.8,461 L1170,450 Z"/>
<path fill="#484848" d="M1241.4,303.4 L1268.8,461 L1251.7,417.6 L1241.4,305 Z"/>
<path fill="#6a6a6a" d="M1228.8,305.7 L1241.4,303.4 L1251.7,417.6 L1170,417.6 L1170,406 L1240,406 Z"/>
<path fill="none" stroke="#dddddd" stroke-width="1.3" d="M1241.4,303.4 L1268.8,461"/>
<path fill="none" stroke="#8a8a8a" stroke-width="1" d="M1170,406 L1240,406 L1228.8,305.7"/>
<path fill="#1c1c1c" d="M1244,300 L1262,296 L1278,462 L1269,461 Z"/>
<path fill="none" stroke="#3a3a3a" stroke-width="2.5" d="M1313,383 L1430,362"/>
<path fill="#161616" d="M1271,446 L1430,414 L1430,432 L1276,462 Z"/>
<path fill="none" stroke="#4a4a4a" stroke-width="1.5" d="M1271,445 L1430,413"/>
<path fill="#222" d="M1320,452 C1340,440 1380,432 1430,425 L1430,470 L1360,490 Z"/>
<path fill="none" stroke="#666" stroke-width="1.5" d="M1325,450 C1345,440 1380,434 1430,426"/>
<path fill="#121212" d="M1269,468 L1300,458 L1430,520 L1430,545 L1269,545 Z"/>
<path fill="none" stroke="#3c3c3c" stroke-width="1.5" d="M1272,468 L1300,459 L1420,515"/>
<path fill="#a8a8a8" d="M1289,503 L1312,497 L1345,532 L1345,545 L1289,545 Z"/>
<g fill="none" stroke="#f2f2f2">
<rect x="-4" y="-15.5" width="8" height="31.0" rx="3.5" stroke-width="2.2" transform="translate(1266.8,307.6) rotate(-20.6)"/>
<rect x="-1.3" y="-16.5" width="2.6" height="33.0" rx="1.3" stroke-width="1.6" fill="#ddd" transform="translate(1276.2,332.9) rotate(-20.6)"/>
<rect x="-4" y="-15.5" width="8" height="31.0" rx="3.5" stroke-width="2.2" transform="translate(1285.8,358.1) rotate(-20.6)"/>
<rect x="-1.3" y="-16.5" width="2.6" height="33.0" rx="1.3" stroke-width="1.6" fill="#ddd" transform="translate(1295.2,383.4) rotate(-20.6)"/>
<rect x="-4" y="-15.5" width="8" height="31.0" rx="3.5" stroke-width="2.2" transform="translate(1304.8,408.6) rotate(-20.6)"/>
<rect x="-1.3" y="-16.5" width="2.6" height="33.0" rx="1.3" stroke-width="1.6" fill="#ddd" transform="translate(1314.2,433.9) rotate(-20.6)"/>
<rect x="-4" y="-15.5" width="8" height="31.0" rx="3.5" stroke-width="2.2" transform="translate(1323.8,459.1) rotate(-20.6)"/>
<rect x="-1.3" y="-16.5" width="2.6" height="33.0" rx="1.3" stroke-width="1.6" fill="#ddd" transform="translate(1333.2,484.4) rotate(-20.6)"/>
</g>
</g>
<circle cx="1304.5" cy="405.5" r="122" fill="none" stroke="#080808" stroke-width="6"/>
<clipPath id="c1"><circle cx="750" cy="282" r="165"/></clipPath>
<g clip-path="url(#c1)">
<rect x="580" y="110" width="340" height="345" fill="#ffffff"/>
<path fill="url(#lidg)" d="M570,236 L596,228 C650,212 705,194 745,188 C785,194 850,212 903,228 L930,238 L930,460 L570,460 Z"/>
<ellipse cx="760" cy="440" rx="150" ry="80" fill="url(#glow1)"/>
<ellipse cx="752" cy="280" rx="80.5" ry="40.5" fill="#0e0e0e"/>
<ellipse cx="752" cy="280" rx="79" ry="39" fill="url(#rimg)"/>
<ellipse cx="752" cy="282" rx="73" ry="34" fill="#2c2c2c"/>
<path fill="#555" d="M705,258 C712,252 722,249 744,247 L744,272 C730,276 718,282 708,290 C700,280 700,266 705,258 Z"/>
<path fill="#1c1c1c" d="M744,247 L776,248 L775,265 C765,266 752,268 744,272 Z"/>
<path fill="#f0f0f0" d="M776.4,249.2 L804,257.6 L798,272 L775,264.8 Z"/>
<path fill="#3a3a3a" d="M804,258 C815,264 822,270 824,280 L812,292 C808,284 803,276 798,272 Z"/>
<ellipse cx="752" cy="292" rx="51" ry="23" fill="#dedede"/>
<ellipse cx="752" cy="301" rx="32" ry="15" fill="#6c6c6c" stroke="#a8a8a8" stroke-width="1.5"/>
</g>
<circle cx="750" cy="282" r="165" fill="none" stroke="#080808" stroke-width="6"/>
<g>
  <circle cx="1030" cy="962" r="108" fill="#ffffff" stroke="#1d3a57" stroke-width="5.5"/>
  <circle cx="1030" cy="962" r="92" fill="none" stroke="#1d3a57" stroke-width="6"/>
  <rect x="922" y="941" width="218" height="46.5" fill="#1d3a57"/>
  <text x="937" y="974" font-size="25" font-weight="bold" fill="#ffffff" stroke="#ffffff" stroke-width="1.1" textLength="185" lengthAdjust="spacingAndGlyphs">HIGH QUALITY</text>
  <path fill="#1d3a57" d="M1009.7,879 L1048.7,879 L1047,900 C1045,914 1038,921 1033,924 L1033,930 C1040,931 1044,936 1044,941 L1014,941 C1014,936 1018,931 1025,930 L1025,924 C1020,921 1013,914 1011,900 Z"/>
  <path fill="none" stroke="#1d3a57" stroke-width="3.2" d="M1010,884 L1000,884 L1000,898 C1001,906 1008,912 1016,915 M1048,884 L1058,884 L1058,898 C1057,906 1050,912 1042,915"/>
  <path fill="#ffffff" d="M1029.0,884.5 L1032.1,892.7 L1040.9,893.1 L1034.0,898.6 L1036.3,907.1 L1029.0,902.3 L1021.7,907.1 L1024.0,898.6 L1017.1,893.1 L1025.9,892.7 Z"/>
  <path fill="#1d3a57" d="M975.4,904.1 L977.6,911.4 L983.1,906.2 L981.4,913.6 L988.8,911.9 L983.6,917.4 L990.9,919.6 L983.6,921.8 L988.8,927.4 L981.4,925.6 L983.1,933.0 L977.6,927.8 L975.4,935.1 L973.2,927.8 L967.6,933.0 L969.4,925.6 L962.0,927.4 L967.2,921.8 L959.9,919.6 L967.2,917.4 L962.0,911.9 L969.4,913.6 L967.6,906.2 L973.2,911.4 Z"/>
  <path fill="#1d3a57" d="M1082.8,904.1 L1085.0,911.4 L1090.5,906.2 L1088.8,913.6 L1096.2,911.9 L1091.0,917.4 L1098.3,919.6 L1091.0,921.8 L1096.2,927.4 L1088.8,925.6 L1090.5,933.0 L1085.0,927.8 L1082.8,935.1 L1080.6,927.8 L1075.0,933.0 L1076.8,925.6 L1069.4,927.4 L1074.6,921.8 L1067.3,919.6 L1074.6,917.4 L1069.4,911.9 L1076.8,913.6 L1075.0,906.2 L1080.6,911.4 Z"/>
  <path fill="#1d3a57" d="M964.0,990.0 L966.9,998.0 L975.4,998.3 L968.8,1003.5 L971.1,1011.7 L964.0,1007.0 L956.9,1011.7 L959.2,1003.5 L952.6,998.3 L961.1,998.0 Z"/>
  <path fill="#1d3a57" d="M991.0,1002.5 L994.5,1012.1 L1004.8,1012.5 L996.7,1018.9 L999.5,1028.7 L991.0,1023.0 L982.5,1028.7 L985.3,1018.9 L977.2,1012.5 L987.5,1012.1 Z"/>
  <path fill="#1d3a57" d="M1029.0,1007.0 L1034.1,1021.0 L1049.0,1021.5 L1037.3,1030.7 L1041.3,1045.0 L1029.0,1036.7 L1016.7,1045.0 L1020.7,1030.7 L1009.0,1021.5 L1023.9,1021.0 Z"/>
  <path fill="#1d3a57" d="M1066.0,1002.5 L1069.5,1012.1 L1079.8,1012.5 L1071.7,1018.9 L1074.5,1028.7 L1066.0,1023.0 L1057.5,1028.7 L1060.3,1018.9 L1052.2,1012.5 L1062.5,1012.1 Z"/>
  <path fill="#1d3a57" d="M1094.0,990.0 L1096.9,998.0 L1105.4,998.3 L1098.8,1003.5 L1101.1,1011.7 L1094.0,1007.0 L1086.9,1011.7 L1089.2,1003.5 L1082.6,998.3 L1091.1,998.0 Z"/>
</g>
<g>
  <path id="arcTop" d="M1236.7,966 A75.3,75.3 0 0 1 1387.3,966" fill="none"/>
  <path id="arcBot" d="M1221.5,966 A90.5,90.5 0 0 0 1402.5,966" fill="none"/>
  <circle cx="1312" cy="966" r="109" fill="#ffffff" stroke="#1d3a57" stroke-width="6"/>
  <path fill="#1d3a57" d="M1213.6,964 A98.4,98.4 0 0 1 1410.4,964 L1381,964 A69,69 0 0 0 1243,964 Z"/>
  <circle cx="1311" cy="966" r="52.5" fill="#1d3a57"/>
  <path fill="#ffffff" d="M1304,921 L1328.5,921 L1328.5,1017 L1300.5,1017 L1300.5,960 L1277.7,960 L1277.7,942.4 L1293,942.4 C1300,941 1303,936 1303,928 Z"/>
  <path fill="#1d3a57" d="M1228.6,970.8 L1230.5,975.7 L1235.7,976.0 L1231.6,979.3 L1233.0,984.4 L1228.6,981.5 L1224.2,984.4 L1225.6,979.3 L1221.5,976.0 L1226.7,975.7 Z"/>
  <path fill="#1d3a57" d="M1395.0,970.8 L1396.9,975.7 L1402.1,976.0 L1398.0,979.3 L1399.4,984.4 L1395.0,981.5 L1390.6,984.4 L1392.0,979.3 L1387.9,976.0 L1393.1,975.7 Z"/>
  <text font-size="21" font-weight="bold" fill="#ffffff" stroke="#ffffff" stroke-width="1.4"><textPath href="#arcTop" startOffset="50%" text-anchor="middle" textLength="196" lengthAdjust="spacing">1 YEAR LIMITED</textPath></text>
  <text font-size="27.5" font-weight="bold" fill="#1d3a57" stroke="#1d3a57" stroke-width="1.6"><textPath href="#arcBot" startOffset="50%" text-anchor="middle" textLength="212" lengthAdjust="spacing">COVERAGE</textPath></text>
</g>
<rect x="919.2" y="1129.9" width="492.6" height="66" rx="14" fill="none" stroke="#69a33a" stroke-width="2.6"/>
<text x="954" y="1171" font-size="32" font-weight="bold" font-style="italic" fill="#0d0d0d" textLength="425" lengthAdjust="spacingAndGlyphs">Weight: 62.30 Lb | 28.26 kg</text>
<g>
  <path fill="#ffffff" d="M1002,1217 L1049,1217 L1049,1270 L1025.5,1283 L1002,1270 Z"/>
  <rect x="1002" y="1217" width="47" height="24" fill="#2a4a93"/>
  <path fill="#d3343a" d="M1008,1241 L1015,1241 L1015,1276 L1008,1272 Z M1022,1241 L1029,1241 L1029,1283 L1022,1281 Z M1036,1241 L1043,1241 L1043,1273 L1036,1277 Z"/>
  <path fill="#ffffff" d="M1011.5,1223.5 L1013.0,1227.5 L1017.2,1227.6 L1013.9,1230.3 L1015.0,1234.4 L1011.5,1232.0 L1008.0,1234.4 L1009.1,1230.3 L1005.8,1227.6 L1010.0,1227.5 Z M1025.5,1223.5 L1027.0,1227.5 L1031.2,1227.6 L1027.9,1230.3 L1029.0,1234.4 L1025.5,1232.0 L1022.0,1234.4 L1023.1,1230.3 L1019.8,1227.6 L1024.0,1227.5 Z M1039.5,1223.5 L1041.0,1227.5 L1045.2,1227.6 L1041.9,1230.3 L1043.0,1234.4 L1039.5,1232.0 L1036.0,1234.4 L1037.1,1230.3 L1033.8,1227.6 L1038.0,1227.5 Z"/>
</g>
<text x="1062" y="1258.7" font-size="33" fill="#111111" stroke="#111111" stroke-width="0.7" textLength="291.6" lengthAdjust="spacingAndGlyphs">US BASED SELLER</text>
<g stroke="#6cb33f" stroke-width="3" fill="none" stroke-linecap="round">
  <path d="M98.6,329 L101,590"/>
  <path d="M102.5,700 L105.5,969"/>
  <path d="M137,1001 L311,1144"/>
  <path d="M360,1148 L690,1071"/>
</g>
<g fill="#6cb33f">
  <circle cx="98.6" cy="329" r="6"/><circle cx="105.5" cy="969" r="6"/>
  <circle cx="137" cy="1001" r="6"/><circle cx="311" cy="1144" r="6"/>
  <circle cx="360" cy="1148" r="6"/><circle cx="690" cy="1071" r="6"/>
</g>
<text x="26.4" y="660.7" font-size="35" font-weight="bold" font-style="italic" fill="#0d0d0d" textLength="133" lengthAdjust="spacingAndGlyphs">41.33 in</text>
<text transform="translate(135.5,1053) rotate(40.7)" font-size="35" font-weight="bold" fill="#0d0d0d" textLength="132.6" lengthAdjust="spacingAndGlyphs">21.05 in</text>
<text transform="translate(492,1164) rotate(-11.6)" font-size="35" font-weight="bold" fill="#0d0d0d" textLength="132.5" lengthAdjust="spacingAndGlyphs">21.05 in</text>
<g>
  <path fill="#6cbd33" stroke="#4f9a25" stroke-width="0.6" d="M55.7,1248.3 C66,1246 80,1252 87.7,1266.2 Z M33.3,1251.5 L47.7,1250.4 L86.5,1269.5 L84.5,1271 Z M26.4,1255.5 L87,1273 L86.7,1274.2 L42.9,1274.7 C36,1268 31,1262 26.4,1255.5 Z M50.9,1281.6 L84,1277.3 C80,1283 72,1286 62.7,1285.3 Z"/>
  <path fill="#1a1a1a" d="M91,1284 L117,1250 L130,1250 L156,1284 L143,1284 L123.5,1258.5 L104,1284 Z"/>
  <path fill="#1a1a1a" d="M148,1250 L156,1250 L156,1277 L178,1277 L178,1284 L148,1284 Z"/>
  <path fill="#1a1a1a" fill-rule="evenodd" d="M181,1250 L213,1250 C222,1250 224,1256 224,1262 C224,1268 222,1274 213,1274 L189,1274 L189,1284 L181,1284 Z M189,1257 L212,1257 C216,1257 216,1260 216,1262 C216,1264 216,1267 212,1267 L189,1267 Z"/>
  <rect x="226" y="1250" width="9" height="34" fill="#1a1a1a"/>
  <path fill="#1a1a1a" d="M239,1250 L248,1250 L266,1272 L266,1250 L275,1250 L275,1284 L266,1284 L248,1262 L248,1284 L239,1284 Z"/>
  <path fill="#1a1a1a" d="M277,1250 L313,1250 L313,1257 L277,1257 Z M279,1264 L313,1264 L313,1270 L279,1270 Z M277,1277 L313,1277 L313,1284 L277,1284 Z"/>
</g>
<text x="51" y="98" font-size="71" font-weight="bold" fill="#000" stroke="#000" stroke-width="1.6" textLength="398" lengthAdjust="spacingAndGlyphs">Dimension</text>
<g font-style="italic" font-weight="bold" font-size="33.5" fill="#0a0a0a" stroke="#0a0a0a" stroke-width="0.5">
  <text x="1067" y="139.5" textLength="357.7" lengthAdjust="spacingAndGlyphs">Two chains prevent</text>
  <text x="1086" y="189.5" textLength="338.5" lengthAdjust="spacingAndGlyphs">the lid from falling</text>
  <text x="1176.7" y="240" textLength="247.8" lengthAdjust="spacingAndGlyphs">when opened</text>
</g>
</svg>
</body></html>
